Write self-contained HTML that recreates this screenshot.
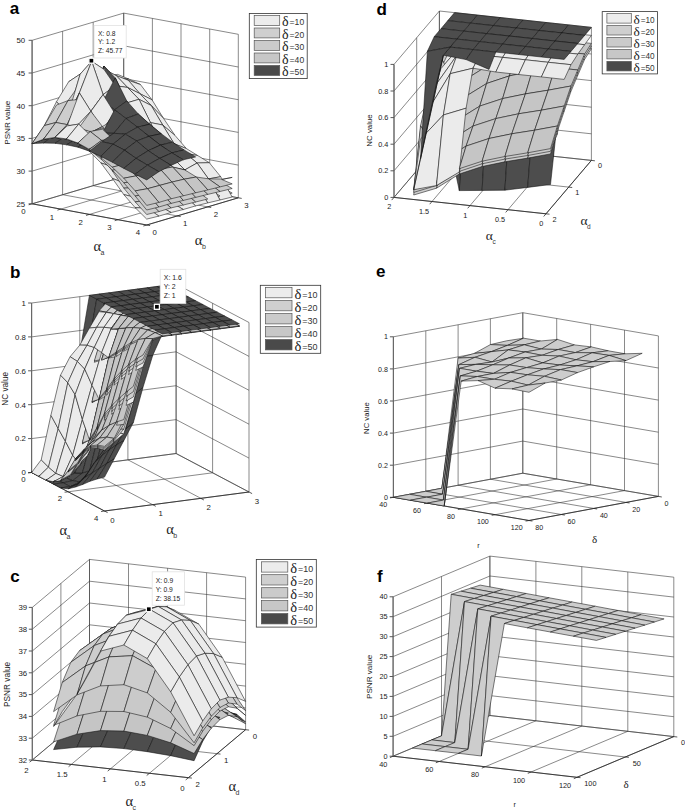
<!DOCTYPE html>
<html><head><meta charset="utf-8"><style>
html,body{margin:0;padding:0;background:#fff;}
svg{display:block;font-family:"Liberation Sans",sans-serif;}
</style></head><body>
<svg width="685" height="811" viewBox="0 0 685 811">
<rect width="685" height="811" fill="#fff"/>
<path d="M32.1,203.8L123.7,176.6M60.8,209.1L152.4,181.9M89.4,214.4L181,187.2M118,219.7L209.7,192.5M146.7,225L238.3,197.8M32.1,203.8L146.7,225M62.6,194.7L177.2,215.9M93.2,185.7L207.8,206.9M123.7,176.6L238.3,197.8M32.1,203.8L32.1,40.3M62.6,194.7L62.6,31.2M93.2,185.7L93.2,22.2M123.7,176.6L123.7,13.1M32.1,203.8L123.7,176.6M32.1,171.1L123.7,143.9M32.1,138.4L123.7,111.2M32.1,105.7L123.7,78.5M32.1,73L123.7,45.8M32.1,40.3L123.7,13.1M123.7,176.6L123.7,13.1M152.4,181.9L152.4,18.4M181,187.2L181,23.7M209.7,192.5L209.7,29M238.3,197.8L238.3,34.3M123.7,176.6L238.3,197.8M123.7,143.9L238.3,165.1M123.7,111.2L238.3,132.4M123.7,78.5L238.3,99.7M123.7,45.8L238.3,67M123.7,13.1L238.3,34.3" stroke="#3a3a3a" stroke-width="0.6" fill="none"/>
<path d="M32.1,203.8L146.7,225M146.7,225L238.3,197.8M32.1,203.8L28.6,203.8M32.1,171.1L28.6,171.1M32.1,138.4L28.6,138.4M32.1,105.7L28.6,105.7M32.1,73L28.6,73M32.1,40.3L28.6,40.3M32.1,203.8L28.7,204.8M60.8,209.1L57.4,210.1M89.4,214.4L86,215.4M118,219.7L114.7,220.7M146.7,225L143.3,226M146.7,225L150.1,225.6M177.2,215.9L180.7,216.6M207.8,206.9L211.2,207.5M238.3,197.8L241.7,198.4" stroke="#222" stroke-width="0.75" fill="none"/>
<path d="M32.1,203.8L32.1,40.3" stroke="#666" stroke-width="1.1" fill="none"/>
<text x="25.1" y="206.6" font-size="7.8" text-anchor="end" fill="#1a1a1a" >25</text>
<text x="25.1" y="173.9" font-size="7.8" text-anchor="end" fill="#1a1a1a" >30</text>
<text x="25.1" y="141.2" font-size="7.8" text-anchor="end" fill="#1a1a1a" >35</text>
<text x="25.1" y="108.5" font-size="7.8" text-anchor="end" fill="#1a1a1a" >40</text>
<text x="25.1" y="75.8" font-size="7.8" text-anchor="end" fill="#1a1a1a" >45</text>
<text x="25.1" y="43.1" font-size="7.8" text-anchor="end" fill="#1a1a1a" >50</text>
<text x="25.6" y="214.2" font-size="7.8" text-anchor="end" fill="#1a1a1a" >0</text>
<text x="54.2" y="219.5" font-size="7.8" text-anchor="end" fill="#1a1a1a" >1</text>
<text x="82.9" y="224.8" font-size="7.8" text-anchor="end" fill="#1a1a1a" >2</text>
<text x="111.5" y="230.1" font-size="7.8" text-anchor="end" fill="#1a1a1a" >3</text>
<text x="140.2" y="235.4" font-size="7.8" text-anchor="end" fill="#1a1a1a" >4</text>
<text x="152.6" y="234.9" font-size="7.8" text-anchor="start" fill="#1a1a1a" >0</text>
<text x="183.1" y="225.8" font-size="7.8" text-anchor="start" fill="#1a1a1a" >1</text>
<text x="213.7" y="216.8" font-size="7.8" text-anchor="start" fill="#1a1a1a" >2</text>
<text x="244.2" y="207.7" font-size="7.8" text-anchor="start" fill="#1a1a1a" >3</text>
<text x="9.7" y="14" font-size="17" text-anchor="start" fill="#000" font-weight="bold" >a</text>
<text x="0" y="0" font-size="8.1" text-anchor="middle" fill="#1a1a1a" transform="translate(9.6,122.7) rotate(-90)">PSNR value</text>
<text x="93.6" y="251" font-family='"Liberation Serif", serif' font-size="14.5" text-anchor="start" fill="#222" >α</text>
<text x="100.6" y="255.2" font-size="7" text-anchor="start" fill="#333" >a</text>
<text x="194.8" y="245" font-family='"Liberation Serif", serif' font-size="14.5" text-anchor="start" fill="#222" >α</text>
<text x="201.9" y="249.2" font-size="7" text-anchor="start" fill="#333" >b</text>
<path d="M31.6,472.5L176.1,453.5M68.1,491.8L212.6,472.8M104.5,511L249,492M31.6,472.5L104.5,511M79.8,466.2L152.7,504.7M127.9,459.8L200.8,498.3M176.1,453.5L249,492M31.6,472.5L31.6,303M79.8,466.2L79.8,296.7M127.9,459.8L127.9,290.3M176.1,453.5L176.1,284M31.6,472.5L176.1,453.5M31.6,438.6L176.1,419.6M31.6,404.7L176.1,385.7M31.6,370.8L176.1,351.8M31.6,336.9L176.1,317.9M31.6,303L176.1,284M176.1,453.5L176.1,284M212.6,472.8L212.6,303.2M249,492L249,322.5M176.1,453.5L249,492M176.1,419.6L249,458.1M176.1,385.7L249,424.2M176.1,351.8L249,390.3M176.1,317.9L249,356.4M176.1,284L249,322.5" stroke="#3a3a3a" stroke-width="0.6" fill="none"/>
<path d="M31.6,472.5L104.5,511M104.5,511L249,492M31.6,472.5L28.1,472.5M31.6,438.6L28.1,438.6M31.6,404.7L28.1,404.7M31.6,370.8L28.1,370.8M31.6,336.9L28.1,336.9M31.6,303L28.1,303M31.6,472.5L28.1,473M68.1,491.8L64.6,492.2M104.5,511L101,511.5M104.5,511L107.6,512.6M152.7,504.7L155.8,506.3M200.8,498.3L203.9,500M249,492L252.1,493.6" stroke="#222" stroke-width="0.75" fill="none"/>
<path d="M31.6,472.5L31.6,303" stroke="#666" stroke-width="1.1" fill="none"/>
<text x="25.9" y="475.3" font-size="7.8" text-anchor="end" fill="#1a1a1a" >0</text>
<text x="25.9" y="441.4" font-size="7.8" text-anchor="end" fill="#1a1a1a" >0.2</text>
<text x="25.9" y="407.5" font-size="7.8" text-anchor="end" fill="#1a1a1a" >0.4</text>
<text x="25.9" y="373.6" font-size="7.8" text-anchor="end" fill="#1a1a1a" >0.6</text>
<text x="25.9" y="339.7" font-size="7.8" text-anchor="end" fill="#1a1a1a" >0.8</text>
<text x="25.9" y="305.8" font-size="7.8" text-anchor="end" fill="#1a1a1a" >1</text>
<text x="25.5" y="482.2" font-size="7.8" text-anchor="end" fill="#1a1a1a" >0</text>
<text x="62" y="501.4" font-size="7.8" text-anchor="end" fill="#1a1a1a" >2</text>
<text x="98.4" y="520.7" font-size="7.8" text-anchor="end" fill="#1a1a1a" >4</text>
<text x="110.2" y="522.6" font-size="7.8" text-anchor="start" fill="#1a1a1a" >0</text>
<text x="158.4" y="516.3" font-size="7.8" text-anchor="start" fill="#1a1a1a" >1</text>
<text x="206.5" y="509.9" font-size="7.8" text-anchor="start" fill="#1a1a1a" >2</text>
<text x="254.7" y="503.6" font-size="7.8" text-anchor="start" fill="#1a1a1a" >3</text>
<text x="10.1" y="278.4" font-size="17" text-anchor="start" fill="#000" font-weight="bold" >b</text>
<text x="0" y="0" font-size="8.2" text-anchor="middle" fill="#1a1a1a" transform="translate(7.9,388.8) rotate(-90)">NC value</text>
<text x="59.4" y="534.5" font-family='"Liberation Serif", serif' font-size="14.5" text-anchor="start" fill="#222" >α</text>
<text x="66.5" y="538.7" font-size="7" text-anchor="start" fill="#333" >a</text>
<text x="166.2" y="533.5" font-family='"Liberation Serif", serif' font-size="14.5" text-anchor="start" fill="#222" >α</text>
<text x="173.2" y="537.7" font-size="7" text-anchor="start" fill="#333" >b</text>
<path d="M32.3,760L89.5,712M71.3,764.4L128.5,716.4M110.4,768.9L167.6,720.9M149.4,773.3L206.6,725.3M188.4,777.7L245.6,729.7M32.3,760L188.4,777.7M60.9,736L217,753.7M89.5,712L245.6,729.7M32.3,760L32.3,607.4M60.9,736L60.9,583.4M89.5,712L89.5,559.4M32.3,760L89.5,712M32.3,738.2L89.5,690.2M32.3,716.4L89.5,668.4M32.3,694.6L89.5,646.6M32.3,672.8L89.5,624.8M32.3,651L89.5,603M32.3,629.2L89.5,581.2M32.3,607.4L89.5,559.4M89.5,712L89.5,559.4M128.5,716.4L128.5,563.8M167.6,720.9L167.6,568.2M206.6,725.3L206.6,572.7M245.6,729.7L245.6,577.1M89.5,712L245.6,729.7M89.5,690.2L245.6,707.9M89.5,668.4L245.6,686.1M89.5,646.6L245.6,664.3M89.5,624.8L245.6,642.5M89.5,603L245.6,620.7M89.5,581.2L245.6,598.9M89.5,559.4L245.6,577.1" stroke="#3a3a3a" stroke-width="0.6" fill="none"/>
<path d="M32.3,760L188.4,777.7M188.4,777.7L245.6,729.7M32.3,760L28.8,760M32.3,738.2L28.8,738.2M32.3,716.4L28.8,716.4M32.3,694.6L28.8,694.6M32.3,672.8L28.8,672.8M32.3,651L28.8,651M32.3,629.2L28.8,629.2M32.3,607.4L28.8,607.4M32.3,760L29.6,762.2M71.3,764.4L68.6,766.7M110.4,768.9L107.7,771.1M149.4,773.3L146.7,775.5M188.4,777.7L185.7,779.9M188.4,777.7L191.9,778.1M217,753.7L220.5,754.1M245.6,729.7L249.1,730.1" stroke="#222" stroke-width="0.75" fill="none"/>
<path d="M32.3,760L32.3,607.4" stroke="#666" stroke-width="1.1" fill="none"/>
<text x="27.1" y="762.8" font-size="7.8" text-anchor="end" fill="#1a1a1a" >32</text>
<text x="27.1" y="741" font-size="7.8" text-anchor="end" fill="#1a1a1a" >33</text>
<text x="27.1" y="719.2" font-size="7.8" text-anchor="end" fill="#1a1a1a" >34</text>
<text x="27.1" y="697.4" font-size="7.8" text-anchor="end" fill="#1a1a1a" >35</text>
<text x="27.1" y="675.6" font-size="7.8" text-anchor="end" fill="#1a1a1a" >36</text>
<text x="27.1" y="653.8" font-size="7.8" text-anchor="end" fill="#1a1a1a" >37</text>
<text x="27.1" y="632" font-size="7.8" text-anchor="end" fill="#1a1a1a" >38</text>
<text x="27.1" y="610.2" font-size="7.8" text-anchor="end" fill="#1a1a1a" >39</text>
<text x="28.6" y="772.9" font-size="7.8" text-anchor="end" fill="#1a1a1a" >2</text>
<text x="67.6" y="777.3" font-size="7.8" text-anchor="end" fill="#1a1a1a" >1.5</text>
<text x="106.7" y="781.8" font-size="7.8" text-anchor="end" fill="#1a1a1a" >1</text>
<text x="145.7" y="786.2" font-size="7.8" text-anchor="end" fill="#1a1a1a" >0.5</text>
<text x="184.7" y="790.6" font-size="7.8" text-anchor="end" fill="#1a1a1a" >0</text>
<text x="195.5" y="786.6" font-size="7.8" text-anchor="start" fill="#1a1a1a" >2</text>
<text x="224.1" y="762.6" font-size="7.8" text-anchor="start" fill="#1a1a1a" >1</text>
<text x="252.7" y="738.6" font-size="7.8" text-anchor="start" fill="#1a1a1a" >0</text>
<text x="10.3" y="581.8" font-size="17" text-anchor="start" fill="#000" font-weight="bold" >c</text>
<text x="0" y="0" font-size="8.3" text-anchor="middle" fill="#1a1a1a" transform="translate(10,684.4) rotate(-90)">PSNR value</text>
<text x="125.5" y="806" font-family='"Liberation Serif", serif' font-size="14.5" text-anchor="start" fill="#222" >α</text>
<text x="132.6" y="810.2" font-size="7" text-anchor="start" fill="#333" >c</text>
<text x="228.4" y="791" font-family='"Liberation Serif", serif' font-size="14.5" text-anchor="start" fill="#222" >α</text>
<text x="235.5" y="795.2" font-size="7" text-anchor="start" fill="#333" >d</text>
<path d="M394,197.4L439.4,144M432,201.5L477.4,148.1M470,205.6L515.4,152.2M508,209.7L553.4,156.3M546,213.8L591.4,160.4M394,197.4L546,213.8M416.7,170.7L568.7,187.1M439.4,144L591.4,160.4M394,197.4L394,64.4M416.7,170.7L416.7,37.7M439.4,144L439.4,11M394,197.4L439.4,144M394,170.8L439.4,117.4M394,144.2L439.4,90.8M394,117.6L439.4,64.2M394,91L439.4,37.6M394,64.4L439.4,11M439.4,144L439.4,11M477.4,148.1L477.4,15.1M515.4,152.2L515.4,19.2M553.4,156.3L553.4,23.3M591.4,160.4L591.4,27.4M439.4,144L591.4,160.4M439.4,117.4L591.4,133.8M439.4,90.8L591.4,107.2M439.4,64.2L591.4,80.6M439.4,37.6L591.4,54M439.4,11L591.4,27.4" stroke="#3a3a3a" stroke-width="0.6" fill="none"/>
<path d="M394,197.4L546,213.8M546,213.8L591.4,160.4M394,197.4L390.5,197.4M394,170.8L390.5,170.8M394,144.2L390.5,144.2M394,117.6L390.5,117.6M394,91L390.5,91M394,64.4L390.5,64.4M394,197.4L391.7,200.1M432,201.5L429.7,204.2M470,205.6L467.7,208.3M508,209.7L505.7,212.4M546,213.8L543.7,216.5M546,213.8L549.5,214.2M568.7,187.1L572.2,187.5M591.4,160.4L594.9,160.8" stroke="#222" stroke-width="0.75" fill="none"/>
<path d="M394,197.4L394,64.4" stroke="#666" stroke-width="1.1" fill="none"/>
<text x="388.3" y="200" font-size="7.3" text-anchor="end" fill="#1a1a1a" >0</text>
<text x="388.3" y="173.4" font-size="7.3" text-anchor="end" fill="#1a1a1a" >0.2</text>
<text x="388.3" y="146.8" font-size="7.3" text-anchor="end" fill="#1a1a1a" >0.4</text>
<text x="388.3" y="120.2" font-size="7.3" text-anchor="end" fill="#1a1a1a" >0.6</text>
<text x="388.3" y="93.6" font-size="7.3" text-anchor="end" fill="#1a1a1a" >0.8</text>
<text x="388.3" y="67" font-size="7.3" text-anchor="end" fill="#1a1a1a" >1</text>
<text x="391.2" y="209.4" font-size="7.3" text-anchor="end" fill="#1a1a1a" >2</text>
<text x="429.2" y="213.5" font-size="7.3" text-anchor="end" fill="#1a1a1a" >1.5</text>
<text x="467.2" y="217.6" font-size="7.3" text-anchor="end" fill="#1a1a1a" >1</text>
<text x="505.2" y="221.7" font-size="7.3" text-anchor="end" fill="#1a1a1a" >0.5</text>
<text x="543.2" y="225.8" font-size="7.3" text-anchor="end" fill="#1a1a1a" >0</text>
<text x="552.5" y="221.8" font-size="7.3" text-anchor="start" fill="#1a1a1a" >2</text>
<text x="575.2" y="195.1" font-size="7.3" text-anchor="start" fill="#1a1a1a" >1</text>
<text x="597.9" y="168.4" font-size="7.3" text-anchor="start" fill="#1a1a1a" >0</text>
<text x="376.5" y="14.8" font-size="17" text-anchor="start" fill="#000" font-weight="bold" >d</text>
<text x="0" y="0" font-size="7.85" text-anchor="middle" fill="#1a1a1a" transform="translate(372.4,130.5) rotate(-90)">NC value</text>
<text x="485.8" y="240" font-family='"Liberation Serif", serif' font-size="13.5" text-anchor="start" fill="#222" >α</text>
<text x="492.4" y="244.2" font-size="6.5" text-anchor="start" fill="#333" >c</text>
<text x="580.5" y="225" font-family='"Liberation Serif", serif' font-size="13.5" text-anchor="start" fill="#222" >α</text>
<text x="587" y="229.2" font-size="6.5" text-anchor="start" fill="#333" >d</text>
<path d="M393.4,497.3L522.8,473.2M427.3,503.1L556.7,479M461.2,508.9L590.6,484.8M495.1,514.7L624.5,490.6M529,520.5L658.4,496.4M393.4,497.3L529,520.5M425.8,491.3L561.4,514.5M458.1,485.2L593.7,508.4M490.4,479.2L626,502.4M522.8,473.2L658.4,496.4M393.4,497.3L393.4,336.8M425.8,491.3L425.8,330.8M458.1,485.2L458.1,324.8M490.4,479.2L490.4,318.7M522.8,473.2L522.8,312.7M393.4,497.3L522.8,473.2M393.4,465.2L522.8,441.1M393.4,433.1L522.8,409M393.4,401L522.8,376.9M393.4,368.9L522.8,344.8M393.4,336.8L522.8,312.7M522.8,473.2L522.8,312.7M556.7,479L556.7,318.5M590.6,484.8L590.6,324.3M624.5,490.6L624.5,330.1M658.4,496.4L658.4,335.9M522.8,473.2L658.4,496.4M522.8,441.1L658.4,464.3M522.8,409L658.4,432.2M522.8,376.9L658.4,400.1M522.8,344.8L658.4,368M522.8,312.7L658.4,335.9" stroke="#3a3a3a" stroke-width="0.6" fill="none"/>
<path d="M393.4,497.3L529,520.5M529,520.5L658.4,496.4M393.4,497.3L389.9,497.3M393.4,465.2L389.9,465.2M393.4,433.1L389.9,433.1M393.4,401L389.9,401M393.4,368.9L389.9,368.9M393.4,336.8L389.9,336.8M393.4,497.3L390,497.9M427.3,503.1L423.9,503.7M461.2,508.9L457.8,509.5M495.1,514.7L491.7,515.3M529,520.5L525.6,521.1M529,520.5L532.4,521.1M561.4,514.5L564.8,515.1M593.7,508.4L597.1,509M626,502.4L629.5,503M658.4,496.4L661.8,497" stroke="#222" stroke-width="0.75" fill="none"/>
<path d="M393.4,497.3L393.4,336.8" stroke="#666" stroke-width="1.1" fill="none"/>
<text x="387.9" y="499.9" font-size="7.1" text-anchor="end" fill="#1a1a1a" >0</text>
<text x="387.9" y="467.8" font-size="7.1" text-anchor="end" fill="#1a1a1a" >0.2</text>
<text x="387.9" y="435.7" font-size="7.1" text-anchor="end" fill="#1a1a1a" >0.4</text>
<text x="387.9" y="403.6" font-size="7.1" text-anchor="end" fill="#1a1a1a" >0.6</text>
<text x="387.9" y="371.5" font-size="7.1" text-anchor="end" fill="#1a1a1a" >0.8</text>
<text x="387.9" y="339.4" font-size="7.1" text-anchor="end" fill="#1a1a1a" >1</text>
<text x="387.1" y="507" font-size="7.1" text-anchor="end" fill="#1a1a1a" >40</text>
<text x="421" y="512.8" font-size="7.1" text-anchor="end" fill="#1a1a1a" >60</text>
<text x="454.9" y="518.6" font-size="7.1" text-anchor="end" fill="#1a1a1a" >80</text>
<text x="488.8" y="524.4" font-size="7.1" text-anchor="end" fill="#1a1a1a" >100</text>
<text x="522.7" y="530.2" font-size="7.1" text-anchor="end" fill="#1a1a1a" >120</text>
<text x="535.2" y="530" font-size="7.1" text-anchor="start" fill="#1a1a1a" >80</text>
<text x="567.6" y="524" font-size="7.1" text-anchor="start" fill="#1a1a1a" >60</text>
<text x="599.9" y="518" font-size="7.1" text-anchor="start" fill="#1a1a1a" >40</text>
<text x="632.2" y="511.9" font-size="7.1" text-anchor="start" fill="#1a1a1a" >20</text>
<text x="664.6" y="505.9" font-size="7.1" text-anchor="start" fill="#1a1a1a" >0</text>
<text x="376" y="277.3" font-size="17" text-anchor="start" fill="#000" font-weight="bold" >e</text>
<text x="0" y="0" font-size="7.7" text-anchor="middle" fill="#1a1a1a" transform="translate(369.1,418.1) rotate(-90)">NC value</text>
<text x="592" y="543" font-family='"Liberation Serif", serif' font-size="11" text-anchor="start" fill="#222" >δ</text>
<text x="477.3" y="548.3" font-size="7.2" text-anchor="start" fill="#222" >r</text>
<path d="M393.1,756.2L489.9,715.5M439.1,761.5L535.9,720.8M485.1,766.8L581.8,726.1M531,772L627.8,731.3M577,777.3L673.8,736.6M393.1,756.2L577,777.3M441.5,735.9L625.4,757M489.9,715.5L673.8,736.6M393.1,756.2L393.1,596.8M441.5,735.9L441.5,576.5M489.9,715.5L489.9,556.1M393.1,756.2L489.9,715.5M393.1,736.3L489.9,695.6M393.1,716.4L489.9,675.7M393.1,696.4L489.9,655.7M393.1,676.5L489.9,635.8M393.1,656.6L489.9,615.9M393.1,636.7L489.9,596M393.1,616.7L489.9,576M393.1,596.8L489.9,556.1M489.9,715.5L489.9,556.1M535.9,720.8L535.9,561.4M581.8,726.1L581.8,566.7M627.8,731.3L627.8,571.9M673.8,736.6L673.8,577.2M489.9,715.5L673.8,736.6M489.9,695.6L673.8,716.7M489.9,675.7L673.8,696.8M489.9,655.7L673.8,676.8M489.9,635.8L673.8,656.9M489.9,615.9L673.8,637M489.9,596L673.8,617M489.9,576L673.8,597.1M489.9,556.1L673.8,577.2" stroke="#3a3a3a" stroke-width="0.6" fill="none"/>
<path d="M393.1,756.2L577,777.3M577,777.3L673.8,736.6M393.1,756.2L389.6,756.2M393.1,736.3L389.6,736.3M393.1,716.4L389.6,716.4M393.1,696.4L389.6,696.4M393.1,676.5L389.6,676.5M393.1,656.6L389.6,656.6M393.1,636.7L389.6,636.7M393.1,616.7L389.6,616.7M393.1,596.8L389.6,596.8M393.1,756.2L389.9,757.6M439.1,761.5L435.8,762.8M485.1,766.8L481.8,768.1M531,772L527.8,773.4M577,777.3L573.8,778.7M577,777.3L580.5,777.7M625.4,757L628.9,757.3M673.8,736.6L677.3,737" stroke="#222" stroke-width="0.75" fill="none"/>
<path d="M393.1,756.2L393.1,596.8" stroke="#666" stroke-width="1.1" fill="none"/>
<text x="387.6" y="758.8" font-size="7.3" text-anchor="end" fill="#1a1a1a" >0</text>
<text x="387.6" y="738.9" font-size="7.3" text-anchor="end" fill="#1a1a1a" >5</text>
<text x="387.6" y="719" font-size="7.3" text-anchor="end" fill="#1a1a1a" >10</text>
<text x="387.6" y="699.1" font-size="7.3" text-anchor="end" fill="#1a1a1a" >15</text>
<text x="387.6" y="679.1" font-size="7.3" text-anchor="end" fill="#1a1a1a" >20</text>
<text x="387.6" y="659.2" font-size="7.3" text-anchor="end" fill="#1a1a1a" >25</text>
<text x="387.6" y="639.3" font-size="7.3" text-anchor="end" fill="#1a1a1a" >30</text>
<text x="387.6" y="619.4" font-size="7.3" text-anchor="end" fill="#1a1a1a" >35</text>
<text x="387.6" y="599.4" font-size="7.3" text-anchor="end" fill="#1a1a1a" >40</text>
<text x="387.3" y="766.7" font-size="7.3" text-anchor="end" fill="#1a1a1a" >40</text>
<text x="433.3" y="772" font-size="7.3" text-anchor="end" fill="#1a1a1a" >60</text>
<text x="479.2" y="777.2" font-size="7.3" text-anchor="end" fill="#1a1a1a" >80</text>
<text x="525.2" y="782.5" font-size="7.3" text-anchor="end" fill="#1a1a1a" >100</text>
<text x="571.2" y="787.8" font-size="7.3" text-anchor="end" fill="#1a1a1a" >120</text>
<text x="584.3" y="786.1" font-size="7.3" text-anchor="start" fill="#1a1a1a" >100</text>
<text x="632.7" y="765.8" font-size="7.3" text-anchor="start" fill="#1a1a1a" >50</text>
<text x="681.1" y="745.4" font-size="7.3" text-anchor="start" fill="#1a1a1a" >0</text>
<text x="377" y="581.8" font-size="17" text-anchor="start" fill="#000" font-weight="bold" >f</text>
<text x="0" y="0" font-size="8.1" text-anchor="middle" fill="#1a1a1a" transform="translate(371.5,676.9) rotate(-90)">PSNR value</text>
<text x="623.5" y="787.8" font-family='"Liberation Serif", serif' font-size="11" text-anchor="start" fill="#222" >δ</text>
<text x="513.5" y="807.2" font-size="7.2" text-anchor="start" fill="#222" >r</text>
<rect x="249.3" y="13.4" width="57.9" height="65.2" fill="#fff" stroke="#333" stroke-width="0.8"/>
<rect x="254.2" y="15.5" width="25.5" height="9.9" fill="#ececec" stroke="#555" stroke-width="0.7"/>
<text x="282" y="26.4" font-family='"Liberation Serif", serif' font-size="14.0" text-anchor="start" fill="#222" >δ</text>
<text x="289.6" y="25.1" font-size="8.6" text-anchor="start" fill="#333" >=10</text>
<rect x="254.2" y="28" width="25.5" height="9.9" fill="#cfcfcf" stroke="#555" stroke-width="0.7"/>
<text x="282" y="38.9" font-family='"Liberation Serif", serif' font-size="14.0" text-anchor="start" fill="#222" >δ</text>
<text x="289.6" y="37.6" font-size="8.6" text-anchor="start" fill="#333" >=20</text>
<rect x="254.2" y="40.5" width="25.5" height="9.9" fill="#cbcbcb" stroke="#555" stroke-width="0.7"/>
<text x="282" y="51.4" font-family='"Liberation Serif", serif' font-size="14.0" text-anchor="start" fill="#222" >δ</text>
<text x="289.6" y="50.1" font-size="8.6" text-anchor="start" fill="#333" >=30</text>
<rect x="254.2" y="53" width="25.5" height="9.9" fill="#c7c7c7" stroke="#555" stroke-width="0.7"/>
<text x="282" y="63.9" font-family='"Liberation Serif", serif' font-size="14.0" text-anchor="start" fill="#222" >δ</text>
<text x="289.6" y="62.6" font-size="8.6" text-anchor="start" fill="#333" >=40</text>
<rect x="254.2" y="65.5" width="25.5" height="9.9" fill="#4a4a4a" stroke="#555" stroke-width="0.7"/>
<text x="282" y="76.4" font-family='"Liberation Serif", serif' font-size="14.0" text-anchor="start" fill="#222" >δ</text>
<text x="289.6" y="75.1" font-size="8.6" text-anchor="start" fill="#333" >=50</text>
<rect x="260.3" y="285.3" width="60.4" height="68" fill="#fff" stroke="#333" stroke-width="0.8"/>
<rect x="265.4" y="287.5" width="26.6" height="10.3" fill="#ececec" stroke="#555" stroke-width="0.7"/>
<text x="294.4" y="298.9" font-family='"Liberation Serif", serif' font-size="14.6" text-anchor="start" fill="#222" >δ</text>
<text x="302.3" y="297.5" font-size="8.97" text-anchor="start" fill="#333" >=10</text>
<rect x="265.4" y="300.5" width="26.6" height="10.3" fill="#cfcfcf" stroke="#555" stroke-width="0.7"/>
<text x="294.4" y="311.9" font-family='"Liberation Serif", serif' font-size="14.6" text-anchor="start" fill="#222" >δ</text>
<text x="302.3" y="310.5" font-size="8.97" text-anchor="start" fill="#333" >=20</text>
<rect x="265.4" y="313.6" width="26.6" height="10.3" fill="#cbcbcb" stroke="#555" stroke-width="0.7"/>
<text x="294.4" y="324.9" font-family='"Liberation Serif", serif' font-size="14.6" text-anchor="start" fill="#222" >δ</text>
<text x="302.3" y="323.6" font-size="8.97" text-anchor="start" fill="#333" >=30</text>
<rect x="265.4" y="326.6" width="26.6" height="10.3" fill="#c7c7c7" stroke="#555" stroke-width="0.7"/>
<text x="294.4" y="338" font-family='"Liberation Serif", serif' font-size="14.6" text-anchor="start" fill="#222" >δ</text>
<text x="302.3" y="336.6" font-size="8.97" text-anchor="start" fill="#333" >=40</text>
<rect x="265.4" y="339.6" width="26.6" height="10.3" fill="#4a4a4a" stroke="#555" stroke-width="0.7"/>
<text x="294.4" y="351" font-family='"Liberation Serif", serif' font-size="14.6" text-anchor="start" fill="#222" >δ</text>
<text x="302.3" y="349.7" font-size="8.97" text-anchor="start" fill="#333" >=50</text>
<rect x="256.3" y="559.6" width="60" height="67.5" fill="#fff" stroke="#333" stroke-width="0.8"/>
<rect x="261.4" y="561.8" width="26.4" height="10.3" fill="#ececec" stroke="#555" stroke-width="0.7"/>
<text x="290.2" y="573.1" font-family='"Liberation Serif", serif' font-size="14.5" text-anchor="start" fill="#222" >δ</text>
<text x="298.1" y="571.7" font-size="8.91" text-anchor="start" fill="#333" >=10</text>
<rect x="261.4" y="574.7" width="26.4" height="10.3" fill="#cfcfcf" stroke="#555" stroke-width="0.7"/>
<text x="290.2" y="586" font-family='"Liberation Serif", serif' font-size="14.5" text-anchor="start" fill="#222" >δ</text>
<text x="298.1" y="584.7" font-size="8.91" text-anchor="start" fill="#333" >=20</text>
<rect x="261.4" y="587.7" width="26.4" height="10.3" fill="#cbcbcb" stroke="#555" stroke-width="0.7"/>
<text x="290.2" y="599" font-family='"Liberation Serif", serif' font-size="14.5" text-anchor="start" fill="#222" >δ</text>
<text x="298.1" y="597.6" font-size="8.91" text-anchor="start" fill="#333" >=30</text>
<rect x="261.4" y="600.6" width="26.4" height="10.3" fill="#c7c7c7" stroke="#555" stroke-width="0.7"/>
<text x="290.2" y="611.9" font-family='"Liberation Serif", serif' font-size="14.5" text-anchor="start" fill="#222" >δ</text>
<text x="298.1" y="610.6" font-size="8.91" text-anchor="start" fill="#333" >=40</text>
<rect x="261.4" y="613.6" width="26.4" height="10.3" fill="#4a4a4a" stroke="#555" stroke-width="0.7"/>
<text x="290.2" y="624.9" font-family='"Liberation Serif", serif' font-size="14.5" text-anchor="start" fill="#222" >δ</text>
<text x="298.1" y="623.5" font-size="8.91" text-anchor="start" fill="#333" >=50</text>
<rect x="602.2" y="11.6" width="55.3" height="62.3" fill="#fff" stroke="#333" stroke-width="0.8"/>
<rect x="606.9" y="13.6" width="24.4" height="9.5" fill="#ececec" stroke="#555" stroke-width="0.7"/>
<text x="633.4" y="24" font-family='"Liberation Serif", serif' font-size="13.37" text-anchor="start" fill="#222" >δ</text>
<text x="640.7" y="22.8" font-size="8.21" text-anchor="start" fill="#333" >=10</text>
<rect x="606.9" y="25.5" width="24.4" height="9.5" fill="#cfcfcf" stroke="#555" stroke-width="0.7"/>
<text x="633.4" y="36" font-family='"Liberation Serif", serif' font-size="13.37" text-anchor="start" fill="#222" >δ</text>
<text x="640.7" y="34.7" font-size="8.21" text-anchor="start" fill="#333" >=20</text>
<rect x="606.9" y="37.5" width="24.4" height="9.5" fill="#cbcbcb" stroke="#555" stroke-width="0.7"/>
<text x="633.4" y="47.9" font-family='"Liberation Serif", serif' font-size="13.37" text-anchor="start" fill="#222" >δ</text>
<text x="640.7" y="46.6" font-size="8.21" text-anchor="start" fill="#333" >=30</text>
<rect x="606.9" y="49.4" width="24.4" height="9.5" fill="#c7c7c7" stroke="#555" stroke-width="0.7"/>
<text x="633.4" y="59.8" font-family='"Liberation Serif", serif' font-size="13.37" text-anchor="start" fill="#222" >δ</text>
<text x="640.7" y="58.6" font-size="8.21" text-anchor="start" fill="#333" >=40</text>
<rect x="606.9" y="61.4" width="24.4" height="9.5" fill="#4a4a4a" stroke="#555" stroke-width="0.7"/>
<text x="633.4" y="71.8" font-family='"Liberation Serif", serif' font-size="13.37" text-anchor="start" fill="#222" >δ</text>
<text x="640.7" y="70.5" font-size="8.21" text-anchor="start" fill="#333" >=50</text>
<g stroke="#111" stroke-width="0.55" stroke-linejoin="round">
<polygon points="506.6,340.8 523.6,338.2 507.4,345.4 490.4,344.6" fill="#cdcdcd"/>
<polygon points="490.4,344.6 507.4,345.4 491.2,351.7 474.3,353.4" fill="#cdcdcd"/>
<polygon points="523.6,338.2 540.5,341 524.3,344.8 507.4,345.4" fill="#cdcdcd"/>
<polygon points="474.3,353.4 491.2,351.7 475,357.3 458.1,358.1" fill="#cdcdcd"/>
<polygon points="507.4,345.4 524.3,344.8 508.2,349.9 491.2,351.7" fill="#cdcdcd"/>
<polygon points="540.5,341 557.5,339.4 541.3,349.1 524.3,344.8" fill="#cdcdcd"/>
<polygon points="458.1,358.1 475,357.3 458.9,364.6 441.9,488.3" fill="#cdcdcd"/>
<polygon points="441.9,488.3 458.9,364.6 442.7,494.2 425.8,491.3" fill="#cdcdcd"/>
<polygon points="491.2,351.7 508.2,349.9 492,362 475,357.3" fill="#cdcdcd"/>
<polygon points="557.5,339.4 574.4,344.9 558.2,349.5 541.3,349.1" fill="#cdcdcd"/>
<polygon points="524.3,344.8 541.3,349.1 525.1,352 508.2,349.9" fill="#cdcdcd"/>
<polygon points="425.8,491.3 442.7,494.2 426.5,497.2 409.6,494.3" fill="#cdcdcd"/>
<polygon points="475,357.3 492,362 475.8,364.4 458.9,364.6" fill="#cdcdcd"/>
<polygon points="574.4,344.9 591.4,346.9 575.2,352.6 558.2,349.5" fill="#cdcdcd"/>
<polygon points="508.2,349.9 525.1,352 508.9,358 492,362" fill="#cdcdcd"/>
<polygon points="541.3,349.1 558.2,349.5 542.1,355.3 525.1,352" fill="#cdcdcd"/>
<polygon points="409.6,494.3 426.5,497.2 410.3,500.2 393.4,497.3" fill="#cdcdcd"/>
<polygon points="458.9,364.6 475.8,364.4 459.6,368.3 442.7,494.2" fill="#cdcdcd"/>
<polygon points="442.7,494.2 459.6,368.3 443.5,500.1 426.5,497.2" fill="#cdcdcd"/>
<polygon points="492,362 508.9,358 492.8,364.8 475.8,364.4" fill="#cdcdcd"/>
<polygon points="591.4,346.9 608.3,350.8 592.1,352.8 575.2,352.6" fill="#cdcdcd"/>
<polygon points="558.2,349.5 575.2,352.6 559,356.1 542.1,355.3" fill="#cdcdcd"/>
<polygon points="525.1,352 542.1,355.3 525.9,357.8 508.9,358" fill="#cdcdcd"/>
<polygon points="426.5,497.2 443.5,500.1 427.3,503.1 410.3,500.2" fill="#cdcdcd"/>
<polygon points="608.3,350.8 625.3,353.8 609.1,355.4 592.1,352.8" fill="#cdcdcd"/>
<polygon points="475.8,364.4 492.8,364.8 476.6,371.2 459.6,368.3" fill="#cdcdcd"/>
<polygon points="575.2,352.6 592.1,352.8 576,359.8 559,356.1" fill="#cdcdcd"/>
<polygon points="542.1,355.3 559,356.1 542.8,362.9 525.9,357.8" fill="#cdcdcd"/>
<polygon points="508.9,358 525.9,357.8 509.7,365 492.8,364.8" fill="#cdcdcd"/>
<polygon points="459.6,368.3 476.6,371.2 460.4,375.9 443.5,500.1" fill="#cdcdcd"/>
<polygon points="443.5,500.1 460.4,375.9 444.2,506 427.3,503.1" fill="#cdcdcd"/>
<polygon points="625.3,353.8 642.2,353.3 626,360.6 609.1,355.4" fill="#cdcdcd"/>
<polygon points="492.8,364.8 509.7,365 493.5,373.4 476.6,371.2" fill="#cdcdcd"/>
<polygon points="592.1,352.8 609.1,355.4 592.9,361.7 576,359.8" fill="#cdcdcd"/>
<polygon points="559,356.1 576,359.8 559.8,365 542.8,362.9" fill="#cdcdcd"/>
<polygon points="525.9,357.8 542.8,362.9 526.7,367.6 509.7,365" fill="#cdcdcd"/>
<polygon points="476.6,371.2 493.5,373.4 477.4,376.5 460.4,375.9" fill="#cdcdcd"/>
<polygon points="609.1,355.4 626,360.6 609.9,361.5 592.9,361.7" fill="#cdcdcd"/>
<polygon points="576,359.8 592.9,361.7 576.8,365.9 559.8,365" fill="#cdcdcd"/>
<polygon points="542.8,362.9 559.8,365 543.6,369 526.7,367.6" fill="#cdcdcd"/>
<polygon points="509.7,365 526.7,367.6 510.5,372.4 493.5,373.4" fill="#cdcdcd"/>
<polygon points="460.4,375.9 477.4,376.5 461.2,381.1 444.2,506" fill="#cdcdcd"/>
<polygon points="493.5,373.4 510.5,372.4 494.3,379.3 477.4,376.5" fill="#cdcdcd"/>
<polygon points="592.9,361.7 609.9,361.5 593.7,366.8 576.8,365.9" fill="#cdcdcd"/>
<polygon points="526.7,367.6 543.6,369 527.5,374.8 510.5,372.4" fill="#cdcdcd"/>
<polygon points="559.8,365 576.8,365.9 560.6,369.6 543.6,369" fill="#cdcdcd"/>
<polygon points="510.5,372.4 527.5,374.8 511.3,381.2 494.3,379.3" fill="#cdcdcd"/>
<polygon points="543.6,369 560.6,369.6 544.4,376.3 527.5,374.8" fill="#cdcdcd"/>
<polygon points="477.4,376.5 494.3,379.3 478.1,380.6 461.2,381.1" fill="#cdcdcd"/>
<polygon points="576.8,365.9 593.7,366.8 577.5,372.6 560.6,369.6" fill="#cdcdcd"/>
<polygon points="527.5,374.8 544.4,376.3 528.2,385.1 511.3,381.2" fill="#cdcdcd"/>
<polygon points="494.3,379.3 511.3,381.2 495.1,388.2 478.1,380.6" fill="#cdcdcd"/>
<polygon points="560.6,369.6 577.5,372.6 561.4,380 544.4,376.3" fill="#cdcdcd"/>
<polygon points="511.3,381.2 528.2,385.1 512,388.9 495.1,388.2" fill="#cdcdcd"/>
<polygon points="544.4,376.3 561.4,380 545.2,383 528.2,385.1" fill="#cdcdcd"/>
<polygon points="528.2,385.1 545.2,383 529,392.3 512,388.9" fill="#cdcdcd"/>
</g>
<g stroke="#111" stroke-width="0.55" stroke-linejoin="round">
<polygon points="480.2,585.1 503.2,589.3 493.5,592.4 470.5,588.2" fill="#cdcdcd"/>
<polygon points="503.2,589.3 526.2,593.5 516.5,596.6 493.5,592.4" fill="#cdcdcd"/>
<polygon points="470.5,588.2 493.5,592.4 483.8,595.5 460.9,591.2" fill="#cdcdcd"/>
<polygon points="526.2,593.5 549.2,597.8 539.5,600.8 516.5,596.6" fill="#cdcdcd"/>
<polygon points="493.5,592.4 516.5,596.6 506.8,599.7 483.8,595.5" fill="#cdcdcd"/>
<polygon points="549.2,597.8 572.2,602 562.5,605.1 539.5,600.8" fill="#cdcdcd"/>
<polygon points="460.9,591.2 483.8,595.5 474.2,598.5 451.2,594.3" fill="#cdcdcd"/>
<polygon points="516.5,596.6 539.5,600.8 529.8,603.9 506.8,599.7" fill="#cdcdcd"/>
<polygon points="572.2,602 595.2,606.2 585.5,609.3 562.5,605.1" fill="#cdcdcd"/>
<polygon points="451.2,594.3 474.2,598.5 464.5,601.6 441.5,735.9" fill="#cdcdcd"/>
<polygon points="483.8,595.5 506.8,599.7 497.2,602.8 474.2,598.5" fill="#cdcdcd"/>
<polygon points="441.5,735.9 464.5,601.6 454.8,742.6 431.8,739.9" fill="#cdcdcd"/>
<polygon points="539.5,600.8 562.5,605.1 552.8,608.1 529.8,603.9" fill="#cdcdcd"/>
<polygon points="595.2,606.2 618.1,610.5 608.5,613.5 585.5,609.3" fill="#cdcdcd"/>
<polygon points="506.8,599.7 529.8,603.9 520.1,607 497.2,602.8" fill="#cdcdcd"/>
<polygon points="431.8,739.9 454.8,742.6 445.1,746.6 422.1,744" fill="#cdcdcd"/>
<polygon points="562.5,605.1 585.5,609.3 575.8,612.4 552.8,608.1" fill="#cdcdcd"/>
<polygon points="474.2,598.5 497.2,602.8 487.5,605.8 464.5,601.6" fill="#cdcdcd"/>
<polygon points="618.1,610.5 641.1,614.7 631.5,617.8 608.5,613.5" fill="#cdcdcd"/>
<polygon points="529.8,603.9 552.8,608.1 543.1,611.2 520.1,607" fill="#cdcdcd"/>
<polygon points="585.5,609.3 608.5,613.5 598.8,616.6 575.8,612.4" fill="#cdcdcd"/>
<polygon points="464.5,601.6 487.5,605.8 477.8,608.9 454.8,742.6" fill="#cdcdcd"/>
<polygon points="497.2,602.8 520.1,607 510.5,610.1 487.5,605.8" fill="#cdcdcd"/>
<polygon points="422.1,744 445.1,746.6 435.4,750.7 412.5,748.1" fill="#cdcdcd"/>
<polygon points="641.1,614.7 664.1,618.9 654.4,622 631.5,617.8" fill="#cdcdcd"/>
<polygon points="454.8,742.6 477.8,608.9 468.1,749.3 445.1,746.6" fill="#cdcdcd"/>
<polygon points="552.8,608.1 575.8,612.4 566.1,615.5 543.1,611.2" fill="#cdcdcd"/>
<polygon points="608.5,613.5 631.5,617.8 621.8,620.8 598.8,616.6" fill="#cdcdcd"/>
<polygon points="520.1,607 543.1,611.2 533.5,614.3 510.5,610.1" fill="#cdcdcd"/>
<polygon points="445.1,746.6 468.1,749.3 458.4,753.3 435.4,750.7" fill="#cdcdcd"/>
<polygon points="575.8,612.4 598.8,616.6 589.1,619.7 566.1,615.5" fill="#cdcdcd"/>
<polygon points="487.5,605.8 510.5,610.1 500.8,613.1 477.8,608.9" fill="#cdcdcd"/>
<polygon points="631.5,617.8 654.4,622 644.8,625.1 621.8,620.8" fill="#cdcdcd"/>
<polygon points="543.1,611.2 566.1,615.5 556.4,618.5 533.5,614.3" fill="#cdcdcd"/>
<polygon points="598.8,616.6 621.8,620.8 612.1,623.9 589.1,619.7" fill="#cdcdcd"/>
<polygon points="477.8,608.9 500.8,613.1 491.1,616.2 468.1,749.3" fill="#cdcdcd"/>
<polygon points="510.5,610.1 533.5,614.3 523.8,617.4 500.8,613.1" fill="#cdcdcd"/>
<polygon points="468.1,749.3 491.1,616.2 481.4,756 458.4,753.3" fill="#cdcdcd"/>
<polygon points="566.1,615.5 589.1,619.7 579.4,622.8 556.4,618.5" fill="#cdcdcd"/>
<polygon points="621.8,620.8 644.8,625.1 635.1,628.1 612.1,623.9" fill="#cdcdcd"/>
<polygon points="533.5,614.3 556.4,618.5 546.8,621.6 523.8,617.4" fill="#cdcdcd"/>
<polygon points="589.1,619.7 612.1,623.9 602.4,627 579.4,622.8" fill="#cdcdcd"/>
<polygon points="500.8,613.1 523.8,617.4 514.1,620.4 491.1,616.2" fill="#cdcdcd"/>
<polygon points="556.4,618.5 579.4,622.8 569.7,625.8 546.8,621.6" fill="#cdcdcd"/>
<polygon points="612.1,623.9 635.1,628.1 625.4,631.2 602.4,627" fill="#cdcdcd"/>
<polygon points="491.1,616.2 514.1,620.4 504.4,623.5 481.4,756" fill="#cdcdcd"/>
<polygon points="523.8,617.4 546.8,621.6 537.1,624.7 514.1,620.4" fill="#cdcdcd"/>
<polygon points="579.4,622.8 602.4,627 592.7,630.1 569.7,625.8" fill="#cdcdcd"/>
<polygon points="546.8,621.6 569.7,625.8 560.1,628.9 537.1,624.7" fill="#cdcdcd"/>
<polygon points="602.4,627 625.4,631.2 615.7,634.3 592.7,630.1" fill="#cdcdcd"/>
<polygon points="514.1,620.4 537.1,624.7 527.4,627.8 504.4,623.5" fill="#cdcdcd"/>
<polygon points="569.7,625.8 592.7,630.1 583.1,633.1 560.1,628.9" fill="#cdcdcd"/>
<polygon points="537.1,624.7 560.1,628.9 550.4,632 527.4,627.8" fill="#cdcdcd"/>
<polygon points="592.7,630.1 615.7,634.3 606,637.4 583.1,633.1" fill="#cdcdcd"/>
<polygon points="560.1,628.9 583.1,633.1 573.4,636.2 550.4,632" fill="#cdcdcd"/>
<polygon points="583.1,633.1 606,637.4 596.4,640.4 573.4,636.2" fill="#cdcdcd"/>
</g>
<g stroke="#111" stroke-width="0.55" stroke-linejoin="round">
<polygon points="128.5,695.3 105.1,697.6 96.5,697.6 119.9,695.3" fill="#4d4d4d"/>
<polygon points="128.5,677 105.1,684.8 96.5,680.3 119.9,672.6" fill="#c5c5c5"/>
<polygon points="128.5,659.7 105.1,692 96.5,688.3 119.9,656" fill="#ebebeb"/>
<polygon points="151.9,695 128.5,695.3 119.9,695.3 143.4,694.9" fill="#4d4d4d"/>
<polygon points="128.5,654.2 105.1,663.6 96.5,660.5 119.9,651.1" fill="#c9c9c9"/>
<polygon points="151.9,673.4 128.5,677 119.9,672.6 143.4,669" fill="#c5c5c5"/>
<polygon points="175.4,696.7 151.9,695 143.4,694.9 166.8,696.6" fill="#4d4d4d"/>
<polygon points="128.5,624.2 105.1,641 96.5,641.6 119.9,624.9" fill="#cdcdcd"/>
<polygon points="151.9,649.6 128.5,654.2 119.9,651.1 143.4,646.5" fill="#c9c9c9"/>
<polygon points="119.9,695.3 96.5,697.6 87.9,700.4 111.4,698.1" fill="#4d4d4d"/>
<polygon points="198.8,704.1 175.4,696.7 166.8,696.6 190.2,701.7" fill="#4d4d4d"/>
<polygon points="175.4,674 151.9,673.4 143.4,669 166.8,669.6" fill="#c5c5c5"/>
<polygon points="151.9,616.6 128.5,659.7 119.9,656 143.4,612.9" fill="#ebebeb"/>
<polygon points="119.9,672.6 96.5,680.3 87.9,680.6 111.4,672.8" fill="#c5c5c5"/>
<polygon points="198.8,694.9 175.4,674 166.8,669.6 190.2,685.4" fill="#c5c5c5"/>
<polygon points="119.9,656 96.5,688.3 87.9,687.8 111.4,655.6" fill="#ebebeb"/>
<polygon points="222.2,712.5 198.8,704.1 190.2,701.7 213.6,707.6" fill="#4d4d4d"/>
<polygon points="143.4,694.9 119.9,695.3 111.4,698.1 134.8,697.8" fill="#4d4d4d"/>
<polygon points="175.4,649.8 151.9,649.6 143.4,646.5 166.8,646.7" fill="#c9c9c9"/>
<polygon points="151.9,615.3 128.5,624.2 119.9,624.9 143.4,615.9" fill="#cdcdcd"/>
<polygon points="222.2,711.5 198.8,694.9 190.2,685.4 213.6,701.1" fill="#c5c5c5"/>
<polygon points="119.9,651.1 96.5,660.5 87.9,661.6 111.4,652.1" fill="#c9c9c9"/>
<polygon points="198.8,673.9 175.4,649.8 166.8,646.7 190.2,665" fill="#c9c9c9"/>
<polygon points="245.6,721.9 222.2,712.5 213.6,707.6 237,714.5" fill="#4d4d4d"/>
<polygon points="245.6,723.7 222.2,711.5 213.6,701.1 237,716.7" fill="#c5c5c5"/>
<polygon points="222.2,695.8 198.8,673.9 190.2,665 213.6,685.5" fill="#c9c9c9"/>
<polygon points="143.4,669 119.9,672.6 111.4,672.8 134.8,669.2" fill="#c5c5c5"/>
<polygon points="166.8,696.6 143.4,694.9 134.8,697.8 158.2,699.4" fill="#4d4d4d"/>
<polygon points="245.6,715.4 222.2,695.8 213.6,685.5 237,708.2" fill="#c9c9c9"/>
<polygon points="119.9,624.9 96.5,641.6 87.9,644.9 111.4,628.2" fill="#cdcdcd"/>
<polygon points="175.4,614 151.9,615.3 143.4,615.9 166.8,614.7" fill="#cdcdcd"/>
<polygon points="175.4,610.6 151.9,616.6 143.4,612.9 166.8,606.9" fill="#ebebeb"/>
<polygon points="111.4,698.1 87.9,700.4 79.4,706.2 102.8,703.8" fill="#4d4d4d"/>
<polygon points="245.6,710.6 222.2,675.8 213.6,666.9 237,704.1" fill="#cdcdcd"/>
<polygon points="143.4,646.5 119.9,651.1 111.4,652.1 134.8,647.5" fill="#c9c9c9"/>
<polygon points="222.2,675.8 198.8,643.6 190.2,637.1 213.6,666.9" fill="#cdcdcd"/>
<polygon points="198.8,643.6 175.4,614 166.8,614.7 190.2,637.1" fill="#cdcdcd"/>
<polygon points="190.2,701.7 166.8,696.6 158.2,699.4 181.6,703" fill="#4d4d4d"/>
<polygon points="245.6,701.4 222.2,657.3 213.6,653.6 237,697.7" fill="#ebebeb"/>
<polygon points="166.8,669.6 143.4,669 134.8,669.2 158.2,669.8" fill="#c5c5c5"/>
<polygon points="198.8,624.1 175.4,610.6 166.8,606.9 190.2,620.4" fill="#ebebeb"/>
<polygon points="143.4,612.9 119.9,656 111.4,655.6 134.8,612.5" fill="#ebebeb"/>
<polygon points="111.4,672.8 87.9,680.6 79.4,685.4 102.8,677.7" fill="#c5c5c5"/>
<polygon points="222.2,657.3 198.8,624.1 190.2,620.4 213.6,653.6" fill="#ebebeb"/>
<polygon points="111.4,655.6 87.9,687.8 79.4,690.7 102.8,658.5" fill="#ebebeb"/>
<polygon points="134.8,697.8 111.4,698.1 102.8,703.8 126.2,703.5" fill="#4d4d4d"/>
<polygon points="143.4,615.9 119.9,624.9 111.4,628.2 134.8,619.2" fill="#cdcdcd"/>
<polygon points="213.6,707.6 190.2,701.7 181.6,703 205,707.6" fill="#4d4d4d"/>
<polygon points="190.2,685.4 166.8,669.6 158.2,669.8 181.6,682.6" fill="#c5c5c5"/>
<polygon points="166.8,646.7 143.4,646.5 134.8,647.5 158.2,647.7" fill="#c9c9c9"/>
<polygon points="111.4,652.1 87.9,661.6 79.4,666.7 102.8,657.2" fill="#c9c9c9"/>
<polygon points="213.6,701.1 190.2,685.4 181.6,682.6 205,697.8" fill="#c5c5c5"/>
<polygon points="190.2,665 166.8,646.7 158.2,647.7 181.6,662.5" fill="#c9c9c9"/>
<polygon points="237,714.5 213.6,707.6 205,707.6 228.4,713" fill="#4d4d4d"/>
<polygon points="158.2,699.4 134.8,697.8 126.2,703.5 149.6,705.2" fill="#4d4d4d"/>
<polygon points="134.8,669.2 111.4,672.8 102.8,677.7 126.2,674.1" fill="#c5c5c5"/>
<polygon points="237,716.7 213.6,701.1 205,697.8 228.4,715.3" fill="#c5c5c5"/>
<polygon points="111.4,628.2 87.9,644.9 79.4,650.8 102.8,634.1" fill="#cdcdcd"/>
<polygon points="213.6,685.5 190.2,665 181.6,662.5 205,682.2" fill="#c9c9c9"/>
<polygon points="166.8,614.7 143.4,615.9 134.8,619.2 158.2,618" fill="#cdcdcd"/>
<polygon points="102.8,703.8 79.4,706.2 70.8,715.8 94.2,713.5" fill="#4d4d4d"/>
<polygon points="237,708.2 213.6,685.5 205,682.2 228.4,706.8" fill="#c9c9c9"/>
<polygon points="166.8,606.9 143.4,612.9 134.8,612.5 158.2,606.4" fill="#ebebeb"/>
<polygon points="134.8,647.5 111.4,652.1 102.8,657.2 126.2,652.6" fill="#c9c9c9"/>
<polygon points="237,704.1 213.6,666.9 205,664.5 228.4,703" fill="#cdcdcd"/>
<polygon points="181.6,703 158.2,699.4 149.6,705.2 173,708.3" fill="#4d4d4d"/>
<polygon points="190.2,637.1 166.8,614.7 158.2,618 181.6,636.1" fill="#cdcdcd"/>
<polygon points="158.2,669.8 134.8,669.2 126.2,674.1 149.6,674.7" fill="#c5c5c5"/>
<polygon points="213.6,666.9 190.2,637.1 181.6,636.1 205,664.5" fill="#cdcdcd"/>
<polygon points="237,697.7 213.6,653.6 205,653.2 228.4,697.2" fill="#ebebeb"/>
<polygon points="102.8,677.7 79.4,685.4 70.8,696.5 94.2,688.8" fill="#c5c5c5"/>
<polygon points="134.8,612.5 111.4,655.6 102.8,658.5 126.2,615.3" fill="#ebebeb"/>
<polygon points="190.2,620.4 166.8,606.9 158.2,606.4 181.6,620" fill="#ebebeb"/>
<polygon points="126.2,703.5 102.8,703.8 94.2,713.5 117.6,713.1" fill="#4d4d4d"/>
<polygon points="102.8,658.5 79.4,690.7 70.8,699.4 94.2,667.2" fill="#ebebeb"/>
<polygon points="213.6,653.6 190.2,620.4 181.6,620 205,653.2" fill="#ebebeb"/>
<polygon points="134.8,619.2 111.4,628.2 102.8,634.1 126.2,625.1" fill="#cdcdcd"/>
<polygon points="205,707.6 181.6,703 173,708.3 196.4,712.3" fill="#4d4d4d"/>
<polygon points="181.6,682.6 158.2,669.8 149.6,674.7 173,686.5" fill="#c5c5c5"/>
<polygon points="158.2,647.7 134.8,647.5 126.2,652.6 149.6,652.9" fill="#c9c9c9"/>
<polygon points="102.8,657.2 79.4,666.7 70.8,678 94.2,668.6" fill="#c9c9c9"/>
<polygon points="205,697.8 181.6,682.6 173,686.5 196.4,701.5" fill="#c5c5c5"/>
<polygon points="126.2,674.1 102.8,677.7 94.2,688.8 117.6,685.2" fill="#c5c5c5"/>
<polygon points="149.6,705.2 126.2,703.5 117.6,713.1 141,714.8" fill="#4d4d4d"/>
<polygon points="181.6,662.5 158.2,647.7 149.6,652.9 173,666.5" fill="#c9c9c9"/>
<polygon points="228.4,713 205,707.6 196.4,712.3 219.9,717.3" fill="#4d4d4d"/>
<polygon points="102.8,634.1 79.4,650.8 70.8,662.3 94.2,645.6" fill="#cdcdcd"/>
<polygon points="94.2,713.5 70.8,715.8 62.2,730.2 85.6,727.9" fill="#4d4d4d"/>
<polygon points="228.4,715.3 205,697.8 196.4,701.5 219.9,719.7" fill="#c5c5c5"/>
<polygon points="158.2,618 134.8,619.2 126.2,625.1 149.6,623.9" fill="#cdcdcd"/>
<polygon points="205,682.2 181.6,662.5 173,666.5 196.4,685.9" fill="#c9c9c9"/>
<polygon points="126.2,652.6 102.8,657.2 94.2,668.6 117.6,663.9" fill="#c9c9c9"/>
<polygon points="228.4,706.8 205,682.2 196.4,685.9 219.9,711.1" fill="#c9c9c9"/>
<polygon points="158.2,606.4 134.8,612.5 126.2,615.3 149.6,609.3" fill="#ebebeb"/>
<polygon points="173,708.3 149.6,705.2 141,714.8 164.4,717.9" fill="#4d4d4d"/>
<polygon points="94.2,688.8 70.8,696.5 62.2,715.4 85.6,707.6" fill="#c5c5c5"/>
<polygon points="149.6,674.7 126.2,674.1 117.6,685.2 141,685.7" fill="#c5c5c5"/>
<polygon points="228.4,703 205,664.5 196.4,668.5 219.9,707.5" fill="#cdcdcd"/>
<polygon points="181.6,636.1 158.2,618 149.6,623.9 173,640.6" fill="#cdcdcd"/>
<polygon points="117.6,713.1 94.2,713.5 85.6,727.9 109,727.6" fill="#4d4d4d"/>
<polygon points="205,664.5 181.6,636.1 173,640.6 196.4,668.5" fill="#cdcdcd"/>
<polygon points="94.2,667.2 70.8,699.4 62.2,711.6 85.6,679.4" fill="#ebebeb"/>
<polygon points="126.2,615.3 102.8,658.5 94.2,667.2 117.6,624.1" fill="#ebebeb"/>
<polygon points="228.4,697.2 205,653.2 196.4,656 219.9,700.1" fill="#ebebeb"/>
<polygon points="126.2,625.1 102.8,634.1 94.2,645.6 117.6,636.7" fill="#cdcdcd"/>
<polygon points="94.2,668.6 70.8,678 62.2,697.6 85.6,688.1" fill="#c9c9c9"/>
<polygon points="181.6,620 158.2,606.4 149.6,609.3 173,622.8" fill="#ebebeb"/>
<polygon points="196.4,712.3 173,708.3 164.4,717.9 187.9,722" fill="#4d4d4d"/>
<polygon points="149.6,652.9 126.2,652.6 117.6,663.9 141,664.2" fill="#c9c9c9"/>
<polygon points="173,686.5 149.6,674.7 141,685.7 164.4,696.7" fill="#c5c5c5"/>
<polygon points="205,653.2 181.6,620 173,622.8 196.4,656" fill="#ebebeb"/>
<polygon points="117.6,685.2 94.2,688.8 85.6,707.6 109,704" fill="#c5c5c5"/>
<polygon points="141,714.8 117.6,713.1 109,727.6 132.5,729.3" fill="#4d4d4d"/>
<polygon points="94.2,645.6 70.8,662.3 62.2,682.6 85.6,665.9" fill="#cdcdcd"/>
<polygon points="85.6,727.9 62.2,730.2 53.6,749.6 77,747.2" fill="#4d4d4d"/>
<polygon points="196.4,701.5 173,686.5 164.4,696.7 187.9,710.9" fill="#c5c5c5"/>
<polygon points="173,666.5 149.6,652.9 141,664.2 164.4,676.9" fill="#c9c9c9"/>
<polygon points="219.9,717.3 196.4,712.3 187.9,722 211.3,726.9" fill="#4d4d4d"/>
<polygon points="219.9,719.7 196.4,701.5 187.9,710.9 211.3,728.2" fill="#c5c5c5"/>
<polygon points="149.6,623.9 126.2,625.1 117.6,636.7 141,635.4" fill="#cdcdcd"/>
<polygon points="85.6,707.6 62.2,715.4 53.6,741.9 77,734.2" fill="#c5c5c5"/>
<polygon points="117.6,663.9 94.2,668.6 85.6,688.1 109,683.5" fill="#c9c9c9"/>
<polygon points="196.4,685.9 173,666.5 164.4,676.9 187.9,695.4" fill="#c9c9c9"/>
<polygon points="164.4,717.9 141,714.8 132.5,729.3 155.9,732.4" fill="#4d4d4d"/>
<polygon points="219.9,711.1 196.4,685.9 187.9,695.4 211.3,719.7" fill="#c9c9c9"/>
<polygon points="141,685.7 117.6,685.2 109,704 132.5,704.6" fill="#c5c5c5"/>
<polygon points="149.6,609.3 126.2,615.3 117.6,624.1 141,618" fill="#ebebeb"/>
<polygon points="109,727.6 85.6,727.9 77,747.2 100.5,746.9" fill="#4d4d4d"/>
<polygon points="85.6,688.1 62.2,697.6 53.6,725.4 77,715.9" fill="#c9c9c9"/>
<polygon points="173,640.6 149.6,623.9 141,635.4 164.4,651.2" fill="#cdcdcd"/>
<polygon points="219.9,707.5 196.4,668.5 187.9,678.1 211.3,716.2" fill="#cdcdcd"/>
<polygon points="85.6,679.4 62.2,711.6 53.6,726.5 77,694.2" fill="#ebebeb"/>
<polygon points="117.6,624.1 94.2,667.2 85.6,679.4 109,636.3" fill="#ebebeb"/>
<polygon points="196.4,668.5 173,640.6 164.4,651.2 187.9,678.1" fill="#cdcdcd"/>
<polygon points="117.6,636.7 94.2,645.6 85.6,665.9 109,656.9" fill="#cdcdcd"/>
<polygon points="219.9,700.1 196.4,656 187.9,664.7 211.3,708.8" fill="#ebebeb"/>
<polygon points="141,664.2 117.6,663.9 109,683.5 132.5,683.7" fill="#c9c9c9"/>
<polygon points="164.4,696.7 141,685.7 132.5,704.6 155.9,713" fill="#c5c5c5"/>
<polygon points="187.9,722 164.4,717.9 155.9,732.4 179.3,736.4" fill="#4d4d4d"/>
<polygon points="109,704 85.6,707.6 77,734.2 100.5,730.6" fill="#c5c5c5"/>
<polygon points="85.6,665.9 62.2,682.6 53.6,711.6 77,694.9" fill="#cdcdcd"/>
<polygon points="173,622.8 149.6,609.3 141,618 164.4,631.5" fill="#ebebeb"/>
<polygon points="196.4,656 173,622.8 164.4,631.5 187.9,664.7" fill="#ebebeb"/>
<polygon points="132.5,729.3 109,727.6 100.5,746.9 123.9,748.6" fill="#4d4d4d"/>
<polygon points="187.9,710.9 164.4,696.7 155.9,713 179.3,724.7" fill="#c5c5c5"/>
<polygon points="109,683.5 85.6,688.1 77,715.9 100.5,711.3" fill="#c9c9c9"/>
<polygon points="164.4,676.9 141,664.2 132.5,683.7 155.9,693.8" fill="#c9c9c9"/>
<polygon points="211.3,726.9 187.9,722 179.3,736.4 202.7,741.4" fill="#4d4d4d"/>
<polygon points="141,635.4 117.6,636.7 109,656.9 132.5,655.7" fill="#cdcdcd"/>
<polygon points="211.3,728.2 187.9,710.9 179.3,724.7 202.7,739.5" fill="#c5c5c5"/>
<polygon points="132.5,704.6 109,704 100.5,730.6 123.9,731.1" fill="#c5c5c5"/>
<polygon points="187.9,695.4 164.4,676.9 155.9,693.8 179.3,709.6" fill="#c9c9c9"/>
<polygon points="155.9,732.4 132.5,729.3 123.9,748.6 147.3,751.7" fill="#4d4d4d"/>
<polygon points="211.3,719.7 187.9,695.4 179.3,709.6 202.7,731.2" fill="#c9c9c9"/>
<polygon points="109,656.9 85.6,665.9 77,694.9 100.5,685.9" fill="#cdcdcd"/>
<polygon points="141,618 117.6,624.1 109,636.3 132.5,630.2" fill="#ebebeb"/>
<polygon points="164.4,651.2 141,635.4 132.5,655.7 155.9,668.7" fill="#cdcdcd"/>
<polygon points="132.5,683.7 109,683.5 100.5,711.3 123.9,711.5" fill="#c9c9c9"/>
<polygon points="211.3,716.2 187.9,678.1 179.3,692.8 202.7,728" fill="#cdcdcd"/>
<polygon points="109,636.3 85.6,679.4 77,694.2 100.5,651.1" fill="#ebebeb"/>
<polygon points="155.9,713 132.5,704.6 123.9,731.1 147.3,735.4" fill="#c5c5c5"/>
<polygon points="187.9,678.1 164.4,651.2 155.9,668.7 179.3,692.8" fill="#cdcdcd"/>
<polygon points="179.3,736.4 155.9,732.4 147.3,751.7 170.7,755.7" fill="#4d4d4d"/>
<polygon points="211.3,708.8 187.9,664.7 179.3,676.9 202.7,721" fill="#ebebeb"/>
<polygon points="164.4,631.5 141,618 132.5,630.2 155.9,643.8" fill="#ebebeb"/>
<polygon points="187.9,664.7 164.4,631.5 155.9,643.8 179.3,676.9" fill="#ebebeb"/>
<polygon points="155.9,693.8 132.5,683.7 123.9,711.5 147.3,717.1" fill="#c9c9c9"/>
<polygon points="179.3,724.7 155.9,713 147.3,735.4 170.7,742.8" fill="#c5c5c5"/>
<polygon points="132.5,655.7 109,656.9 100.5,685.9 123.9,684.7" fill="#cdcdcd"/>
<polygon points="202.7,741.4 179.3,736.4 170.7,755.7 194.1,760.7" fill="#4d4d4d"/>
<polygon points="202.7,739.5 179.3,724.7 170.7,742.8 194.1,753.5" fill="#c5c5c5"/>
<polygon points="179.3,709.6 155.9,693.8 147.3,717.1 170.7,728.5" fill="#c9c9c9"/>
<polygon points="155.9,668.7 132.5,655.7 123.9,684.7 147.3,692.9" fill="#cdcdcd"/>
<polygon points="202.7,731.2 179.3,709.6 170.7,728.5 194.1,745.7" fill="#c9c9c9"/>
<polygon points="132.5,630.2 109,636.3 100.5,651.1 123.9,645" fill="#ebebeb"/>
<polygon points="179.3,692.8 155.9,668.7 147.3,692.9 170.7,712.3" fill="#cdcdcd"/>
<polygon points="202.7,728 179.3,692.8 170.7,712.3 194.1,742.8" fill="#cdcdcd"/>
<polygon points="202.7,721 179.3,676.9 170.7,691.8 194.1,735.8" fill="#ebebeb"/>
<polygon points="155.9,643.8 132.5,630.2 123.9,645 147.3,658.6" fill="#ebebeb"/>
<polygon points="179.3,676.9 155.9,643.8 147.3,658.6 170.7,691.8" fill="#ebebeb"/>
</g>
<g stroke="#111" stroke-width="0.55" stroke-linejoin="round">
<polygon points="185.6,176.2 197.1,180.7 209.3,179 197.8,174.8" fill="#4d4d4d"/>
<polygon points="197.1,180.7 208.5,181.7 220.7,179.7 209.3,179" fill="#4d4d4d"/>
<polygon points="173.4,174.6 184.8,179.7 197.1,180.7 185.6,176.2" fill="#4d4d4d"/>
<polygon points="208.5,181.7 220,179.7 232.2,177.4 220.7,179.7" fill="#4d4d4d"/>
<polygon points="184.8,179.7 196.3,181.5 208.5,181.7 197.1,180.7" fill="#4d4d4d"/>
<polygon points="196.3,181.5 207.8,181.4 220,179.7 208.5,181.7" fill="#4d4d4d"/>
<polygon points="161.2,133.7 172.6,142.2 184.8,179.7 173.4,174.6" fill="#4d4d4d"/>
<polygon points="172.6,142.2 184.1,149.9 196.3,181.5 184.8,179.7" fill="#4d4d4d"/>
<polygon points="184.1,149.9 195.6,156.9 207.8,181.4 196.3,181.5" fill="#4d4d4d"/>
<polygon points="105.4,113.4 116.8,112.2 129.1,116.4 117.6,113" fill="#4d4d4d"/>
<polygon points="105.4,97 116.8,100.4 129.1,102.1 117.6,96.7" fill="#c5c5c5"/>
<polygon points="105.4,90.5 116.8,93.9 129.1,95.5 117.6,90.1" fill="#c9c9c9"/>
<polygon points="105.4,83.9 116.8,87.4 129.1,89 117.6,83.6" fill="#cdcdcd"/>
<polygon points="105.4,76.1 116.8,78.2 129.1,79.2 117.6,74.4" fill="#ebebeb"/>
<polygon points="116.8,112.2 128.3,111.1 140.5,120.5 129.1,116.4" fill="#4d4d4d"/>
<polygon points="116.8,100.4 128.3,104.5 140.5,107.4 129.1,102.1" fill="#c5c5c5"/>
<polygon points="116.8,93.9 128.3,98 140.5,100.9 129.1,95.5" fill="#c9c9c9"/>
<polygon points="116.8,87.4 128.3,91.5 140.5,94.4 129.1,89" fill="#cdcdcd"/>
<polygon points="128.3,111.1 139.8,124.3 152,133.8 140.5,120.5" fill="#4d4d4d"/>
<polygon points="93.2,113.7 104.6,102.8 116.8,112.2 105.4,113.4" fill="#4d4d4d"/>
<polygon points="116.8,78.2 128.3,80.3 140.5,84.6 129.1,79.2" fill="#ebebeb"/>
<polygon points="128.3,104.5 139.8,115.2 152,119.4 140.5,107.4" fill="#c5c5c5"/>
<polygon points="93.2,97.4 104.6,97.5 116.8,100.4 105.4,97" fill="#c5c5c5"/>
<polygon points="128.3,98 139.8,109.9 152,114.1 140.5,100.9" fill="#c9c9c9"/>
<polygon points="93.2,90.8 104.6,91 116.8,93.9 105.4,90.5" fill="#c9c9c9"/>
<polygon points="128.3,91.5 139.8,104.7 152,109.6 140.5,94.4" fill="#cdcdcd"/>
<polygon points="139.8,124.3 151.2,138.2 163.4,147.7 152,133.8" fill="#4d4d4d"/>
<polygon points="93.2,84.3 104.6,84.5 116.8,87.4 105.4,83.9" fill="#cdcdcd"/>
<polygon points="128.3,80.3 139.8,93.6 152,99.8 140.5,84.6" fill="#ebebeb"/>
<polygon points="93.2,77.1 104.6,75.3 116.8,78.2 105.4,76.1" fill="#ebebeb"/>
<polygon points="139.8,115.2 151.2,125.1 163.4,131.3 152,119.4" fill="#c5c5c5"/>
<polygon points="139.8,109.9 151.2,121.9 163.4,128 152,114.1" fill="#c9c9c9"/>
<polygon points="104.6,102.8 116.1,91.8 128.3,111.1 116.8,112.2" fill="#4d4d4d"/>
<polygon points="139.8,104.7 151.2,118.6 163.4,124.8 152,109.6" fill="#cdcdcd"/>
<polygon points="151.2,138.2 162.7,155 174.9,159.2 163.4,147.7" fill="#4d4d4d"/>
<polygon points="104.6,97.5 116.1,98.3 128.3,104.5 116.8,100.4" fill="#c5c5c5"/>
<polygon points="104.6,91 116.1,91.8 128.3,98 116.8,93.9" fill="#c9c9c9"/>
<polygon points="139.8,93.6 151.2,105.5 163.4,118.2 152,99.8" fill="#ebebeb"/>
<polygon points="151.2,125.1 162.7,147.1 174.9,150.8 163.4,131.3" fill="#c5c5c5"/>
<polygon points="104.6,84.5 116.1,85.3 128.3,91.5 116.8,87.4" fill="#cdcdcd"/>
<polygon points="151.2,121.9 162.7,144.1 174.9,148.5 163.4,128" fill="#c9c9c9"/>
<polygon points="151.2,118.6 162.7,139.4 174.9,144.5 163.4,124.8" fill="#cdcdcd"/>
<polygon points="81,114.1 92.4,96.6 104.6,102.8 93.2,113.7" fill="#4d4d4d"/>
<polygon points="104.6,75.3 116.1,75.5 128.3,80.3 116.8,78.2" fill="#ebebeb"/>
<polygon points="162.7,155 174.1,168.6 186.4,168.2 174.9,159.2" fill="#4d4d4d"/>
<polygon points="151.2,105.5 162.7,125 174.9,135.3 163.4,118.2" fill="#ebebeb"/>
<polygon points="116.1,91.8 127.5,107 139.8,124.3 128.3,111.1" fill="#4d4d4d"/>
<polygon points="81,99 92.4,94.6 104.6,97.5 93.2,97.4" fill="#c5c5c5"/>
<polygon points="162.7,147.1 174.1,165.3 186.4,166.3 174.9,150.8" fill="#c5c5c5"/>
<polygon points="116.1,98.3 127.5,107 139.8,115.2 128.3,104.5" fill="#c5c5c5"/>
<polygon points="162.7,144.1 174.1,163.4 186.4,165 174.9,148.5" fill="#c9c9c9"/>
<polygon points="81,92.5 92.4,88.1 104.6,91 93.2,90.8" fill="#c9c9c9"/>
<polygon points="162.7,139.4 174.1,158.8 186.4,161.7 174.9,144.5" fill="#cdcdcd"/>
<polygon points="116.1,91.8 127.5,102.4 139.8,109.9 128.3,98" fill="#c9c9c9"/>
<polygon points="81,86 92.4,80.2 104.6,84.5 93.2,84.3" fill="#cdcdcd"/>
<polygon points="116.1,85.3 127.5,97.2 139.8,104.7 128.3,91.5" fill="#cdcdcd"/>
<polygon points="162.7,125 174.1,143.7 186.4,148.6 174.9,135.3" fill="#ebebeb"/>
<polygon points="81,78.1 92.4,70.4 104.6,75.3 93.2,77.1" fill="#ebebeb"/>
<polygon points="127.5,107 139,125.5 151.2,138.2 139.8,124.3" fill="#4d4d4d"/>
<polygon points="116.1,75.5 127.5,87.4 139.8,93.6 128.3,80.3" fill="#ebebeb"/>
<polygon points="174.1,168.6 185.6,176.2 197.8,174.8 186.4,168.2" fill="#4d4d4d"/>
<polygon points="174.1,165.3 185.6,169.2 197.8,170.7 186.4,166.3" fill="#c5c5c5"/>
<polygon points="174.1,163.4 185.6,169.9 197.8,170.8 186.4,165" fill="#c9c9c9"/>
<polygon points="127.5,107 139,115.7 151.2,125.1 139.8,115.2" fill="#c5c5c5"/>
<polygon points="174.1,158.8 185.6,170.1 197.8,171.3 186.4,161.7" fill="#cdcdcd"/>
<polygon points="127.5,102.4 139,112.4 151.2,121.9 139.8,109.9" fill="#c9c9c9"/>
<polygon points="127.5,97.2 139,109.1 151.2,118.6 139.8,104.7" fill="#cdcdcd"/>
<polygon points="92.4,94.6 103.9,88.9 116.1,98.3 104.6,97.5" fill="#c5c5c5"/>
<polygon points="139,125.5 150.5,147.9 162.7,155 151.2,138.2" fill="#4d4d4d"/>
<polygon points="174.1,143.7 185.6,153.4 197.8,155.6 186.4,148.6" fill="#ebebeb"/>
<polygon points="92.4,96.6 103.9,66 116.1,91.8 104.6,102.8" fill="#4d4d4d"/>
<polygon points="92.4,88.1 103.9,83.7 116.1,91.8 104.6,91" fill="#c9c9c9"/>
<polygon points="127.5,87.4 139,99.3 151.2,105.5 139.8,93.6" fill="#ebebeb"/>
<polygon points="68.7,121 80.2,116.6 92.4,96.6 81,114.1" fill="#4d4d4d"/>
<polygon points="139,115.7 150.5,143.1 162.7,147.1 151.2,125.1" fill="#c5c5c5"/>
<polygon points="92.4,80.2 103.9,75.8 116.1,85.3 104.6,84.5" fill="#cdcdcd"/>
<polygon points="139,112.4 150.5,138.4 162.7,144.1 151.2,121.9" fill="#c9c9c9"/>
<polygon points="139,109.1 150.5,134.2 162.7,139.4 151.2,118.6" fill="#cdcdcd"/>
<polygon points="185.6,170.1 197.1,179.4 209.3,179 197.8,171.3" fill="#cdcdcd"/>
<polygon points="185.6,169.9 197.1,175.5 209.3,175.8 197.8,170.8" fill="#c9c9c9"/>
<polygon points="92.4,70.4 103.9,69.3 116.1,75.5 104.6,75.3" fill="#ebebeb"/>
<polygon points="185.6,169.2 197.1,172.8 209.3,174.4 197.8,170.7" fill="#c5c5c5"/>
<polygon points="68.7,104.6 80.2,100.2 92.4,94.6 81,99" fill="#c5c5c5"/>
<polygon points="150.5,147.9 161.9,165.7 174.1,168.6 162.7,155" fill="#4d4d4d"/>
<polygon points="150.5,143.1 161.9,165.7 174.1,165.3 162.7,147.1" fill="#c5c5c5"/>
<polygon points="68.7,98.1 80.2,93.7 92.4,88.1 81,92.5" fill="#c9c9c9"/>
<polygon points="150.5,138.4 161.9,162.4 174.1,163.4 162.7,144.1" fill="#c9c9c9"/>
<polygon points="139,99.3 150.5,122.6 162.7,125 151.2,105.5" fill="#ebebeb"/>
<polygon points="150.5,134.2 161.9,159.1 174.1,158.8 162.7,139.4" fill="#cdcdcd"/>
<polygon points="185.6,153.4 197.1,163 209.3,162.7 197.8,155.6" fill="#ebebeb"/>
<polygon points="103.9,88.9 115.3,96.2 127.5,107 116.1,98.3" fill="#c5c5c5"/>
<polygon points="68.7,91.6 80.2,83.9 92.4,80.2 81,86" fill="#cdcdcd"/>
<polygon points="103.9,83.7 115.3,93.6 127.5,102.4 116.1,91.8" fill="#c9c9c9"/>
<polygon points="68.7,81.7 80.2,74.1 92.4,70.4 81,78.1" fill="#ebebeb"/>
<polygon points="103.9,75.8 115.3,89.1 127.5,97.2 116.1,85.3" fill="#cdcdcd"/>
<polygon points="103.9,66 115.3,77.9 127.5,107 116.1,91.8" fill="#4d4d4d"/>
<polygon points="150.5,122.6 161.9,146.1 174.1,143.7 162.7,125" fill="#ebebeb"/>
<polygon points="197.1,179.4 208.5,188.2 220.7,186.4 209.3,179" fill="#cdcdcd"/>
<polygon points="161.9,165.7 173.4,174.6 185.6,176.2 174.1,168.6" fill="#4d4d4d"/>
<polygon points="197.1,175.5 208.5,182.9 220.7,181.9 209.3,175.8" fill="#c9c9c9"/>
<polygon points="103.9,69.3 115.3,85.8 127.5,87.4 116.1,75.5" fill="#ebebeb"/>
<polygon points="161.9,165.7 173.4,167.8 185.6,169.2 174.1,165.3" fill="#c5c5c5"/>
<polygon points="161.9,162.4 173.4,169.2 185.6,169.9 174.1,163.4" fill="#c9c9c9"/>
<polygon points="197.1,172.8 208.5,178.8 220.7,179 209.3,174.4" fill="#c5c5c5"/>
<polygon points="161.9,159.1 173.4,171.4 185.6,170.1 174.1,158.8" fill="#cdcdcd"/>
<polygon points="115.3,96.2 126.8,119.3 139,115.7 127.5,107" fill="#c5c5c5"/>
<polygon points="197.1,163 208.5,178.9 220.7,176.7 209.3,162.7" fill="#ebebeb"/>
<polygon points="80.2,116.6 91.7,105.6 103.9,66 92.4,96.6" fill="#4d4d4d"/>
<polygon points="56.5,125.9 68,128 80.2,116.6 68.7,121" fill="#4d4d4d"/>
<polygon points="115.3,93.6 126.8,116 139,112.4 127.5,102.4" fill="#c9c9c9"/>
<polygon points="80.2,100.2 91.7,95.8 103.9,88.9 92.4,94.6" fill="#c5c5c5"/>
<polygon points="115.3,77.9 126.8,101 139,125.5 127.5,107" fill="#4d4d4d"/>
<polygon points="115.3,89.1 126.8,112.8 139,109.1 127.5,97.2" fill="#cdcdcd"/>
<polygon points="161.9,146.1 173.4,158.4 185.6,153.4 174.1,143.7" fill="#ebebeb"/>
<polygon points="80.2,93.7 91.7,89.3 103.9,83.7 92.4,88.1" fill="#c9c9c9"/>
<polygon points="115.3,85.8 126.8,102.9 139,99.3 127.5,87.4" fill="#ebebeb"/>
<polygon points="208.5,188.2 220,196 232.2,193.1 220.7,186.4" fill="#cdcdcd"/>
<polygon points="80.2,83.9 91.7,79.4 103.9,75.8 92.4,80.2" fill="#cdcdcd"/>
<polygon points="56.5,111.5 68,110.4 80.2,100.2 68.7,104.6" fill="#c5c5c5"/>
<polygon points="126.8,119.3 138.3,134.3 150.5,143.1 139,115.7" fill="#c5c5c5"/>
<polygon points="208.5,178.9 220,200 232.2,197 220.7,176.7" fill="#ebebeb"/>
<polygon points="126.8,116 138.3,136.3 150.5,138.4 139,112.4" fill="#c9c9c9"/>
<polygon points="173.4,171.4 184.8,181 197.1,179.4 185.6,170.1" fill="#cdcdcd"/>
<polygon points="208.5,182.9 220,191.5 232.2,188.5 220.7,181.9" fill="#c9c9c9"/>
<polygon points="56.5,108.3 68,105.1 80.2,93.7 68.7,98.1" fill="#c9c9c9"/>
<polygon points="126.8,112.8 138.3,136.2 150.5,134.2 139,109.1" fill="#cdcdcd"/>
<polygon points="173.4,169.2 184.8,175.2 197.1,175.5 185.6,169.9" fill="#c9c9c9"/>
<polygon points="126.8,101 138.3,114 150.5,147.9 139,125.5" fill="#4d4d4d"/>
<polygon points="208.5,178.8 220,186.9 232.2,183.9 220.7,179" fill="#c5c5c5"/>
<polygon points="173.4,167.8 184.8,169.9 197.1,172.8 185.6,169.2" fill="#c5c5c5"/>
<polygon points="80.2,74.1 91.7,61.3 103.9,69.3 92.4,70.4" fill="#ebebeb"/>
<polygon points="56.5,105 68,100.6 80.2,83.9 68.7,91.6" fill="#cdcdcd"/>
<polygon points="56.5,101.7 68,115 80.2,74.1 68.7,81.7" fill="#ebebeb"/>
<polygon points="126.8,102.9 138.3,130.2 150.5,122.6 139,99.3" fill="#ebebeb"/>
<polygon points="173.4,158.4 184.8,169.9 197.1,163 185.6,153.4" fill="#ebebeb"/>
<polygon points="138.3,136.3 149.7,153 161.9,162.4 150.5,138.4" fill="#c9c9c9"/>
<polygon points="138.3,134.3 149.7,146.4 161.9,165.7 150.5,143.1" fill="#c5c5c5"/>
<polygon points="138.3,136.2 149.7,156.2 161.9,159.1 150.5,134.2" fill="#cdcdcd"/>
<polygon points="91.7,95.8 103.1,102.5 115.3,96.2 103.9,88.9" fill="#c5c5c5"/>
<polygon points="68,128 79.4,130.2 91.7,105.6 80.2,116.6" fill="#4d4d4d"/>
<polygon points="91.7,89.3 103.1,99.9 115.3,93.6 103.9,83.7" fill="#c9c9c9"/>
<polygon points="138.3,130.2 149.7,156.2 161.9,146.1 150.5,122.6" fill="#ebebeb"/>
<polygon points="138.3,114 149.7,124.2 161.9,165.7 150.5,147.9" fill="#4d4d4d"/>
<polygon points="91.7,105.6 103.1,101.2 115.3,77.9 103.9,66" fill="#4d4d4d"/>
<polygon points="184.8,181 196.3,190.5 208.5,188.2 197.1,179.4" fill="#cdcdcd"/>
<polygon points="91.7,79.4 103.1,94.6 115.3,89.1 103.9,75.8" fill="#cdcdcd"/>
<polygon points="184.8,175.2 196.3,183.9 208.5,182.9 197.1,175.5" fill="#c9c9c9"/>
<polygon points="91.7,61.3 103.1,94.6 115.3,85.8 103.9,69.3" fill="#ebebeb"/>
<polygon points="68,110.4 79.4,112.5 91.7,95.8 80.2,100.2" fill="#c5c5c5"/>
<polygon points="149.7,156.2 161.2,169.9 173.4,171.4 161.9,159.1" fill="#cdcdcd"/>
<polygon points="184.8,169.9 196.3,177 208.5,178.8 197.1,172.8" fill="#c5c5c5"/>
<polygon points="44.3,132.2 55.8,133.6 68,128 56.5,125.9" fill="#4d4d4d"/>
<polygon points="184.8,169.9 196.3,185.2 208.5,178.9 197.1,163" fill="#ebebeb"/>
<polygon points="149.7,153 161.2,163.8 173.4,169.2 161.9,162.4" fill="#c9c9c9"/>
<polygon points="103.1,102.5 114.6,126.2 126.8,119.3 115.3,96.2" fill="#c5c5c5"/>
<polygon points="68,105.1 79.4,106 91.7,89.3 80.2,93.7" fill="#c9c9c9"/>
<polygon points="149.7,146.4 161.2,156.8 173.4,167.8 161.9,165.7" fill="#c5c5c5"/>
<polygon points="149.7,156.2 161.2,171.2 173.4,158.4 161.9,146.1" fill="#ebebeb"/>
<polygon points="103.1,99.9 114.6,122.9 126.8,116 115.3,93.6" fill="#c9c9c9"/>
<polygon points="103.1,94.6 114.6,119.7 126.8,112.8 115.3,89.1" fill="#cdcdcd"/>
<polygon points="44.3,125.6 55.8,133 68,115 56.5,101.7" fill="#ebebeb"/>
<polygon points="44.3,126.9 55.8,125.1 68,110.4 56.5,111.5" fill="#c5c5c5"/>
<polygon points="68,100.6 79.4,99.4 91.7,79.4 80.2,83.9" fill="#cdcdcd"/>
<polygon points="149.7,124.2 161.2,133.7 173.4,174.6 161.9,165.7" fill="#4d4d4d"/>
<polygon points="44.3,126.3 55.8,123.8 68,105.1 56.5,108.3" fill="#c9c9c9"/>
<polygon points="103.1,94.6 114.6,113.1 126.8,102.9 115.3,85.8" fill="#ebebeb"/>
<polygon points="103.1,101.2 114.6,109.8 126.8,101 115.3,77.9" fill="#4d4d4d"/>
<polygon points="44.3,125.6 55.8,122.5 68,100.6 56.5,105" fill="#cdcdcd"/>
<polygon points="68,115 79.4,92.9 91.7,61.3 80.2,74.1" fill="#ebebeb"/>
<polygon points="196.3,190.5 207.8,199 220,196 208.5,188.2" fill="#cdcdcd"/>
<polygon points="196.3,185.2 207.8,202.9 220,200 208.5,178.9" fill="#ebebeb"/>
<polygon points="114.6,126.2 126,137.4 138.3,134.3 126.8,119.3" fill="#c5c5c5"/>
<polygon points="114.6,122.9 126,139.6 138.3,136.3 126.8,116" fill="#c9c9c9"/>
<polygon points="79.4,130.2 90.9,131.6 103.1,101.2 91.7,105.6" fill="#4d4d4d"/>
<polygon points="196.3,183.9 207.8,194.4 220,191.5 208.5,182.9" fill="#c9c9c9"/>
<polygon points="114.6,119.7 126,139.6 138.3,136.2 126.8,112.8" fill="#cdcdcd"/>
<polygon points="161.2,169.9 172.6,181.4 184.8,181 173.4,171.4" fill="#cdcdcd"/>
<polygon points="196.3,177 207.8,189.9 220,186.9 208.5,178.8" fill="#c5c5c5"/>
<polygon points="114.6,113.1 126,140.7 138.3,130.2 126.8,102.9" fill="#ebebeb"/>
<polygon points="161.2,171.2 172.6,183.4 184.8,169.9 173.4,158.4" fill="#ebebeb"/>
<polygon points="161.2,163.8 172.6,173.6 184.8,175.2 173.4,169.2" fill="#c9c9c9"/>
<polygon points="79.4,112.5 90.9,117.9 103.1,102.5 91.7,95.8" fill="#c5c5c5"/>
<polygon points="161.2,156.8 172.6,167 184.8,169.9 173.4,167.8" fill="#c5c5c5"/>
<polygon points="55.8,133.6 67.2,135.1 79.4,130.2 68,128" fill="#4d4d4d"/>
<polygon points="79.4,106 90.9,114.6 103.1,99.9 91.7,89.3" fill="#c9c9c9"/>
<polygon points="114.6,109.8 126,118.5 138.3,114 126.8,101" fill="#4d4d4d"/>
<polygon points="126,140.7 137.5,166.4 149.7,156.2 138.3,130.2" fill="#ebebeb"/>
<polygon points="126,139.6 137.5,156.6 149.7,156.2 138.3,136.2" fill="#cdcdcd"/>
<polygon points="79.4,99.4 90.9,111.3 103.1,94.6 91.7,79.4" fill="#cdcdcd"/>
<polygon points="126,139.6 137.5,153.3 149.7,153 138.3,136.3" fill="#c9c9c9"/>
<polygon points="126,137.4 137.5,146.8 149.7,146.4 138.3,134.3" fill="#c5c5c5"/>
<polygon points="55.8,125.1 67.2,125.9 79.4,112.5 68,110.4" fill="#c5c5c5"/>
<polygon points="79.4,92.9 90.9,111.3 103.1,94.6 91.7,61.3" fill="#ebebeb"/>
<polygon points="55.8,133 67.2,125.9 79.4,92.9 68,115" fill="#ebebeb"/>
<polygon points="55.8,123.8 67.2,125.3 79.4,106 68,105.1" fill="#c9c9c9"/>
<polygon points="172.6,181.4 184.1,192.2 196.3,190.5 184.8,181" fill="#cdcdcd"/>
<polygon points="55.8,122.5 67.2,124.6 79.4,99.4 68,100.6" fill="#cdcdcd"/>
<polygon points="172.6,183.4 184.1,195.2 196.3,185.2 184.8,169.9" fill="#ebebeb"/>
<polygon points="32.1,143.6 43.6,143.1 55.8,133.6 44.3,132.2" fill="#4d4d4d"/>
<polygon points="137.5,166.4 149,181.9 161.2,171.2 149.7,156.2" fill="#ebebeb"/>
<polygon points="32.1,143.6 43.6,139.2 55.8,133 44.3,125.6" fill="#ebebeb"/>
<polygon points="90.9,131.6 102.4,133.1 114.6,109.8 103.1,101.2" fill="#4d4d4d"/>
<polygon points="90.9,117.9 102.4,129.2 114.6,126.2 103.1,102.5" fill="#c5c5c5"/>
<polygon points="172.6,173.6 184.1,185.1 196.3,183.9 184.8,175.2" fill="#c9c9c9"/>
<polygon points="32.1,143.6 43.6,139.2 55.8,125.1 44.3,126.9" fill="#c5c5c5"/>
<polygon points="32.1,143.6 43.6,139.2 55.8,123.8 44.3,126.3" fill="#c9c9c9"/>
<polygon points="32.1,143.6 43.6,139.2 55.8,122.5 44.3,125.6" fill="#cdcdcd"/>
<polygon points="90.9,114.6 102.4,127.9 114.6,122.9 103.1,99.9" fill="#c9c9c9"/>
<polygon points="137.5,156.6 149,171.1 161.2,169.9 149.7,156.2" fill="#cdcdcd"/>
<polygon points="90.9,111.3 102.4,126.5 114.6,119.7 103.1,94.6" fill="#cdcdcd"/>
<polygon points="172.6,167 184.1,179.2 196.3,177 184.8,169.9" fill="#c5c5c5"/>
<polygon points="90.9,111.3 102.4,129.8 114.6,113.1 103.1,94.6" fill="#ebebeb"/>
<polygon points="126,118.5 137.5,127.2 149.7,124.2 138.3,114" fill="#4d4d4d"/>
<polygon points="137.5,153.3 149,164.9 161.2,163.8 149.7,153" fill="#c9c9c9"/>
<polygon points="67.2,135.1 78.7,137.2 90.9,131.6 79.4,130.2" fill="#4d4d4d"/>
<polygon points="137.5,146.8 149,157.7 161.2,156.8 149.7,146.4" fill="#c5c5c5"/>
<polygon points="184.1,195.2 195.6,205.9 207.8,202.9 196.3,185.2" fill="#ebebeb"/>
<polygon points="184.1,192.2 195.6,202 207.8,199 196.3,190.5" fill="#cdcdcd"/>
<polygon points="102.4,129.8 113.8,150.7 126,140.7 114.6,113.1" fill="#ebebeb"/>
<polygon points="102.4,129.2 113.8,139.8 126,137.4 114.6,126.2" fill="#c5c5c5"/>
<polygon points="102.4,127.9 113.8,141.9 126,139.6 114.6,122.9" fill="#c9c9c9"/>
<polygon points="149,181.9 160.4,193.5 172.6,183.4 161.2,171.2" fill="#ebebeb"/>
<polygon points="102.4,126.5 113.8,143.6 126,139.6 114.6,119.7" fill="#cdcdcd"/>
<polygon points="67.2,125.9 78.7,128.1 90.9,117.9 79.4,112.5" fill="#c5c5c5"/>
<polygon points="67.2,125.3 78.7,128.1 90.9,114.6 79.4,106" fill="#c9c9c9"/>
<polygon points="184.1,185.1 195.6,197.4 207.8,194.4 196.3,183.9" fill="#c9c9c9"/>
<polygon points="67.2,124.6 78.7,128.1 90.9,111.3 79.4,99.4" fill="#cdcdcd"/>
<polygon points="149,171.1 160.4,183.7 172.6,181.4 161.2,169.9" fill="#cdcdcd"/>
<polygon points="67.2,125.9 78.7,124.1 90.9,111.3 79.4,92.9" fill="#ebebeb"/>
<polygon points="184.1,179.2 195.6,192.8 207.8,189.9 196.3,177" fill="#c5c5c5"/>
<polygon points="102.4,133.1 113.8,133.3 126,118.5 114.6,109.8" fill="#4d4d4d"/>
<polygon points="43.6,143.1 55,143.3 67.2,135.1 55.8,133.6" fill="#4d4d4d"/>
<polygon points="149,164.9 160.4,175.9 172.6,173.6 161.2,163.8" fill="#c9c9c9"/>
<polygon points="137.5,127.2 149,136.3 161.2,133.7 149.7,124.2" fill="#4d4d4d"/>
<polygon points="113.8,150.7 125.3,170 137.5,166.4 126,140.7" fill="#ebebeb"/>
<polygon points="43.6,139.2 55,137.4 67.2,125.9 55.8,133" fill="#ebebeb"/>
<polygon points="43.6,139.2 55,137.4 67.2,125.9 55.8,125.1" fill="#c5c5c5"/>
<polygon points="43.6,139.2 55,137.4 67.2,125.3 55.8,123.8" fill="#c9c9c9"/>
<polygon points="43.6,139.2 55,137.4 67.2,124.6 55.8,122.5" fill="#cdcdcd"/>
<polygon points="149,157.7 160.4,169.3 172.6,167 161.2,156.8" fill="#c5c5c5"/>
<polygon points="113.8,143.6 125.3,160.2 137.5,156.6 126,139.6" fill="#cdcdcd"/>
<polygon points="113.8,141.9 125.3,155.6 137.5,153.3 126,139.6" fill="#c9c9c9"/>
<polygon points="78.7,137.2 90.2,139.3 102.4,133.1 90.9,131.6" fill="#4d4d4d"/>
<polygon points="160.4,193.5 171.9,202.7 184.1,195.2 172.6,183.4" fill="#ebebeb"/>
<polygon points="113.8,139.8 125.3,150.4 137.5,146.8 126,137.4" fill="#c5c5c5"/>
<polygon points="160.4,183.7 171.9,195 184.1,192.2 172.6,181.4" fill="#cdcdcd"/>
<polygon points="78.7,128.1 90.2,131.5 102.4,129.2 90.9,117.9" fill="#c5c5c5"/>
<polygon points="125.3,170 136.7,185.2 149,181.9 137.5,166.4" fill="#ebebeb"/>
<polygon points="78.7,128.1 90.2,132.1 102.4,127.9 90.9,114.6" fill="#c9c9c9"/>
<polygon points="78.7,124.1 90.2,135.4 102.4,129.8 90.9,111.3" fill="#ebebeb"/>
<polygon points="78.7,128.1 90.2,132.8 102.4,126.5 90.9,111.3" fill="#cdcdcd"/>
<polygon points="160.4,175.9 171.9,187.9 184.1,185.1 172.6,173.6" fill="#c9c9c9"/>
<polygon points="113.8,133.3 125.3,134.1 137.5,127.2 126,118.5" fill="#4d4d4d"/>
<polygon points="149,136.3 160.4,145.1 172.6,142.2 161.2,133.7" fill="#4d4d4d"/>
<polygon points="125.3,160.2 136.7,174.6 149,171.1 137.5,156.6" fill="#cdcdcd"/>
<polygon points="160.4,169.3 171.9,182.1 184.1,179.2 172.6,167" fill="#c5c5c5"/>
<polygon points="55,143.3 66.5,144.8 78.7,137.2 67.2,135.1" fill="#4d4d4d"/>
<polygon points="125.3,155.6 136.7,167.8 149,164.9 137.5,153.3" fill="#c9c9c9"/>
<polygon points="55,137.4 66.5,138.9 78.7,128.1 67.2,125.9" fill="#c5c5c5"/>
<polygon points="55,137.4 66.5,138.9 78.7,128.1 67.2,125.3" fill="#c9c9c9"/>
<polygon points="55,137.4 66.5,138.9 78.7,128.1 67.2,124.6" fill="#cdcdcd"/>
<polygon points="125.3,150.4 136.7,161.4 149,157.7 137.5,146.8" fill="#c5c5c5"/>
<polygon points="55,137.4 66.5,138.9 78.7,124.1 67.2,125.9" fill="#ebebeb"/>
<polygon points="171.9,202.7 183.3,209.5 195.6,205.9 184.1,195.2" fill="#ebebeb"/>
<polygon points="90.2,135.4 101.6,150.6 113.8,150.7 102.4,129.8" fill="#ebebeb"/>
<polygon points="136.7,185.2 148.2,197.2 160.4,193.5 149,181.9" fill="#ebebeb"/>
<polygon points="171.9,195 183.3,205 195.6,202 184.1,192.2" fill="#cdcdcd"/>
<polygon points="90.2,132.8 101.6,144.8 113.8,143.6 102.4,126.5" fill="#cdcdcd"/>
<polygon points="90.2,139.3 101.6,141.6 113.8,133.3 102.4,133.1" fill="#4d4d4d"/>
<polygon points="90.2,132.1 101.6,142.6 113.8,141.9 102.4,127.9" fill="#c9c9c9"/>
<polygon points="90.2,131.5 101.6,140.4 113.8,139.8 102.4,129.2" fill="#c5c5c5"/>
<polygon points="171.9,187.9 183.3,200.4 195.6,197.4 184.1,185.1" fill="#c9c9c9"/>
<polygon points="136.7,174.6 148.2,187.3 160.4,183.7 149,171.1" fill="#cdcdcd"/>
<polygon points="171.9,182.1 183.3,195.8 195.6,192.8 184.1,179.2" fill="#c5c5c5"/>
<polygon points="160.4,145.1 171.9,152.9 184.1,149.9 172.6,142.2" fill="#4d4d4d"/>
<polygon points="125.3,134.1 136.7,141 149,136.3 137.5,127.2" fill="#4d4d4d"/>
<polygon points="136.7,167.8 148.2,179.5 160.4,175.9 149,164.9" fill="#c9c9c9"/>
<polygon points="101.6,150.6 113.1,167.1 125.3,170 113.8,150.7" fill="#ebebeb"/>
<polygon points="136.7,161.4 148.2,173 160.4,169.3 149,157.7" fill="#c5c5c5"/>
<polygon points="66.5,144.8 77.9,147.2 90.2,139.3 78.7,137.2" fill="#4d4d4d"/>
<polygon points="101.6,144.8 113.1,160.6 125.3,160.2 113.8,143.6" fill="#cdcdcd"/>
<polygon points="148.2,197.2 159.7,206.1 171.9,202.7 160.4,193.5" fill="#ebebeb"/>
<polygon points="101.6,142.6 113.1,156.6 125.3,155.6 113.8,141.9" fill="#c9c9c9"/>
<polygon points="66.5,138.9 77.9,143 90.2,132.8 78.7,128.1" fill="#cdcdcd"/>
<polygon points="66.5,138.9 77.9,143 90.2,132.1 78.7,128.1" fill="#c9c9c9"/>
<polygon points="66.5,138.9 77.9,143 90.2,131.5 78.7,128.1" fill="#c5c5c5"/>
<polygon points="66.5,138.9 77.9,143 90.2,135.4 78.7,124.1" fill="#ebebeb"/>
<polygon points="101.6,140.4 113.1,152.7 125.3,150.4 113.8,139.8" fill="#c5c5c5"/>
<polygon points="148.2,187.3 159.7,198.4 171.9,195 160.4,183.7" fill="#cdcdcd"/>
<polygon points="101.6,141.6 113.1,144.2 125.3,134.1 113.8,133.3" fill="#4d4d4d"/>
<polygon points="113.1,167.1 124.5,183.3 136.7,185.2 125.3,170" fill="#ebebeb"/>
<polygon points="148.2,179.5 159.7,191.4 171.9,187.9 160.4,175.9" fill="#c9c9c9"/>
<polygon points="171.9,152.9 183.3,159.8 195.6,156.9 184.1,149.9" fill="#4d4d4d"/>
<polygon points="136.7,141 148.2,150.7 160.4,145.1 149,136.3" fill="#4d4d4d"/>
<polygon points="113.1,160.6 124.5,174.4 136.7,174.6 125.3,160.2" fill="#cdcdcd"/>
<polygon points="148.2,173 159.7,185.4 171.9,182.1 160.4,169.3" fill="#c5c5c5"/>
<polygon points="113.1,156.6 124.5,168.8 136.7,167.8 125.3,155.6" fill="#c9c9c9"/>
<polygon points="159.7,206.1 171.1,212.5 183.3,209.5 171.9,202.7" fill="#ebebeb"/>
<polygon points="113.1,152.7 124.5,164 136.7,161.4 125.3,150.4" fill="#c5c5c5"/>
<polygon points="77.9,143 89.4,151.2 101.6,150.6 90.2,135.4" fill="#ebebeb"/>
<polygon points="77.9,147.2 89.4,151.2 101.6,141.6 90.2,139.3" fill="#4d4d4d"/>
<polygon points="77.9,143 89.4,148.6 101.6,144.8 90.2,132.8" fill="#cdcdcd"/>
<polygon points="77.9,143 89.4,149.8 101.6,142.6 90.2,132.1" fill="#c9c9c9"/>
<polygon points="77.9,143 89.4,149.4 101.6,140.4 90.2,131.5" fill="#c5c5c5"/>
<polygon points="124.5,183.3 136,197.5 148.2,197.2 136.7,185.2" fill="#ebebeb"/>
<polygon points="159.7,198.4 171.1,207.9 183.3,205 171.9,195" fill="#cdcdcd"/>
<polygon points="159.7,191.4 171.1,203.4 183.3,200.4 171.9,187.9" fill="#c9c9c9"/>
<polygon points="124.5,174.4 136,187.7 148.2,187.3 136.7,174.6" fill="#cdcdcd"/>
<polygon points="113.1,144.2 124.5,150.2 136.7,141 125.3,134.1" fill="#4d4d4d"/>
<polygon points="159.7,185.4 171.1,198.8 183.3,195.8 171.9,182.1" fill="#c5c5c5"/>
<polygon points="148.2,150.7 159.7,158.3 171.9,152.9 160.4,145.1" fill="#4d4d4d"/>
<polygon points="124.5,168.8 136,181.2 148.2,179.5 136.7,167.8" fill="#c9c9c9"/>
<polygon points="89.4,151.2 100.9,162.9 113.1,167.1 101.6,150.6" fill="#ebebeb"/>
<polygon points="124.5,164 136,175.9 148.2,173 136.7,161.4" fill="#c5c5c5"/>
<polygon points="89.4,148.6 100.9,156.4 113.1,160.6 101.6,144.8" fill="#cdcdcd"/>
<polygon points="136,197.5 147.5,208.1 159.7,206.1 148.2,197.2" fill="#ebebeb"/>
<polygon points="89.4,149.8 100.9,159 113.1,156.6 101.6,142.6" fill="#c9c9c9"/>
<polygon points="89.4,149.4 100.9,157.7 113.1,152.7 101.6,140.4" fill="#c5c5c5"/>
<polygon points="89.4,151.2 100.9,156.4 113.1,144.2 101.6,141.6" fill="#4d4d4d"/>
<polygon points="136,187.7 147.5,200 159.7,198.4 148.2,187.3" fill="#cdcdcd"/>
<polygon points="124.5,150.2 136,158.3 148.2,150.7 136.7,141" fill="#4d4d4d"/>
<polygon points="159.7,158.3 171.1,165.4 183.3,159.8 171.9,152.9" fill="#4d4d4d"/>
<polygon points="136,181.2 147.5,193.9 159.7,191.4 148.2,179.5" fill="#c9c9c9"/>
<polygon points="100.9,162.9 112.3,178.3 124.5,183.3 113.1,167.1" fill="#ebebeb"/>
<polygon points="136,175.9 147.5,188.7 159.7,185.4 148.2,173" fill="#c5c5c5"/>
<polygon points="100.9,156.4 112.3,170.9 124.5,174.4 113.1,160.6" fill="#cdcdcd"/>
<polygon points="100.9,159 112.3,170.1 124.5,168.8 113.1,156.6" fill="#c9c9c9"/>
<polygon points="147.5,208.1 158.9,216.1 171.1,212.5 159.7,206.1" fill="#ebebeb"/>
<polygon points="100.9,157.7 112.3,167.2 124.5,164 113.1,152.7" fill="#c5c5c5"/>
<polygon points="147.5,200 158.9,211.6 171.1,207.9 159.7,198.4" fill="#cdcdcd"/>
<polygon points="100.9,156.4 112.3,162.2 124.5,150.2 113.1,144.2" fill="#4d4d4d"/>
<polygon points="112.3,178.3 123.8,194.6 136,197.5 124.5,183.3" fill="#ebebeb"/>
<polygon points="147.5,193.9 158.9,207 171.1,203.4 159.7,191.4" fill="#c9c9c9"/>
<polygon points="136,158.3 147.5,165.1 159.7,158.3 148.2,150.7" fill="#4d4d4d"/>
<polygon points="147.5,188.7 158.9,202.4 171.1,198.8 159.7,185.4" fill="#c5c5c5"/>
<polygon points="112.3,170.9 123.8,188.1 136,187.7 124.5,174.4" fill="#cdcdcd"/>
<polygon points="112.3,170.1 123.8,182.8 136,181.2 124.5,168.8" fill="#c9c9c9"/>
<polygon points="112.3,167.2 123.8,178.2 136,175.9 124.5,164" fill="#c5c5c5"/>
<polygon points="123.8,194.6 135.2,207.7 147.5,208.1 136,197.5" fill="#ebebeb"/>
<polygon points="112.3,162.2 123.8,168.4 136,158.3 124.5,150.2" fill="#4d4d4d"/>
<polygon points="123.8,188.1 135.2,201.9 147.5,200 136,187.7" fill="#cdcdcd"/>
<polygon points="147.5,165.1 158.9,171.7 171.1,165.4 159.7,158.3" fill="#4d4d4d"/>
<polygon points="123.8,182.8 135.2,196 147.5,193.9 136,181.2" fill="#c9c9c9"/>
<polygon points="123.8,178.2 135.2,190.9 147.5,188.7 136,175.9" fill="#c5c5c5"/>
<polygon points="135.2,207.7 146.7,219.1 158.9,216.1 147.5,208.1" fill="#ebebeb"/>
<polygon points="135.2,201.9 146.7,214.5 158.9,211.6 147.5,200" fill="#cdcdcd"/>
<polygon points="123.8,168.4 135.2,174.2 147.5,165.1 136,158.3" fill="#4d4d4d"/>
<polygon points="135.2,196 146.7,210 158.9,207 147.5,193.9" fill="#c9c9c9"/>
<polygon points="135.2,190.9 146.7,205.4 158.9,202.4 147.5,188.7" fill="#c5c5c5"/>
<polygon points="135.2,174.2 146.7,179.9 158.9,171.7 147.5,165.1" fill="#4d4d4d"/>
</g>
<g stroke="#111" stroke-width="0.55" stroke-linejoin="round">
<polygon points="60.5,468.7 67.8,471.5 77.4,442.5 70.1,442" fill="#4d4d4d"/>
<polygon points="50.9,470 58.2,473.8 67.8,471.5 60.5,468.7" fill="#4d4d4d"/>
<polygon points="41.2,471.2 48.5,475.1 58.2,473.8 50.9,470" fill="#4d4d4d"/>
<polygon points="31.6,472.5 38.9,476.4 48.5,475.1 41.2,471.2" fill="#4d4d4d"/>
<polygon points="70.1,442 77.4,442.5 87.1,353.7 79.8,352.6" fill="#4d4d4d"/>
<polygon points="67.8,471.5 75.1,473 84.7,441.2 77.4,442.5" fill="#4d4d4d"/>
<polygon points="58.2,473.8 65.4,477.7 75.1,473 67.8,471.5" fill="#4d4d4d"/>
<polygon points="48.5,475.1 55.8,478.9 65.4,477.7 58.2,473.8" fill="#4d4d4d"/>
<polygon points="38.9,476.4 46.2,480.2 55.8,478.9 48.5,475.1" fill="#4d4d4d"/>
<polygon points="79.8,352.6 87.1,353.7 96.7,299.2 89.4,295.4" fill="#4d4d4d"/>
<polygon points="77.4,442.5 84.7,441.2 94.3,355.2 87.1,353.7" fill="#4d4d4d"/>
<polygon points="65.4,477.7 72.7,480.6 82.4,473 75.1,473" fill="#4d4d4d"/>
<polygon points="75.1,473 82.4,473 92,437.7 84.7,441.2" fill="#4d4d4d"/>
<polygon points="55.8,478.9 63.1,482.8 72.7,480.6 65.4,477.7" fill="#4d4d4d"/>
<polygon points="46.2,480.2 53.5,484.1 63.1,482.8 55.8,478.9" fill="#4d4d4d"/>
<polygon points="87.1,353.7 94.3,355.2 104,303.1 96.7,299.2" fill="#4d4d4d"/>
<polygon points="84.7,441.2 92,437.7 101.6,357.5 94.3,355.2" fill="#4d4d4d"/>
<polygon points="72.7,480.6 80,482 89.7,470.5 82.4,473" fill="#4d4d4d"/>
<polygon points="82.4,473 89.7,470.5 99.3,432 92,437.7" fill="#4d4d4d"/>
<polygon points="63.1,482.8 70.4,486.6 80,482 72.7,480.6" fill="#4d4d4d"/>
<polygon points="53.5,484.1 60.8,487.9 70.4,486.6 63.1,482.8" fill="#4d4d4d"/>
<polygon points="94.3,355.2 101.6,357.5 111.3,306.9 104,303.1" fill="#4d4d4d"/>
<polygon points="92,437.7 99.3,432 108.9,359.5 101.6,357.5" fill="#4d4d4d"/>
<polygon points="80,482 87.3,474.4 97,461.2 89.7,470.5" fill="#4d4d4d"/>
<polygon points="89.7,470.5 97,461.2 106.6,423.5 99.3,432" fill="#4d4d4d"/>
<polygon points="70.4,486.6 77.7,484.1 87.3,474.4 80,482" fill="#4d4d4d"/>
<polygon points="60.8,487.9 68.1,488.8 77.7,484.1 70.4,486.6" fill="#4d4d4d"/>
<polygon points="101.6,357.5 108.9,359.5 118.6,310.8 111.3,306.9" fill="#4d4d4d"/>
<polygon points="99.3,432 106.6,423.5 116.2,358.8 108.9,359.5" fill="#4d4d4d"/>
<polygon points="87.3,474.4 94.6,462.6 104.2,449.4 97,461.2" fill="#4d4d4d"/>
<polygon points="77.7,484.1 85,477.4 94.6,462.6 87.3,474.4" fill="#4d4d4d"/>
<polygon points="97,461.2 104.2,449.4 113.9,414.3 106.6,423.5" fill="#4d4d4d"/>
<polygon points="68.1,488.8 75.3,487.1 85,477.4 77.7,484.1" fill="#4d4d4d"/>
<polygon points="108.9,359.5 116.2,358.8 125.9,314.6 118.6,310.8" fill="#4d4d4d"/>
<polygon points="106.6,423.5 113.9,414.3 123.5,357.1 116.2,358.8" fill="#4d4d4d"/>
<polygon points="94.6,462.6 101.9,455.6 111.5,441.8 104.2,449.4" fill="#4d4d4d"/>
<polygon points="85,477.4 92.3,472.8 101.9,455.6 94.6,462.6" fill="#4d4d4d"/>
<polygon points="116.2,358.8 123.5,357.1 133.1,318.5 125.9,314.6" fill="#4d4d4d"/>
<polygon points="104.2,449.4 111.5,441.8 121.2,406.8 113.9,414.3" fill="#4d4d4d"/>
<polygon points="75.3,487.1 82.6,484.5 92.3,472.8 85,477.4" fill="#4d4d4d"/>
<polygon points="113.9,414.3 121.2,406.8 130.8,356.6 123.5,357.1" fill="#4d4d4d"/>
<polygon points="123.5,357.1 130.8,356.6 140.4,322.3 133.1,318.5" fill="#4d4d4d"/>
<polygon points="101.9,455.6 109.2,449.9 118.8,435.1 111.5,441.8" fill="#4d4d4d"/>
<polygon points="92.3,472.8 99.6,468.1 109.2,449.9 101.9,455.6" fill="#4d4d4d"/>
<polygon points="82.6,484.5 89.9,481.3 99.6,468.1 92.3,472.8" fill="#4d4d4d"/>
<polygon points="111.5,441.8 118.8,435.1 128.5,399.9 121.2,406.8" fill="#4d4d4d"/>
<polygon points="121.2,406.8 128.5,399.9 138.1,356.3 130.8,356.6" fill="#4d4d4d"/>
<polygon points="130.8,356.6 138.1,356.3 147.7,326.2 140.4,322.3" fill="#4d4d4d"/>
<polygon points="109.2,449.9 116.5,444.9 126.1,428.6 118.8,435.1" fill="#4d4d4d"/>
<polygon points="99.6,468.1 106.8,463.5 116.5,444.9 109.2,449.9" fill="#4d4d4d"/>
<polygon points="89.9,481.3 97.2,479 106.8,463.5 99.6,468.1" fill="#4d4d4d"/>
<polygon points="118.8,435.1 126.1,428.6 135.7,393.4 128.5,399.9" fill="#4d4d4d"/>
<polygon points="128.5,399.9 135.7,393.4 145.4,355.9 138.1,356.3" fill="#4d4d4d"/>
<polygon points="138.1,356.3 145.4,355.9 155,330 147.7,326.2" fill="#4d4d4d"/>
<polygon points="116.5,444.9 123.8,440.7 133.4,422.4 126.1,428.6" fill="#4d4d4d"/>
<polygon points="106.8,463.5 114.1,458.9 123.8,440.7 116.5,444.9" fill="#4d4d4d"/>
<polygon points="97.2,479 104.5,477.1 114.1,458.9 106.8,463.5" fill="#4d4d4d"/>
<polygon points="126.1,428.6 133.4,422.4 143,387.3 135.7,393.4" fill="#4d4d4d"/>
<polygon points="135.7,393.4 143,387.3 152.7,355.5 145.4,355.9" fill="#4d4d4d"/>
<polygon points="145.4,355.9 152.7,355.5 162.3,333.9 155,330" fill="#4d4d4d"/>
<polygon points="156.8,289.1 164.1,292.9 173.8,291.7 166.5,287.8" fill="#ebebeb"/>
<polygon points="156.8,288.9 164.1,292.8 173.8,291.5 166.5,287.6" fill="#cdcdcd"/>
<polygon points="156.8,288.7 164.1,292.6 173.8,291.3 166.5,287.5" fill="#c9c9c9"/>
<polygon points="156.8,288.6 164.1,292.4 173.8,291.2 166.5,287.3" fill="#c5c5c5"/>
<polygon points="156.8,286.5 164.1,290.4 173.8,289.1 166.5,285.3" fill="#4d4d4d"/>
<polygon points="147.2,290.3 154.5,294.2 164.1,292.9 156.8,289.1" fill="#ebebeb"/>
<polygon points="147.2,290.2 154.5,294 164.1,292.8 156.8,288.9" fill="#cdcdcd"/>
<polygon points="147.2,290 154.5,293.9 164.1,292.6 156.8,288.7" fill="#c9c9c9"/>
<polygon points="147.2,289.8 154.5,293.7 164.1,292.4 156.8,288.6" fill="#c5c5c5"/>
<polygon points="147.2,287.8 154.5,291.7 164.1,290.4 156.8,286.5" fill="#4d4d4d"/>
<polygon points="50.9,469.5 58.2,471.4 67.8,449.6 60.5,451.2" fill="#c5c5c5"/>
<polygon points="50.9,468.1 58.2,470.3 67.8,447.3 60.5,448.4" fill="#c9c9c9"/>
<polygon points="137.6,291.6 144.9,295.5 154.5,294.2 147.2,290.3" fill="#ebebeb"/>
<polygon points="137.6,291.4 144.9,295.3 154.5,294 147.2,290.2" fill="#cdcdcd"/>
<polygon points="137.6,291.3 144.9,295.1 154.5,293.9 147.2,290" fill="#c9c9c9"/>
<polygon points="50.9,466.7 58.2,469.1 67.8,445 60.5,445.5" fill="#cdcdcd"/>
<polygon points="137.6,291.1 144.9,295 154.5,293.7 147.2,289.8" fill="#c5c5c5"/>
<polygon points="137.6,289.1 144.9,292.9 154.5,291.7 147.2,287.8" fill="#4d4d4d"/>
<polygon points="41.2,470.7 48.5,474.5 58.2,471.4 50.9,469.5" fill="#c5c5c5"/>
<polygon points="41.2,470.9 48.5,474.6 58.2,470.3 50.9,468.1" fill="#c9c9c9"/>
<polygon points="41.2,471.1 48.5,474.7 58.2,469.1 50.9,466.7" fill="#cdcdcd"/>
<polygon points="60.5,451.2 67.8,449.6 77.4,411 70.1,416.1" fill="#c5c5c5"/>
<polygon points="60.5,448.4 67.8,447.3 77.4,408.4 70.1,412.4" fill="#c9c9c9"/>
<polygon points="60.5,445.5 67.8,445 77.4,405.8 70.1,408.8" fill="#cdcdcd"/>
<polygon points="127.9,292.9 135.2,296.7 144.9,295.5 137.6,291.6" fill="#ebebeb"/>
<polygon points="127.9,292.7 135.2,296.6 144.9,295.3 137.6,291.4" fill="#cdcdcd"/>
<polygon points="127.9,292.5 135.2,296.4 144.9,295.1 137.6,291.3" fill="#c9c9c9"/>
<polygon points="127.9,292.4 135.2,296.2 144.9,295 137.6,291.1" fill="#c5c5c5"/>
<polygon points="164.1,292.9 171.4,296.8 181,295.5 173.8,291.7" fill="#ebebeb"/>
<polygon points="164.1,292.8 171.4,296.6 181,295.3 173.8,291.5" fill="#cdcdcd"/>
<polygon points="164.1,292.6 171.4,296.4 181,295.2 173.8,291.3" fill="#c9c9c9"/>
<polygon points="164.1,292.4 171.4,296.3 181,295 173.8,291.2" fill="#c5c5c5"/>
<polygon points="127.9,290.3 135.2,294.2 144.9,292.9 137.6,289.1" fill="#4d4d4d"/>
<polygon points="31.6,472.3 38.9,476.2 48.5,474.7 41.2,471.1" fill="#cdcdcd"/>
<polygon points="31.6,472.2 38.9,476 48.5,474.6 41.2,470.9" fill="#c9c9c9"/>
<polygon points="164.1,290.4 171.4,294.2 181,293 173.8,289.1" fill="#4d4d4d"/>
<polygon points="31.6,472 38.9,475.8 48.5,474.5 41.2,470.7" fill="#c5c5c5"/>
<polygon points="31.6,472.5 38.9,476.4 48.5,467.1 41.2,459.8" fill="#ebebeb"/>
<polygon points="70.1,416.1 77.4,411 87.1,367.7 79.8,372.4" fill="#c5c5c5"/>
<polygon points="70.1,412.4 77.4,408.4 87.1,365.5 79.8,369.2" fill="#c9c9c9"/>
<polygon points="41.2,459.8 48.5,467.1 58.2,428.6 50.9,415.2" fill="#ebebeb"/>
<polygon points="118.3,294.1 125.6,298 135.2,296.7 127.9,292.9" fill="#ebebeb"/>
<polygon points="118.3,294 125.6,297.8 135.2,296.6 127.9,292.7" fill="#cdcdcd"/>
<polygon points="118.3,293.8 125.6,297.7 135.2,296.4 127.9,292.5" fill="#c9c9c9"/>
<polygon points="118.3,293.6 125.6,297.5 135.2,296.2 127.9,292.4" fill="#c5c5c5"/>
<polygon points="70.1,408.8 77.4,405.8 87.1,363.3 79.8,366.1" fill="#cdcdcd"/>
<polygon points="154.5,294.2 161.8,298 171.4,296.8 164.1,292.9" fill="#ebebeb"/>
<polygon points="154.5,294 161.8,297.9 171.4,296.6 164.1,292.8" fill="#cdcdcd"/>
<polygon points="154.5,293.9 161.8,297.7 171.4,296.4 164.1,292.6" fill="#c9c9c9"/>
<polygon points="154.5,293.7 161.8,297.5 171.4,296.3 164.1,292.4" fill="#c5c5c5"/>
<polygon points="118.3,291.6 125.6,295.5 135.2,294.2 127.9,290.3" fill="#4d4d4d"/>
<polygon points="154.5,291.7 161.8,295.5 171.4,294.2 164.1,290.4" fill="#4d4d4d"/>
<polygon points="108.7,301 116,302.8 125.6,298 118.3,294.1" fill="#ebebeb"/>
<polygon points="108.7,300.8 116,302.7 125.6,297.5 118.3,293.6" fill="#c5c5c5"/>
<polygon points="108.7,300.5 116,302.6 125.6,297.7 118.3,293.8" fill="#c9c9c9"/>
<polygon points="108.7,300.1 116,302.5 125.6,297.8 118.3,294" fill="#cdcdcd"/>
<polygon points="79.8,372.4 87.1,367.7 96.7,331.6 89.4,333.9" fill="#c5c5c5"/>
<polygon points="144.9,295.5 152.1,299.3 161.8,298 154.5,294.2" fill="#ebebeb"/>
<polygon points="144.9,295.3 152.1,299.1 161.8,297.9 154.5,294" fill="#cdcdcd"/>
<polygon points="144.9,295.1 152.1,299 161.8,297.7 154.5,293.9" fill="#c9c9c9"/>
<polygon points="144.9,295 152.1,298.8 161.8,297.5 154.5,293.7" fill="#c5c5c5"/>
<polygon points="58.2,471.4 65.4,471.8 75.1,447 67.8,449.6" fill="#c5c5c5"/>
<polygon points="79.8,369.2 87.1,365.5 96.7,330.6 89.4,332.2" fill="#c9c9c9"/>
<polygon points="108.7,292.9 116,296.7 125.6,295.5 118.3,291.6" fill="#4d4d4d"/>
<polygon points="58.2,470.3 65.4,471 75.1,445.5 67.8,447.3" fill="#c9c9c9"/>
<polygon points="144.9,292.9 152.1,296.8 161.8,295.5 154.5,291.7" fill="#4d4d4d"/>
<polygon points="79.8,366.1 87.1,363.3 96.7,329.6 89.4,330.6" fill="#cdcdcd"/>
<polygon points="58.2,469.1 65.4,470.3 75.1,444 67.8,445" fill="#cdcdcd"/>
<polygon points="50.9,415.2 58.2,428.6 67.8,382.7 60.5,375.1" fill="#ebebeb"/>
<polygon points="48.5,474.5 55.8,478.1 65.4,471.8 58.2,471.4" fill="#c5c5c5"/>
<polygon points="48.5,474.6 55.8,478.1 65.4,471 58.2,470.3" fill="#c9c9c9"/>
<polygon points="48.5,474.7 55.8,478.2 65.4,470.3 58.2,469.1" fill="#cdcdcd"/>
<polygon points="99,312.3 106.3,313.2 116,302.7 108.7,300.8" fill="#c5c5c5"/>
<polygon points="99,311.7 106.3,312.4 116,302.8 108.7,301" fill="#ebebeb"/>
<polygon points="99,311.5 106.3,312.7 116,302.6 108.7,300.5" fill="#c9c9c9"/>
<polygon points="99,310.8 106.3,312.2 116,302.5 108.7,300.1" fill="#cdcdcd"/>
<polygon points="89.4,333.9 96.7,331.6 106.3,313.2 99,312.3" fill="#c5c5c5"/>
<polygon points="89.4,332.2 96.7,330.6 106.3,312.7 99,311.5" fill="#c9c9c9"/>
<polygon points="89.4,330.6 96.7,329.6 106.3,312.2 99,310.8" fill="#cdcdcd"/>
<polygon points="89.4,328.1 96.7,327.3 106.3,312.4 99,311.7" fill="#ebebeb"/>
<polygon points="67.8,449.6 75.1,447 84.7,406.4 77.4,411" fill="#c5c5c5"/>
<polygon points="79.8,345.1 87.1,345.2 96.7,327.3 89.4,328.1" fill="#ebebeb"/>
<polygon points="67.8,447.3 75.1,445.5 84.7,404.8 77.4,408.4" fill="#c9c9c9"/>
<polygon points="70.1,356.7 77.4,361.4 87.1,345.2 79.8,345.1" fill="#ebebeb"/>
<polygon points="135.2,296.7 142.5,300.6 152.1,299.3 144.9,295.5" fill="#ebebeb"/>
<polygon points="135.2,296.6 142.5,300.4 152.1,299.1 144.9,295.3" fill="#cdcdcd"/>
<polygon points="135.2,296.4 142.5,300.2 152.1,299 144.9,295.1" fill="#c9c9c9"/>
<polygon points="135.2,296.2 142.5,300.1 152.1,298.8 144.9,295" fill="#c5c5c5"/>
<polygon points="171.4,296.8 178.7,300.6 188.3,299.4 181,295.5" fill="#ebebeb"/>
<polygon points="171.4,296.6 178.7,300.5 188.3,299.2 181,295.3" fill="#cdcdcd"/>
<polygon points="171.4,296.4 178.7,300.3 188.3,299 181,295.2" fill="#c9c9c9"/>
<polygon points="171.4,296.3 178.7,300.1 188.3,298.9 181,295" fill="#c5c5c5"/>
<polygon points="67.8,445 75.1,444 84.7,403.2 77.4,405.8" fill="#cdcdcd"/>
<polygon points="60.5,375.1 67.8,382.7 77.4,361.4 70.1,356.7" fill="#ebebeb"/>
<polygon points="99,294.1 106.3,298 116,296.7 108.7,292.9" fill="#4d4d4d"/>
<polygon points="135.2,294.2 142.5,298 152.1,296.8 144.9,292.9" fill="#4d4d4d"/>
<polygon points="38.9,476.2 46.2,480 55.8,478.2 48.5,474.7" fill="#cdcdcd"/>
<polygon points="171.4,294.2 178.7,298.1 188.3,296.8 181,293" fill="#4d4d4d"/>
<polygon points="38.9,476 46.2,479.9 55.8,478.1 48.5,474.6" fill="#c9c9c9"/>
<polygon points="38.9,475.8 46.2,479.7 55.8,478.1 48.5,474.5" fill="#c5c5c5"/>
<polygon points="38.9,476.4 46.2,480.2 55.8,473.4 48.5,467.1" fill="#ebebeb"/>
<polygon points="48.5,467.1 55.8,473.4 65.4,441.3 58.2,428.6" fill="#ebebeb"/>
<polygon points="125.6,298 132.9,301.8 142.5,300.6 135.2,296.7" fill="#ebebeb"/>
<polygon points="125.6,297.8 132.9,301.7 142.5,300.4 135.2,296.6" fill="#cdcdcd"/>
<polygon points="125.6,297.7 132.9,301.5 142.5,300.2 135.2,296.4" fill="#c9c9c9"/>
<polygon points="125.6,297.5 132.9,301.3 142.5,300.1 135.2,296.2" fill="#c5c5c5"/>
<polygon points="161.8,298 169.1,301.9 178.7,300.6 171.4,296.8" fill="#ebebeb"/>
<polygon points="161.8,297.9 169.1,301.7 178.7,300.5 171.4,296.6" fill="#cdcdcd"/>
<polygon points="161.8,297.7 169.1,301.6 178.7,300.3 171.4,296.4" fill="#c9c9c9"/>
<polygon points="161.8,297.5 169.1,301.4 178.7,300.1 171.4,296.3" fill="#c5c5c5"/>
<polygon points="89.4,295.4 96.7,299.2 106.3,298 99,294.1" fill="#4d4d4d"/>
<polygon points="125.6,295.5 132.9,299.3 142.5,298 135.2,294.2" fill="#4d4d4d"/>
<polygon points="161.8,295.5 169.1,299.4 178.7,298.1 171.4,294.2" fill="#4d4d4d"/>
<polygon points="77.4,411 84.7,406.4 94.3,363.5 87.1,367.7" fill="#c5c5c5"/>
<polygon points="77.4,408.4 84.7,404.8 94.3,362.3 87.1,365.5" fill="#c9c9c9"/>
<polygon points="77.4,405.8 84.7,403.2 94.3,361 87.1,363.3" fill="#cdcdcd"/>
<polygon points="58.2,428.6 65.4,441.3 75.1,394.6 67.8,382.7" fill="#ebebeb"/>
<polygon points="116,302.8 123.2,305.1 132.9,301.8 125.6,298" fill="#ebebeb"/>
<polygon points="116,302.5 123.2,305 132.9,301.7 125.6,297.8" fill="#cdcdcd"/>
<polygon points="116,302.6 123.2,305 132.9,301.5 125.6,297.7" fill="#c9c9c9"/>
<polygon points="116,302.7 123.2,304.9 132.9,301.3 125.6,297.5" fill="#c5c5c5"/>
<polygon points="152.1,299.3 159.4,303.2 169.1,301.9 161.8,298" fill="#ebebeb"/>
<polygon points="152.1,299.1 159.4,303 169.1,301.7 161.8,297.9" fill="#cdcdcd"/>
<polygon points="152.1,299 159.4,302.8 169.1,301.6 161.8,297.7" fill="#c9c9c9"/>
<polygon points="152.1,298.8 159.4,302.7 169.1,301.4 161.8,297.5" fill="#c5c5c5"/>
<polygon points="116,296.7 123.2,300.6 132.9,299.3 125.6,295.5" fill="#4d4d4d"/>
<polygon points="152.1,296.8 159.4,300.6 169.1,299.4 161.8,295.5" fill="#4d4d4d"/>
<polygon points="87.1,367.7 94.3,363.5 104,330 96.7,331.6" fill="#c5c5c5"/>
<polygon points="65.4,471.8 72.7,469.6 82.4,444 75.1,447" fill="#c5c5c5"/>
<polygon points="65.4,471 72.7,469.4 82.4,443.4 75.1,445.5" fill="#c9c9c9"/>
<polygon points="87.1,365.5 94.3,362.3 104,329.6 96.7,330.6" fill="#c9c9c9"/>
<polygon points="65.4,470.3 72.7,469.2 82.4,442.9 75.1,444" fill="#cdcdcd"/>
<polygon points="55.8,478.1 63.1,478.4 72.7,469.6 65.4,471.8" fill="#c5c5c5"/>
<polygon points="55.8,478.1 63.1,478.5 72.7,469.4 65.4,471" fill="#c9c9c9"/>
<polygon points="87.1,363.3 94.3,361 104,329.1 96.7,329.6" fill="#cdcdcd"/>
<polygon points="55.8,478.2 63.1,478.6 72.7,469.2 65.4,470.3" fill="#cdcdcd"/>
<polygon points="106.3,313.2 113.6,314.1 123.2,304.9 116,302.7" fill="#c5c5c5"/>
<polygon points="106.3,312.7 113.6,313.9 123.2,305 116,302.6" fill="#c9c9c9"/>
<polygon points="106.3,312.4 113.6,313.6 123.2,305.1 116,302.8" fill="#ebebeb"/>
<polygon points="106.3,312.2 113.6,313.7 123.2,305 116,302.5" fill="#cdcdcd"/>
<polygon points="96.7,331.6 104,330 113.6,314.1 106.3,313.2" fill="#c5c5c5"/>
<polygon points="67.8,382.7 75.1,394.6 84.7,369 77.4,361.4" fill="#ebebeb"/>
<polygon points="96.7,330.6 104,329.6 113.6,313.9 106.3,312.7" fill="#c9c9c9"/>
<polygon points="96.7,329.6 104,329.1 113.6,313.7 106.3,312.2" fill="#cdcdcd"/>
<polygon points="96.7,327.3 104,327.3 113.6,313.6 106.3,312.4" fill="#ebebeb"/>
<polygon points="142.5,300.6 149.8,304.4 159.4,303.2 152.1,299.3" fill="#ebebeb"/>
<polygon points="77.4,361.4 84.7,369 94.3,347.4 87.1,345.2" fill="#ebebeb"/>
<polygon points="142.5,300.4 149.8,304.3 159.4,303 152.1,299.1" fill="#cdcdcd"/>
<polygon points="142.5,300.2 149.8,304.1 159.4,302.8 152.1,299" fill="#c9c9c9"/>
<polygon points="142.5,300.1 149.8,303.9 159.4,302.7 152.1,298.8" fill="#c5c5c5"/>
<polygon points="178.7,300.6 186,304.5 195.6,303.2 188.3,299.4" fill="#ebebeb"/>
<polygon points="87.1,345.2 94.3,347.4 104,327.3 96.7,327.3" fill="#ebebeb"/>
<polygon points="178.7,300.5 186,304.3 195.6,303 188.3,299.2" fill="#cdcdcd"/>
<polygon points="178.7,300.3 186,304.1 195.6,302.9 188.3,299" fill="#c9c9c9"/>
<polygon points="178.7,300.1 186,304 195.6,302.7 188.3,298.9" fill="#c5c5c5"/>
<polygon points="106.3,298 113.6,301.8 123.2,300.6 116,296.7" fill="#4d4d4d"/>
<polygon points="142.5,298 149.8,301.9 159.4,300.6 152.1,296.8" fill="#4d4d4d"/>
<polygon points="178.7,298.1 186,301.9 195.6,300.7 188.3,296.8" fill="#4d4d4d"/>
<polygon points="55.8,473.4 63.1,476.5 72.7,455.2 65.4,441.3" fill="#ebebeb"/>
<polygon points="75.1,447 82.4,444 92,402.8 84.7,406.4" fill="#c5c5c5"/>
<polygon points="46.2,480 53.5,481.7 63.1,478.6 55.8,478.2" fill="#cdcdcd"/>
<polygon points="46.2,479.9 53.5,481.5 63.1,478.5 55.8,478.1" fill="#c9c9c9"/>
<polygon points="46.2,479.7 53.5,481.4 63.1,478.4 55.8,478.1" fill="#c5c5c5"/>
<polygon points="75.1,445.5 82.4,443.4 92,402.2 84.7,404.8" fill="#c9c9c9"/>
<polygon points="46.2,480.2 53.5,481.8 63.1,476.5 55.8,473.4" fill="#ebebeb"/>
<polygon points="75.1,444 82.4,442.9 92,401.6 84.7,403.2" fill="#cdcdcd"/>
<polygon points="132.9,301.8 140.2,305.7 149.8,304.4 142.5,300.6" fill="#ebebeb"/>
<polygon points="132.9,301.7 140.2,305.5 149.8,304.3 142.5,300.4" fill="#cdcdcd"/>
<polygon points="132.9,301.5 140.2,305.4 149.8,304.1 142.5,300.2" fill="#c9c9c9"/>
<polygon points="132.9,301.3 140.2,305.2 149.8,303.9 142.5,300.1" fill="#c5c5c5"/>
<polygon points="169.1,301.9 176.4,305.7 186,304.5 178.7,300.6" fill="#ebebeb"/>
<polygon points="169.1,301.7 176.4,305.6 186,304.3 178.7,300.5" fill="#cdcdcd"/>
<polygon points="169.1,301.6 176.4,305.4 186,304.1 178.7,300.3" fill="#c9c9c9"/>
<polygon points="169.1,301.4 176.4,305.2 186,304 178.7,300.1" fill="#c5c5c5"/>
<polygon points="96.7,299.2 104,303.1 113.6,301.8 106.3,298" fill="#4d4d4d"/>
<polygon points="132.9,299.3 140.2,303.2 149.8,301.9 142.5,298" fill="#4d4d4d"/>
<polygon points="65.4,441.3 72.7,455.2 82.4,419.5 75.1,394.6" fill="#ebebeb"/>
<polygon points="169.1,299.4 176.4,303.2 186,301.9 178.7,298.1" fill="#4d4d4d"/>
<polygon points="84.7,406.4 92,402.8 101.6,360.3 94.3,363.5" fill="#c5c5c5"/>
<polygon points="84.7,404.8 92,402.2 101.6,359.9 94.3,362.3" fill="#c9c9c9"/>
<polygon points="84.7,403.2 92,401.6 101.6,359.4 94.3,361" fill="#cdcdcd"/>
<polygon points="123.2,305.1 130.5,307.6 140.2,305.7 132.9,301.8" fill="#ebebeb"/>
<polygon points="123.2,305 130.5,307.5 140.2,305.5 132.9,301.7" fill="#cdcdcd"/>
<polygon points="123.2,305 130.5,307.4 140.2,305.4 132.9,301.5" fill="#c9c9c9"/>
<polygon points="123.2,304.9 130.5,307.2 140.2,305.2 132.9,301.3" fill="#c5c5c5"/>
<polygon points="159.4,303.2 166.7,307 176.4,305.7 169.1,301.9" fill="#ebebeb"/>
<polygon points="159.4,303 166.7,306.8 176.4,305.6 169.1,301.7" fill="#cdcdcd"/>
<polygon points="159.4,302.8 166.7,306.7 176.4,305.4 169.1,301.6" fill="#c9c9c9"/>
<polygon points="159.4,302.7 166.7,306.5 176.4,305.2 169.1,301.4" fill="#c5c5c5"/>
<polygon points="123.2,300.6 130.5,304.4 140.2,303.2 132.9,299.3" fill="#4d4d4d"/>
<polygon points="159.4,300.6 166.7,304.5 176.4,303.2 169.1,299.4" fill="#4d4d4d"/>
<polygon points="75.1,394.6 82.4,419.5 92,385.2 84.7,369" fill="#ebebeb"/>
<polygon points="113.6,313.7 120.9,315.2 130.5,307.5 123.2,305" fill="#cdcdcd"/>
<polygon points="113.6,313.9 120.9,315.2 130.5,307.4 123.2,305" fill="#c9c9c9"/>
<polygon points="113.6,313.6 120.9,315.2 130.5,307.6 123.2,305.1" fill="#ebebeb"/>
<polygon points="113.6,314.1 120.9,315.2 130.5,307.2 123.2,304.9" fill="#c5c5c5"/>
<polygon points="94.3,363.5 101.6,360.3 111.3,329.1 104,330" fill="#c5c5c5"/>
<polygon points="84.7,369 92,385.2 101.6,352.6 94.3,347.4" fill="#ebebeb"/>
<polygon points="94.3,362.3 101.6,359.9 111.3,329 104,329.6" fill="#c9c9c9"/>
<polygon points="94.3,361 101.6,359.4 111.3,329 104,329.1" fill="#cdcdcd"/>
<polygon points="72.7,469.6 80,464.2 89.7,439.3 82.4,444" fill="#c5c5c5"/>
<polygon points="72.7,469.4 80,464.5 89.7,439.7 82.4,443.4" fill="#c9c9c9"/>
<polygon points="72.7,469.2 80,464.8 89.7,440.1 82.4,442.9" fill="#cdcdcd"/>
<polygon points="63.1,478.6 70.4,475.2 80,464.8 72.7,469.2" fill="#cdcdcd"/>
<polygon points="63.1,478.5 70.4,474.9 80,464.5 72.7,469.4" fill="#c9c9c9"/>
<polygon points="63.1,478.4 70.4,474.7 80,464.2 72.7,469.6" fill="#c5c5c5"/>
<polygon points="149.8,304.4 157.1,308.3 166.7,307 159.4,303.2" fill="#ebebeb"/>
<polygon points="149.8,304.3 157.1,308.1 166.7,306.8 159.4,303" fill="#cdcdcd"/>
<polygon points="149.8,304.1 157.1,307.9 166.7,306.7 159.4,302.8" fill="#c9c9c9"/>
<polygon points="149.8,303.9 157.1,307.8 166.7,306.5 159.4,302.7" fill="#c5c5c5"/>
<polygon points="186,304.5 193.3,308.3 202.9,307.1 195.6,303.2" fill="#ebebeb"/>
<polygon points="186,304.3 193.3,308.2 202.9,306.9 195.6,303" fill="#cdcdcd"/>
<polygon points="186,304.1 193.3,308 202.9,306.7 195.6,302.9" fill="#c9c9c9"/>
<polygon points="104,330 111.3,329.1 120.9,315.2 113.6,314.1" fill="#c5c5c5"/>
<polygon points="186,304 193.3,307.8 202.9,306.6 195.6,302.7" fill="#c5c5c5"/>
<polygon points="104,329.6 111.3,329 120.9,315.2 113.6,313.9" fill="#c9c9c9"/>
<polygon points="104,329.1 111.3,329 120.9,315.2 113.6,313.7" fill="#cdcdcd"/>
<polygon points="63.1,476.5 70.4,475.4 80,465.1 72.7,455.2" fill="#ebebeb"/>
<polygon points="113.6,301.8 120.9,305.7 130.5,304.4 123.2,300.6" fill="#4d4d4d"/>
<polygon points="104,327.3 111.3,328.2 120.9,315.2 113.6,313.6" fill="#ebebeb"/>
<polygon points="149.8,301.9 157.1,305.7 166.7,304.5 159.4,300.6" fill="#4d4d4d"/>
<polygon points="94.3,347.4 101.6,352.6 111.3,328.2 104,327.3" fill="#ebebeb"/>
<polygon points="186,301.9 193.3,305.8 202.9,304.5 195.6,300.7" fill="#4d4d4d"/>
<polygon points="72.7,455.2 80,465.1 89.7,440.5 82.4,419.5" fill="#ebebeb"/>
<polygon points="53.5,481.7 60.8,480.4 70.4,475.2 63.1,478.6" fill="#cdcdcd"/>
<polygon points="53.5,481.5 60.8,480.2 70.4,474.9 63.1,478.5" fill="#c9c9c9"/>
<polygon points="53.5,481.4 60.8,480 70.4,474.7 63.1,478.4" fill="#c5c5c5"/>
<polygon points="53.5,481.8 60.8,480.6 70.4,475.4 63.1,476.5" fill="#ebebeb"/>
<polygon points="82.4,444 89.7,439.3 99.3,398.4 92,402.8" fill="#c5c5c5"/>
<polygon points="82.4,443.4 89.7,439.7 99.3,398.8 92,402.2" fill="#c9c9c9"/>
<polygon points="82.4,442.9 89.7,440.1 99.3,399.3 92,401.6" fill="#cdcdcd"/>
<polygon points="140.2,305.7 147.5,309.5 157.1,308.3 149.8,304.4" fill="#ebebeb"/>
<polygon points="140.2,305.5 147.5,309.4 157.1,308.1 149.8,304.3" fill="#cdcdcd"/>
<polygon points="140.2,305.4 147.5,309.2 157.1,307.9 149.8,304.1" fill="#c9c9c9"/>
<polygon points="140.2,305.2 147.5,309 157.1,307.8 149.8,303.9" fill="#c5c5c5"/>
<polygon points="176.4,305.7 183.7,309.6 193.3,308.3 186,304.5" fill="#ebebeb"/>
<polygon points="176.4,305.6 183.7,309.4 193.3,308.2 186,304.3" fill="#cdcdcd"/>
<polygon points="176.4,305.4 183.7,309.3 193.3,308 186,304.1" fill="#c9c9c9"/>
<polygon points="176.4,305.2 183.7,309.1 193.3,307.8 186,304" fill="#c5c5c5"/>
<polygon points="104,303.1 111.3,306.9 120.9,305.7 113.6,301.8" fill="#4d4d4d"/>
<polygon points="140.2,303.2 147.5,307 157.1,305.7 149.8,301.9" fill="#4d4d4d"/>
<polygon points="176.4,303.2 183.7,307.1 193.3,305.8 186,301.9" fill="#4d4d4d"/>
<polygon points="82.4,419.5 89.7,440.5 99.3,399.7 92,385.2" fill="#ebebeb"/>
<polygon points="130.5,307.6 137.8,310.8 147.5,309.5 140.2,305.7" fill="#ebebeb"/>
<polygon points="130.5,307.5 137.8,310.6 147.5,309.4 140.2,305.5" fill="#cdcdcd"/>
<polygon points="130.5,307.4 137.8,310.5 147.5,309.2 140.2,305.4" fill="#c9c9c9"/>
<polygon points="130.5,307.2 137.8,310.3 147.5,309 140.2,305.2" fill="#c5c5c5"/>
<polygon points="166.7,307 174,310.9 183.7,309.6 176.4,305.7" fill="#ebebeb"/>
<polygon points="166.7,306.8 174,310.7 183.7,309.4 176.4,305.6" fill="#cdcdcd"/>
<polygon points="166.7,306.7 174,310.5 183.7,309.3 176.4,305.4" fill="#c9c9c9"/>
<polygon points="166.7,306.5 174,310.4 183.7,309.1 176.4,305.2" fill="#c5c5c5"/>
<polygon points="92,402.8 99.3,398.4 108.9,356.9 101.6,360.3" fill="#c5c5c5"/>
<polygon points="92,402.2 99.3,398.8 108.9,357.3 101.6,359.9" fill="#c9c9c9"/>
<polygon points="92,401.6 99.3,399.3 108.9,357.6 101.6,359.4" fill="#cdcdcd"/>
<polygon points="130.5,304.4 137.8,308.3 147.5,307 140.2,303.2" fill="#4d4d4d"/>
<polygon points="166.7,304.5 174,308.3 183.7,307.1 176.4,303.2" fill="#4d4d4d"/>
<polygon points="92,385.2 99.3,399.7 108.9,358 101.6,352.6" fill="#ebebeb"/>
<polygon points="120.9,315.2 128.2,317 137.8,310.8 130.5,307.6" fill="#ebebeb"/>
<polygon points="120.9,315.2 128.2,316.8 137.8,310.6 130.5,307.5" fill="#cdcdcd"/>
<polygon points="120.9,315.2 128.2,316.6 137.8,310.5 130.5,307.4" fill="#c9c9c9"/>
<polygon points="120.9,315.2 128.2,316.4 137.8,310.3 130.5,307.2" fill="#c5c5c5"/>
<polygon points="157.1,308.3 164.4,312.1 174,310.9 166.7,307" fill="#ebebeb"/>
<polygon points="157.1,308.1 164.4,312 174,310.7 166.7,306.8" fill="#cdcdcd"/>
<polygon points="157.1,307.9 164.4,311.8 174,310.5 166.7,306.7" fill="#c9c9c9"/>
<polygon points="157.1,307.8 164.4,311.6 174,310.4 166.7,306.5" fill="#c5c5c5"/>
<polygon points="193.3,308.3 200.6,312.2 210.2,310.9 202.9,307.1" fill="#ebebeb"/>
<polygon points="193.3,308.2 200.6,312 210.2,310.7 202.9,306.9" fill="#cdcdcd"/>
<polygon points="193.3,308 200.6,311.8 210.2,310.6 202.9,306.7" fill="#c9c9c9"/>
<polygon points="193.3,307.8 200.6,311.7 210.2,310.4 202.9,306.6" fill="#c5c5c5"/>
<polygon points="101.6,359.4 108.9,357.6 118.6,329 111.3,329" fill="#cdcdcd"/>
<polygon points="101.6,359.9 108.9,357.3 118.6,328.7 111.3,329" fill="#c9c9c9"/>
<polygon points="101.6,360.3 108.9,356.9 118.6,328.5 111.3,329.1" fill="#c5c5c5"/>
<polygon points="120.9,305.7 128.2,309.5 137.8,308.3 130.5,304.4" fill="#4d4d4d"/>
<polygon points="157.1,305.7 164.4,309.6 174,308.3 166.7,304.5" fill="#4d4d4d"/>
<polygon points="193.3,305.8 200.6,309.6 210.2,308.4 202.9,304.5" fill="#4d4d4d"/>
<polygon points="101.6,352.6 108.9,358 118.6,329.2 111.3,328.2" fill="#ebebeb"/>
<polygon points="111.3,329 118.6,329 128.2,316.8 120.9,315.2" fill="#cdcdcd"/>
<polygon points="111.3,328.2 118.6,329.2 128.2,317 120.9,315.2" fill="#ebebeb"/>
<polygon points="111.3,329 118.6,328.7 128.2,316.6 120.9,315.2" fill="#c9c9c9"/>
<polygon points="111.3,329.1 118.6,328.5 128.2,316.4 120.9,315.2" fill="#c5c5c5"/>
<polygon points="80,465.1 87.3,455.7 97,433.5 89.7,440.5" fill="#ebebeb"/>
<polygon points="70.4,475.4 77.7,464.4 87.3,455.7 80,465.1" fill="#ebebeb"/>
<polygon points="80,464.8 87.3,452.6 97,430.1 89.7,440.1" fill="#cdcdcd"/>
<polygon points="80,464.5 87.3,451.8 97,428.9 89.7,439.7" fill="#c9c9c9"/>
<polygon points="70.4,475.2 77.7,463.7 87.3,452.6 80,464.8" fill="#cdcdcd"/>
<polygon points="80,464.2 87.3,451.1 97,427.6 89.7,439.3" fill="#c5c5c5"/>
<polygon points="70.4,474.9 77.7,463.3 87.3,451.8 80,464.5" fill="#c9c9c9"/>
<polygon points="70.4,474.7 77.7,462.9 87.3,451.1 80,464.2" fill="#c5c5c5"/>
<polygon points="147.5,309.5 154.8,313.4 164.4,312.1 157.1,308.3" fill="#ebebeb"/>
<polygon points="147.5,309.4 154.8,313.2 164.4,312 157.1,308.1" fill="#cdcdcd"/>
<polygon points="147.5,309.2 154.8,313.1 164.4,311.8 157.1,307.9" fill="#c9c9c9"/>
<polygon points="147.5,309 154.8,312.9 164.4,311.6 157.1,307.8" fill="#c5c5c5"/>
<polygon points="183.7,309.6 190.9,313.4 200.6,312.2 193.3,308.3" fill="#ebebeb"/>
<polygon points="183.7,309.4 190.9,313.3 200.6,312 193.3,308.2" fill="#cdcdcd"/>
<polygon points="183.7,309.3 190.9,313.1 200.6,311.8 193.3,308" fill="#c9c9c9"/>
<polygon points="183.7,309.1 190.9,312.9 200.6,311.7 193.3,307.8" fill="#c5c5c5"/>
<polygon points="111.3,306.9 118.6,310.8 128.2,309.5 120.9,305.7" fill="#4d4d4d"/>
<polygon points="60.8,480.6 68.1,472.1 77.7,464.4 70.4,475.4" fill="#ebebeb"/>
<polygon points="60.8,480.4 68.1,471.7 77.7,463.7 70.4,475.2" fill="#cdcdcd"/>
<polygon points="147.5,307 154.8,310.9 164.4,309.6 157.1,305.7" fill="#4d4d4d"/>
<polygon points="60.8,480.2 68.1,471.4 77.7,463.3 70.4,474.9" fill="#c9c9c9"/>
<polygon points="60.8,480 68.1,471 77.7,462.9 70.4,474.7" fill="#c5c5c5"/>
<polygon points="89.7,440.5 97,433.5 106.6,395.3 99.3,399.7" fill="#ebebeb"/>
<polygon points="183.7,307.1 190.9,310.9 200.6,309.6 193.3,305.8" fill="#4d4d4d"/>
<polygon points="89.7,440.1 97,430.1 106.6,392 99.3,399.3" fill="#cdcdcd"/>
<polygon points="89.7,439.7 97,428.9 106.6,390.6 99.3,398.8" fill="#c9c9c9"/>
<polygon points="89.7,439.3 97,427.6 106.6,389.3 99.3,398.4" fill="#c5c5c5"/>
<polygon points="137.8,310.8 145.1,314.7 154.8,313.4 147.5,309.5" fill="#ebebeb"/>
<polygon points="137.8,310.6 145.1,314.5 154.8,313.2 147.5,309.4" fill="#cdcdcd"/>
<polygon points="137.8,310.5 145.1,314.3 154.8,313.1 147.5,309.2" fill="#c9c9c9"/>
<polygon points="137.8,310.3 145.1,314.2 154.8,312.9 147.5,309" fill="#c5c5c5"/>
<polygon points="174,310.9 181.3,314.7 190.9,313.4 183.7,309.6" fill="#ebebeb"/>
<polygon points="174,310.7 181.3,314.5 190.9,313.3 183.7,309.4" fill="#cdcdcd"/>
<polygon points="174,310.5 181.3,314.4 190.9,313.1 183.7,309.3" fill="#c9c9c9"/>
<polygon points="174,310.4 181.3,314.2 190.9,312.9 183.7,309.1" fill="#c5c5c5"/>
<polygon points="137.8,308.3 145.1,312.1 154.8,310.9 147.5,307" fill="#4d4d4d"/>
<polygon points="174,308.3 181.3,312.2 190.9,310.9 183.7,307.1" fill="#4d4d4d"/>
<polygon points="99.3,399.7 106.6,395.3 116.2,356.6 108.9,358" fill="#ebebeb"/>
<polygon points="99.3,399.3 106.6,392 116.2,354.1 108.9,357.6" fill="#cdcdcd"/>
<polygon points="99.3,398.8 106.6,390.6 116.2,353.1 108.9,357.3" fill="#c9c9c9"/>
<polygon points="99.3,398.4 106.6,389.3 116.2,352.1 108.9,356.9" fill="#c5c5c5"/>
<polygon points="128.2,317 135.5,318.5 145.1,314.7 137.8,310.8" fill="#ebebeb"/>
<polygon points="128.2,316.8 135.5,318.2 145.1,314.5 137.8,310.6" fill="#cdcdcd"/>
<polygon points="128.2,316.6 135.5,318 145.1,314.3 137.8,310.5" fill="#c9c9c9"/>
<polygon points="128.2,316.4 135.5,317.7 145.1,314.2 137.8,310.3" fill="#c5c5c5"/>
<polygon points="164.4,312.1 171.7,316 181.3,314.7 174,310.9" fill="#ebebeb"/>
<polygon points="164.4,312 171.7,315.8 181.3,314.5 174,310.7" fill="#cdcdcd"/>
<polygon points="164.4,311.8 171.7,315.6 181.3,314.4 174,310.5" fill="#c9c9c9"/>
<polygon points="164.4,311.6 171.7,315.5 181.3,314.2 174,310.4" fill="#c5c5c5"/>
<polygon points="200.6,312.2 207.9,316 217.5,314.8 210.2,310.9" fill="#ebebeb"/>
<polygon points="200.6,312 207.9,315.9 217.5,314.6 210.2,310.7" fill="#cdcdcd"/>
<polygon points="200.6,311.8 207.9,315.7 217.5,314.4 210.2,310.6" fill="#c9c9c9"/>
<polygon points="200.6,311.7 207.9,315.5 217.5,314.3 210.2,310.4" fill="#c5c5c5"/>
<polygon points="128.2,309.5 135.5,313.4 145.1,312.1 137.8,308.3" fill="#4d4d4d"/>
<polygon points="164.4,309.6 171.7,313.4 181.3,312.2 174,308.3" fill="#4d4d4d"/>
<polygon points="200.6,309.6 207.9,313.5 217.5,312.2 210.2,308.4" fill="#4d4d4d"/>
<polygon points="108.9,358 116.2,356.6 125.9,329.3 118.6,329.2" fill="#ebebeb"/>
<polygon points="108.9,357.6 116.2,354.1 125.9,328.7 118.6,329" fill="#cdcdcd"/>
<polygon points="108.9,357.3 116.2,353.1 125.9,328.2 118.6,328.7" fill="#c9c9c9"/>
<polygon points="118.6,329.2 125.9,329.3 135.5,318.5 128.2,317" fill="#ebebeb"/>
<polygon points="118.6,329 125.9,328.7 135.5,318.2 128.2,316.8" fill="#cdcdcd"/>
<polygon points="108.9,356.9 116.2,352.1 125.9,327.8 118.6,328.5" fill="#c5c5c5"/>
<polygon points="118.6,328.7 125.9,328.2 135.5,318 128.2,316.6" fill="#c9c9c9"/>
<polygon points="118.6,328.5 125.9,327.8 135.5,317.7 128.2,316.4" fill="#c5c5c5"/>
<polygon points="154.8,313.4 162,317.2 171.7,316 164.4,312.1" fill="#ebebeb"/>
<polygon points="154.8,313.2 162,317.1 171.7,315.8 164.4,312" fill="#cdcdcd"/>
<polygon points="154.8,313.1 162,316.9 171.7,315.6 164.4,311.8" fill="#c9c9c9"/>
<polygon points="154.8,312.9 162,316.7 171.7,315.5 164.4,311.6" fill="#c5c5c5"/>
<polygon points="190.9,313.4 198.2,317.3 207.9,316 200.6,312.2" fill="#ebebeb"/>
<polygon points="190.9,313.3 198.2,317.1 207.9,315.9 200.6,312" fill="#cdcdcd"/>
<polygon points="190.9,313.1 198.2,317 207.9,315.7 200.6,311.8" fill="#c9c9c9"/>
<polygon points="190.9,312.9 198.2,316.8 207.9,315.5 200.6,311.7" fill="#c5c5c5"/>
<polygon points="118.6,310.8 125.9,314.6 135.5,313.4 128.2,309.5" fill="#4d4d4d"/>
<polygon points="154.8,310.9 162,314.7 171.7,313.4 164.4,309.6" fill="#4d4d4d"/>
<polygon points="190.9,310.9 198.2,314.8 207.9,313.5 200.6,309.6" fill="#4d4d4d"/>
<polygon points="87.3,455.7 94.6,440.4 104.2,420.3 97,433.5" fill="#ebebeb"/>
<polygon points="87.3,452.6 94.6,439.3 104.2,418.3 97,430.1" fill="#cdcdcd"/>
<polygon points="77.7,464.4 85,451 94.6,440.4 87.3,455.7" fill="#ebebeb"/>
<polygon points="87.3,451.8 94.6,438.2 104.2,416.3 97,428.9" fill="#c9c9c9"/>
<polygon points="77.7,463.7 85,450.4 94.6,439.3 87.3,452.6" fill="#cdcdcd"/>
<polygon points="87.3,451.1 94.6,437.1 104.2,414.3 97,427.6" fill="#c5c5c5"/>
<polygon points="77.7,463.3 85,449.8 94.6,438.2 87.3,451.8" fill="#c9c9c9"/>
<polygon points="77.7,462.9 85,449.2 94.6,437.1 87.3,451.1" fill="#c5c5c5"/>
<polygon points="97,433.5 104.2,420.3 113.9,385.2 106.6,395.3" fill="#ebebeb"/>
<polygon points="68.1,472.1 75.3,460.8 85,451 77.7,464.4" fill="#ebebeb"/>
<polygon points="145.1,314.7 152.4,318.5 162,317.2 154.8,313.4" fill="#ebebeb"/>
<polygon points="145.1,314.5 152.4,318.3 162,317.1 154.8,313.2" fill="#cdcdcd"/>
<polygon points="145.1,314.3 152.4,318.2 162,316.9 154.8,313.1" fill="#c9c9c9"/>
<polygon points="68.1,471.7 75.3,460.2 85,450.4 77.7,463.7" fill="#cdcdcd"/>
<polygon points="145.1,314.2 152.4,318 162,316.7 154.8,312.9" fill="#c5c5c5"/>
<polygon points="181.3,314.7 188.6,318.6 198.2,317.3 190.9,313.4" fill="#ebebeb"/>
<polygon points="181.3,314.5 188.6,318.4 198.2,317.1 190.9,313.3" fill="#cdcdcd"/>
<polygon points="68.1,471.4 75.3,459.5 85,449.8 77.7,463.3" fill="#c9c9c9"/>
<polygon points="181.3,314.4 188.6,318.2 198.2,317 190.9,313.1" fill="#c9c9c9"/>
<polygon points="181.3,314.2 188.6,318.1 198.2,316.8 190.9,312.9" fill="#c5c5c5"/>
<polygon points="97,430.1 104.2,418.3 113.9,383.2 106.6,392" fill="#cdcdcd"/>
<polygon points="68.1,471 75.3,458.9 85,449.2 77.7,462.9" fill="#c5c5c5"/>
<polygon points="145.1,312.1 152.4,316 162,314.7 154.8,310.9" fill="#4d4d4d"/>
<polygon points="97,428.9 104.2,416.3 113.9,381.2 106.6,390.6" fill="#c9c9c9"/>
<polygon points="181.3,312.2 188.6,316 198.2,314.8 190.9,310.9" fill="#4d4d4d"/>
<polygon points="97,427.6 104.2,414.3 113.9,379.2 106.6,389.3" fill="#c5c5c5"/>
<polygon points="135.5,318.5 142.8,320.5 152.4,318.5 145.1,314.7" fill="#ebebeb"/>
<polygon points="135.5,318.2 142.8,320.3 152.4,318.3 145.1,314.5" fill="#cdcdcd"/>
<polygon points="135.5,318 142.8,320.1 152.4,318.2 145.1,314.3" fill="#c9c9c9"/>
<polygon points="135.5,317.7 142.8,319.9 152.4,318 145.1,314.2" fill="#c5c5c5"/>
<polygon points="106.6,395.3 113.9,385.2 123.5,351.3 116.2,356.6" fill="#ebebeb"/>
<polygon points="171.7,316 179,319.8 188.6,318.6 181.3,314.7" fill="#ebebeb"/>
<polygon points="171.7,315.8 179,319.7 188.6,318.4 181.3,314.5" fill="#cdcdcd"/>
<polygon points="171.7,315.6 179,319.5 188.6,318.2 181.3,314.4" fill="#c9c9c9"/>
<polygon points="171.7,315.5 179,319.3 188.6,318.1 181.3,314.2" fill="#c5c5c5"/>
<polygon points="207.9,316 215.2,319.9 224.8,318.6 217.5,314.8" fill="#ebebeb"/>
<polygon points="207.9,315.9 215.2,319.7 224.8,318.4 217.5,314.6" fill="#cdcdcd"/>
<polygon points="207.9,315.7 215.2,319.5 224.8,318.3 217.5,314.4" fill="#c9c9c9"/>
<polygon points="207.9,315.5 215.2,319.4 224.8,318.1 217.5,314.3" fill="#c5c5c5"/>
<polygon points="106.6,392 113.9,383.2 123.5,349.9 116.2,354.1" fill="#cdcdcd"/>
<polygon points="135.5,313.4 142.8,317.2 152.4,316 145.1,312.1" fill="#4d4d4d"/>
<polygon points="171.7,313.4 179,317.3 188.6,316 181.3,312.2" fill="#4d4d4d"/>
<polygon points="106.6,390.6 113.9,381.2 123.5,348.6 116.2,353.1" fill="#c9c9c9"/>
<polygon points="207.9,313.5 215.2,317.3 224.8,316.1 217.5,312.2" fill="#4d4d4d"/>
<polygon points="106.6,389.3 113.9,379.2 123.5,347.2 116.2,352.1" fill="#c5c5c5"/>
<polygon points="125.9,329.3 133.1,329.4 142.8,320.5 135.5,318.5" fill="#ebebeb"/>
<polygon points="125.9,328.7 133.1,328.8 142.8,320.3 135.5,318.2" fill="#cdcdcd"/>
<polygon points="125.9,328.2 133.1,328.2 142.8,320.1 135.5,318" fill="#c9c9c9"/>
<polygon points="116.2,356.6 123.5,351.3 133.1,329.4 125.9,329.3" fill="#ebebeb"/>
<polygon points="125.9,327.8 133.1,327.6 142.8,319.9 135.5,317.7" fill="#c5c5c5"/>
<polygon points="116.2,354.1 123.5,349.9 133.1,328.8 125.9,328.7" fill="#cdcdcd"/>
<polygon points="116.2,353.1 123.5,348.6 133.1,328.2 125.9,328.2" fill="#c9c9c9"/>
<polygon points="116.2,352.1 123.5,347.2 133.1,327.6 125.9,327.8" fill="#c5c5c5"/>
<polygon points="162,317.2 169.3,321.1 179,319.8 171.7,316" fill="#ebebeb"/>
<polygon points="162,317.1 169.3,320.9 179,319.7 171.7,315.8" fill="#cdcdcd"/>
<polygon points="162,316.9 169.3,320.8 179,319.5 171.7,315.6" fill="#c9c9c9"/>
<polygon points="162,316.7 169.3,320.6 179,319.3 171.7,315.5" fill="#c5c5c5"/>
<polygon points="198.2,317.3 205.5,321.1 215.2,319.9 207.9,316" fill="#ebebeb"/>
<polygon points="198.2,317.1 205.5,321 215.2,319.7 207.9,315.9" fill="#cdcdcd"/>
<polygon points="198.2,317 205.5,320.8 215.2,319.5 207.9,315.7" fill="#c9c9c9"/>
<polygon points="198.2,316.8 205.5,320.6 215.2,319.4 207.9,315.5" fill="#c5c5c5"/>
<polygon points="125.9,314.6 133.1,318.5 142.8,317.2 135.5,313.4" fill="#4d4d4d"/>
<polygon points="162,314.7 169.3,318.6 179,317.3 171.7,313.4" fill="#4d4d4d"/>
<polygon points="198.2,314.8 205.5,318.6 215.2,317.3 207.9,313.5" fill="#4d4d4d"/>
<polygon points="152.4,318.5 159.7,322.4 169.3,321.1 162,317.2" fill="#ebebeb"/>
<polygon points="152.4,318.3 159.7,322.2 169.3,320.9 162,317.1" fill="#cdcdcd"/>
<polygon points="152.4,318.2 159.7,322 169.3,320.8 162,316.9" fill="#c9c9c9"/>
<polygon points="152.4,318 159.7,321.9 169.3,320.6 162,316.7" fill="#c5c5c5"/>
<polygon points="188.6,318.6 195.9,322.4 205.5,321.1 198.2,317.3" fill="#ebebeb"/>
<polygon points="188.6,318.4 195.9,322.2 205.5,321 198.2,317.1" fill="#cdcdcd"/>
<polygon points="188.6,318.2 195.9,322.1 205.5,320.8 198.2,317" fill="#c9c9c9"/>
<polygon points="188.6,318.1 195.9,321.9 205.5,320.6 198.2,316.8" fill="#c5c5c5"/>
<polygon points="94.6,440.4 101.9,434.5 111.5,414.2 104.2,420.3" fill="#ebebeb"/>
<polygon points="152.4,316 159.7,319.8 169.3,318.6 162,314.7" fill="#4d4d4d"/>
<polygon points="188.6,316 195.9,319.9 205.5,318.6 198.2,314.8" fill="#4d4d4d"/>
<polygon points="94.6,439.3 101.9,433 111.5,411.4 104.2,418.3" fill="#cdcdcd"/>
<polygon points="85,451 92.3,444.2 101.9,434.5 94.6,440.4" fill="#ebebeb"/>
<polygon points="94.6,438.2 101.9,431.4 111.5,408.6 104.2,416.3" fill="#c9c9c9"/>
<polygon points="85,450.4 92.3,443.4 101.9,433 94.6,439.3" fill="#cdcdcd"/>
<polygon points="85,449.8 92.3,442.7 101.9,431.4 94.6,438.2" fill="#c9c9c9"/>
<polygon points="94.6,437.1 101.9,429.9 111.5,405.8 104.2,414.3" fill="#c5c5c5"/>
<polygon points="85,449.2 92.3,441.9 101.9,429.9 94.6,437.1" fill="#c5c5c5"/>
<polygon points="104.2,420.3 111.5,414.2 121.2,379.4 113.9,385.2" fill="#ebebeb"/>
<polygon points="75.3,460.8 82.6,453.1 92.3,444.2 85,451" fill="#ebebeb"/>
<polygon points="104.2,418.3 111.5,411.4 121.2,376.7 113.9,383.2" fill="#cdcdcd"/>
<polygon points="75.3,460.2 82.6,452.4 92.3,443.4 85,450.4" fill="#cdcdcd"/>
<polygon points="75.3,459.5 82.6,451.6 92.3,442.7 85,449.8" fill="#c9c9c9"/>
<polygon points="75.3,458.9 82.6,450.8 92.3,441.9 85,449.2" fill="#c5c5c5"/>
<polygon points="104.2,416.3 111.5,408.6 121.2,374.1 113.9,381.2" fill="#c9c9c9"/>
<polygon points="142.8,320.5 150.1,323.8 159.7,322.4 152.4,318.5" fill="#ebebeb"/>
<polygon points="142.8,320.3 150.1,323.7 159.7,322.2 152.4,318.3" fill="#cdcdcd"/>
<polygon points="142.8,320.1 150.1,323.5 159.7,322 152.4,318.2" fill="#c9c9c9"/>
<polygon points="142.8,319.9 150.1,323.3 159.7,321.9 152.4,318" fill="#c5c5c5"/>
<polygon points="179,319.8 186.3,323.7 195.9,322.4 188.6,318.6" fill="#ebebeb"/>
<polygon points="179,319.7 186.3,323.5 195.9,322.2 188.6,318.4" fill="#cdcdcd"/>
<polygon points="179,319.5 186.3,323.3 195.9,322.1 188.6,318.2" fill="#c9c9c9"/>
<polygon points="179,319.3 186.3,323.2 195.9,321.9 188.6,318.1" fill="#c5c5c5"/>
<polygon points="215.2,319.9 222.4,323.7 232.1,322.5 224.8,318.6" fill="#ebebeb"/>
<polygon points="104.2,414.3 111.5,405.8 121.2,371.4 113.9,379.2" fill="#c5c5c5"/>
<polygon points="215.2,319.7 222.4,323.6 232.1,322.3 224.8,318.4" fill="#cdcdcd"/>
<polygon points="215.2,319.5 222.4,323.4 232.1,322.1 224.8,318.3" fill="#c9c9c9"/>
<polygon points="215.2,319.4 222.4,323.2 232.1,322 224.8,318.1" fill="#c5c5c5"/>
<polygon points="142.8,317.2 150.1,321.1 159.7,319.8 152.4,316" fill="#4d4d4d"/>
<polygon points="179,317.3 186.3,321.1 195.9,319.9 188.6,316" fill="#4d4d4d"/>
<polygon points="215.2,317.3 222.4,321.2 232.1,319.9 224.8,316.1" fill="#4d4d4d"/>
<polygon points="113.9,385.2 121.2,379.4 130.8,347.3 123.5,351.3" fill="#ebebeb"/>
<polygon points="113.9,383.2 121.2,376.7 130.8,345.8 123.5,349.9" fill="#cdcdcd"/>
<polygon points="133.1,329.4 140.4,329.9 150.1,323.8 142.8,320.5" fill="#ebebeb"/>
<polygon points="113.9,381.2 121.2,374.1 130.8,344.3 123.5,348.6" fill="#c9c9c9"/>
<polygon points="133.1,328.8 140.4,329.3 150.1,323.7 142.8,320.3" fill="#cdcdcd"/>
<polygon points="133.1,328.2 140.4,328.8 150.1,323.5 142.8,320.1" fill="#c9c9c9"/>
<polygon points="133.1,327.6 140.4,328.2 150.1,323.3 142.8,319.9" fill="#c5c5c5"/>
<polygon points="113.9,379.2 121.2,371.4 130.8,342.8 123.5,347.2" fill="#c5c5c5"/>
<polygon points="169.3,321.1 176.6,324.9 186.3,323.7 179,319.8" fill="#ebebeb"/>
<polygon points="169.3,320.9 176.6,324.8 186.3,323.5 179,319.7" fill="#cdcdcd"/>
<polygon points="169.3,320.8 176.6,324.6 186.3,323.3 179,319.5" fill="#c9c9c9"/>
<polygon points="123.5,351.3 130.8,347.3 140.4,329.9 133.1,329.4" fill="#ebebeb"/>
<polygon points="169.3,320.6 176.6,324.4 186.3,323.2 179,319.3" fill="#c5c5c5"/>
<polygon points="205.5,321.1 212.8,325 222.4,323.7 215.2,319.9" fill="#ebebeb"/>
<polygon points="205.5,321 212.8,324.8 222.4,323.6 215.2,319.7" fill="#cdcdcd"/>
<polygon points="205.5,320.8 212.8,324.7 222.4,323.4 215.2,319.5" fill="#c9c9c9"/>
<polygon points="205.5,320.6 212.8,324.5 222.4,323.2 215.2,319.4" fill="#c5c5c5"/>
<polygon points="123.5,349.9 130.8,345.8 140.4,329.3 133.1,328.8" fill="#cdcdcd"/>
<polygon points="133.1,318.5 140.4,322.3 150.1,321.1 142.8,317.2" fill="#4d4d4d"/>
<polygon points="123.5,348.6 130.8,344.3 140.4,328.8 133.1,328.2" fill="#c9c9c9"/>
<polygon points="169.3,318.6 176.6,322.4 186.3,321.1 179,317.3" fill="#4d4d4d"/>
<polygon points="205.5,318.6 212.8,322.4 222.4,321.2 215.2,317.3" fill="#4d4d4d"/>
<polygon points="123.5,347.2 130.8,342.8 140.4,328.2 133.1,327.6" fill="#c5c5c5"/>
<polygon points="159.7,322.4 167,326.2 176.6,324.9 169.3,321.1" fill="#ebebeb"/>
<polygon points="159.7,322.2 167,326 176.6,324.8 169.3,320.9" fill="#cdcdcd"/>
<polygon points="159.7,322 167,325.9 176.6,324.6 169.3,320.8" fill="#c9c9c9"/>
<polygon points="159.7,321.9 167,325.7 176.6,324.4 169.3,320.6" fill="#c5c5c5"/>
<polygon points="195.9,322.4 203.2,326.3 212.8,325 205.5,321.1" fill="#ebebeb"/>
<polygon points="195.9,322.2 203.2,326.1 212.8,324.8 205.5,321" fill="#cdcdcd"/>
<polygon points="195.9,322.1 203.2,325.9 212.8,324.7 205.5,320.8" fill="#c9c9c9"/>
<polygon points="195.9,321.9 203.2,325.8 212.8,324.5 205.5,320.6" fill="#c5c5c5"/>
<polygon points="159.7,319.8 167,323.7 176.6,322.4 169.3,318.6" fill="#4d4d4d"/>
<polygon points="195.9,319.9 203.2,323.7 212.8,322.4 205.5,318.6" fill="#4d4d4d"/>
<polygon points="101.9,434.5 109.2,431.9 118.8,409.5 111.5,414.2" fill="#ebebeb"/>
<polygon points="101.9,433 109.2,429.6 118.8,405.9 111.5,411.4" fill="#cdcdcd"/>
<polygon points="92.3,444.2 99.6,440.6 109.2,431.9 101.9,434.5" fill="#ebebeb"/>
<polygon points="92.3,443.4 99.6,439.8 109.2,429.6 101.9,433" fill="#cdcdcd"/>
<polygon points="101.9,431.4 109.2,427.4 118.8,402.3 111.5,408.6" fill="#c9c9c9"/>
<polygon points="92.3,442.7 99.6,438.9 109.2,427.4 101.9,431.4" fill="#c9c9c9"/>
<polygon points="150.1,323.8 157.4,327.5 167,326.2 159.7,322.4" fill="#ebebeb"/>
<polygon points="150.1,323.7 157.4,327.3 167,326 159.7,322.2" fill="#cdcdcd"/>
<polygon points="150.1,323.5 157.4,327.1 167,325.9 159.7,322" fill="#c9c9c9"/>
<polygon points="150.1,323.3 157.4,327 167,325.7 159.7,321.9" fill="#c5c5c5"/>
<polygon points="92.3,441.9 99.6,438.1 109.2,425.1 101.9,429.9" fill="#c5c5c5"/>
<polygon points="186.3,323.7 193.5,327.5 203.2,326.3 195.9,322.4" fill="#ebebeb"/>
<polygon points="186.3,323.5 193.5,327.4 203.2,326.1 195.9,322.2" fill="#cdcdcd"/>
<polygon points="186.3,323.3 193.5,327.2 203.2,325.9 195.9,322.1" fill="#c9c9c9"/>
<polygon points="186.3,323.2 193.5,327 203.2,325.8 195.9,321.9" fill="#c5c5c5"/>
<polygon points="101.9,429.9 109.2,425.1 118.8,398.6 111.5,405.8" fill="#c5c5c5"/>
<polygon points="222.4,323.7 229.7,327.6 239.4,326.3 232.1,322.5" fill="#ebebeb"/>
<polygon points="222.4,323.6 229.7,327.4 239.4,326.1 232.1,322.3" fill="#cdcdcd"/>
<polygon points="222.4,323.4 229.7,327.2 239.4,326 232.1,322.1" fill="#c9c9c9"/>
<polygon points="222.4,323.2 229.7,327.1 239.4,325.8 232.1,322" fill="#c5c5c5"/>
<polygon points="150.1,321.1 157.4,324.9 167,323.7 159.7,319.8" fill="#4d4d4d"/>
<polygon points="186.3,321.1 193.5,325 203.2,323.7 195.9,319.9" fill="#4d4d4d"/>
<polygon points="111.5,414.2 118.8,409.5 128.5,374.5 121.2,379.4" fill="#ebebeb"/>
<polygon points="222.4,321.2 229.7,325 239.4,323.8 232.1,319.9" fill="#4d4d4d"/>
<polygon points="82.6,453.1 89.9,448.7 99.6,440.6 92.3,444.2" fill="#ebebeb"/>
<polygon points="111.5,411.4 118.8,405.9 128.5,371.3 121.2,376.7" fill="#cdcdcd"/>
<polygon points="82.6,452.4 89.9,447.8 99.6,439.8 92.3,443.4" fill="#cdcdcd"/>
<polygon points="82.6,451.6 89.9,447 99.6,438.9 92.3,442.7" fill="#c9c9c9"/>
<polygon points="82.6,450.8 89.9,446.1 99.6,438.1 92.3,441.9" fill="#c5c5c5"/>
<polygon points="111.5,408.6 118.8,402.3 128.5,368 121.2,374.1" fill="#c9c9c9"/>
<polygon points="111.5,405.8 118.8,398.6 128.5,364.7 121.2,371.4" fill="#c5c5c5"/>
<polygon points="140.4,329.9 147.7,331.1 157.4,327.5 150.1,323.8" fill="#ebebeb"/>
<polygon points="140.4,329.3 147.7,330.7 157.4,327.3 150.1,323.7" fill="#cdcdcd"/>
<polygon points="140.4,328.8 147.7,330.3 157.4,327.1 150.1,323.5" fill="#c9c9c9"/>
<polygon points="140.4,328.2 147.7,329.9 157.4,327 150.1,323.3" fill="#c5c5c5"/>
<polygon points="176.6,324.9 183.9,328.8 193.5,327.5 186.3,323.7" fill="#ebebeb"/>
<polygon points="176.6,324.8 183.9,328.6 193.5,327.4 186.3,323.5" fill="#cdcdcd"/>
<polygon points="176.6,324.6 183.9,328.5 193.5,327.2 186.3,323.3" fill="#c9c9c9"/>
<polygon points="176.6,324.4 183.9,328.3 193.5,327 186.3,323.2" fill="#c5c5c5"/>
<polygon points="212.8,325 220.1,328.8 229.7,327.6 222.4,323.7" fill="#ebebeb"/>
<polygon points="121.2,379.4 128.5,374.5 138.1,343.8 130.8,347.3" fill="#ebebeb"/>
<polygon points="212.8,324.8 220.1,328.7 229.7,327.4 222.4,323.6" fill="#cdcdcd"/>
<polygon points="212.8,324.7 220.1,328.5 229.7,327.2 222.4,323.4" fill="#c9c9c9"/>
<polygon points="212.8,324.5 220.1,328.3 229.7,327.1 222.4,323.2" fill="#c5c5c5"/>
<polygon points="140.4,322.3 147.7,326.2 157.4,324.9 150.1,321.1" fill="#4d4d4d"/>
<polygon points="176.6,322.4 183.9,326.2 193.5,325 186.3,321.1" fill="#4d4d4d"/>
<polygon points="121.2,376.7 128.5,371.3 138.1,342.4 130.8,345.8" fill="#cdcdcd"/>
<polygon points="212.8,322.4 220.1,326.3 229.7,325 222.4,321.2" fill="#4d4d4d"/>
<polygon points="121.2,374.1 128.5,368 138.1,341 130.8,344.3" fill="#c9c9c9"/>
<polygon points="130.8,347.3 138.1,343.8 147.7,331.1 140.4,329.9" fill="#ebebeb"/>
<polygon points="130.8,345.8 138.1,342.4 147.7,330.7 140.4,329.3" fill="#cdcdcd"/>
<polygon points="121.2,371.4 128.5,364.7 138.1,339.6 130.8,342.8" fill="#c5c5c5"/>
<polygon points="130.8,344.3 138.1,341 147.7,330.3 140.4,328.8" fill="#c9c9c9"/>
<polygon points="130.8,342.8 138.1,339.6 147.7,329.9 140.4,328.2" fill="#c5c5c5"/>
<polygon points="167,326.2 174.3,330.1 183.9,328.8 176.6,324.9" fill="#ebebeb"/>
<polygon points="167,326 174.3,329.9 183.9,328.6 176.6,324.8" fill="#cdcdcd"/>
<polygon points="167,325.9 174.3,329.7 183.9,328.5 176.6,324.6" fill="#c9c9c9"/>
<polygon points="167,325.7 174.3,329.6 183.9,328.3 176.6,324.4" fill="#c5c5c5"/>
<polygon points="203.2,326.3 210.5,330.1 220.1,328.8 212.8,325" fill="#ebebeb"/>
<polygon points="203.2,326.1 210.5,329.9 220.1,328.7 212.8,324.8" fill="#cdcdcd"/>
<polygon points="203.2,325.9 210.5,329.8 220.1,328.5 212.8,324.7" fill="#c9c9c9"/>
<polygon points="203.2,325.8 210.5,329.6 220.1,328.3 212.8,324.5" fill="#c5c5c5"/>
<polygon points="167,323.7 174.3,327.5 183.9,326.2 176.6,322.4" fill="#4d4d4d"/>
<polygon points="203.2,323.7 210.5,327.6 220.1,326.3 212.8,322.4" fill="#4d4d4d"/>
<polygon points="157.4,327.5 164.6,331.3 174.3,330.1 167,326.2" fill="#ebebeb"/>
<polygon points="157.4,327.3 164.6,331.2 174.3,329.9 167,326" fill="#cdcdcd"/>
<polygon points="109.2,431.9 116.5,431.8 126.1,405.4 118.8,409.5" fill="#ebebeb"/>
<polygon points="157.4,327.1 164.6,331 174.3,329.7 167,325.9" fill="#c9c9c9"/>
<polygon points="157.4,327 164.6,330.8 174.3,329.6 167,325.7" fill="#c5c5c5"/>
<polygon points="193.5,327.5 200.8,331.4 210.5,330.1 203.2,326.3" fill="#ebebeb"/>
<polygon points="193.5,327.4 200.8,331.2 210.5,329.9 203.2,326.1" fill="#cdcdcd"/>
<polygon points="193.5,327.2 200.8,331 210.5,329.8 203.2,325.9" fill="#c9c9c9"/>
<polygon points="193.5,327 200.8,330.9 210.5,329.6 203.2,325.8" fill="#c5c5c5"/>
<polygon points="99.6,440.6 106.8,440.2 116.5,431.8 109.2,431.9" fill="#ebebeb"/>
<polygon points="157.4,324.9 164.6,328.8 174.3,327.5 167,323.7" fill="#4d4d4d"/>
<polygon points="193.5,325 200.8,328.8 210.5,327.6 203.2,323.7" fill="#4d4d4d"/>
<polygon points="109.2,429.6 116.5,428.5 126.1,401 118.8,405.9" fill="#cdcdcd"/>
<polygon points="99.6,439.8 106.8,439.2 116.5,428.5 109.2,429.6" fill="#cdcdcd"/>
<polygon points="99.6,438.9 106.8,438.1 116.5,425.2 109.2,427.4" fill="#c9c9c9"/>
<polygon points="109.2,427.4 116.5,425.2 126.1,396.5 118.8,402.3" fill="#c9c9c9"/>
<polygon points="99.6,438.1 106.8,437.1 116.5,421.9 109.2,425.1" fill="#c5c5c5"/>
<polygon points="109.2,425.1 116.5,421.9 126.1,392.1 118.8,398.6" fill="#c5c5c5"/>
<polygon points="118.8,409.5 126.1,405.4 135.7,370.4 128.5,374.5" fill="#ebebeb"/>
<polygon points="89.9,448.7 97.2,448.1 106.8,440.2 99.6,440.6" fill="#ebebeb"/>
<polygon points="89.9,447.8 97.2,447.1 106.8,439.2 99.6,439.8" fill="#cdcdcd"/>
<polygon points="89.9,447 97.2,446.1 106.8,438.1 99.6,438.9" fill="#c9c9c9"/>
<polygon points="89.9,446.1 97.2,445 106.8,437.1 99.6,438.1" fill="#c5c5c5"/>
<polygon points="118.8,405.9 126.1,401 135.7,366.7 128.5,371.3" fill="#cdcdcd"/>
<polygon points="147.7,331.1 155,333.4 164.6,331.3 157.4,327.5" fill="#ebebeb"/>
<polygon points="147.7,330.7 155,333.2 164.6,331.2 157.4,327.3" fill="#cdcdcd"/>
<polygon points="147.7,330.3 155,332.9 164.6,331 157.4,327.1" fill="#c9c9c9"/>
<polygon points="147.7,329.9 155,332.6 164.6,330.8 157.4,327" fill="#c5c5c5"/>
<polygon points="183.9,328.8 191.2,332.6 200.8,331.4 193.5,327.5" fill="#ebebeb"/>
<polygon points="183.9,328.6 191.2,332.5 200.8,331.2 193.5,327.4" fill="#cdcdcd"/>
<polygon points="183.9,328.5 191.2,332.3 200.8,331 193.5,327.2" fill="#c9c9c9"/>
<polygon points="183.9,328.3 191.2,332.1 200.8,330.9 193.5,327" fill="#c5c5c5"/>
<polygon points="118.8,402.3 126.1,396.5 135.7,363 128.5,368" fill="#c9c9c9"/>
<polygon points="147.7,326.2 155,330 164.6,328.8 157.4,324.9" fill="#4d4d4d"/>
<polygon points="183.9,326.2 191.2,330.1 200.8,328.8 193.5,325" fill="#4d4d4d"/>
<polygon points="118.8,398.6 126.1,392.1 135.7,359.3 128.5,364.7" fill="#c5c5c5"/>
<polygon points="128.5,374.5 135.7,370.4 145.4,341.6 138.1,343.8" fill="#ebebeb"/>
<polygon points="138.1,343.8 145.4,341.6 155,333.4 147.7,331.1" fill="#ebebeb"/>
<polygon points="128.5,371.3 135.7,366.7 145.4,340.5 138.1,342.4" fill="#cdcdcd"/>
<polygon points="138.1,342.4 145.4,340.5 155,333.2 147.7,330.7" fill="#cdcdcd"/>
<polygon points="138.1,341 145.4,339.5 155,332.9 147.7,330.3" fill="#c9c9c9"/>
<polygon points="138.1,339.6 145.4,338.4 155,332.6 147.7,329.9" fill="#c5c5c5"/>
<polygon points="128.5,368 135.7,363 145.4,339.5 138.1,341" fill="#c9c9c9"/>
<polygon points="128.5,364.7 135.7,359.3 145.4,338.4 138.1,339.6" fill="#c5c5c5"/>
<polygon points="174.3,330.1 181.6,333.9 191.2,332.6 183.9,328.8" fill="#ebebeb"/>
<polygon points="174.3,329.9 181.6,333.7 191.2,332.5 183.9,328.6" fill="#cdcdcd"/>
<polygon points="174.3,329.7 181.6,333.6 191.2,332.3 183.9,328.5" fill="#c9c9c9"/>
<polygon points="174.3,329.6 181.6,333.4 191.2,332.1 183.9,328.3" fill="#c5c5c5"/>
<polygon points="174.3,327.5 181.6,331.4 191.2,330.1 183.9,326.2" fill="#4d4d4d"/>
<polygon points="164.6,331.3 171.9,335.2 181.6,333.9 174.3,330.1" fill="#ebebeb"/>
<polygon points="164.6,331.2 171.9,335 181.6,333.7 174.3,329.9" fill="#cdcdcd"/>
<polygon points="164.6,331 171.9,334.8 181.6,333.6 174.3,329.7" fill="#c9c9c9"/>
<polygon points="164.6,330.8 171.9,334.7 181.6,333.4 174.3,329.6" fill="#c5c5c5"/>
<polygon points="164.6,328.8 171.9,332.6 181.6,331.4 174.3,327.5" fill="#4d4d4d"/>
<polygon points="106.8,440.2 114.1,441.9 123.8,433.9 116.5,431.8" fill="#ebebeb"/>
<polygon points="116.5,431.8 123.8,433.9 133.4,402.1 126.1,405.4" fill="#ebebeb"/>
<polygon points="106.8,439.2 114.1,440.7 123.8,429.1 116.5,428.5" fill="#cdcdcd"/>
<polygon points="116.5,428.5 123.8,429.1 133.4,396.9 126.1,401" fill="#cdcdcd"/>
<polygon points="106.8,438.1 114.1,439.6 123.8,424.4 116.5,425.2" fill="#c9c9c9"/>
<polygon points="106.8,437.1 114.1,438.4 123.8,419.6 116.5,421.9" fill="#c5c5c5"/>
<polygon points="116.5,425.2 123.8,424.4 133.4,391.6 126.1,396.5" fill="#c9c9c9"/>
<polygon points="97.2,448.1 104.5,450 114.1,441.9 106.8,440.2" fill="#ebebeb"/>
<polygon points="97.2,447.1 104.5,448.8 114.1,440.7 106.8,439.2" fill="#cdcdcd"/>
<polygon points="155,333.4 162.3,336.4 171.9,335.2 164.6,331.3" fill="#ebebeb"/>
<polygon points="155,333.2 162.3,336.3 171.9,335 164.6,331.2" fill="#cdcdcd"/>
<polygon points="155,332.9 162.3,336.1 171.9,334.8 164.6,331" fill="#c9c9c9"/>
<polygon points="155,332.6 162.3,335.9 171.9,334.7 164.6,330.8" fill="#c5c5c5"/>
<polygon points="97.2,446.1 104.5,447.6 114.1,439.6 106.8,438.1" fill="#c9c9c9"/>
<polygon points="97.2,445 104.5,446.4 114.1,438.4 106.8,437.1" fill="#c5c5c5"/>
<polygon points="116.5,421.9 123.8,419.6 133.4,386.3 126.1,392.1" fill="#c5c5c5"/>
<polygon points="126.1,405.4 133.4,402.1 143,366.9 135.7,370.4" fill="#ebebeb"/>
<polygon points="155,330 162.3,333.9 171.9,332.6 164.6,328.8" fill="#4d4d4d"/>
<polygon points="126.1,401 133.4,396.9 143,363 135.7,366.7" fill="#cdcdcd"/>
<polygon points="126.1,396.5 133.4,391.6 143,359 135.7,363" fill="#c9c9c9"/>
<polygon points="145.4,341.6 152.7,340.3 162.3,336.4 155,333.4" fill="#ebebeb"/>
<polygon points="145.4,340.5 152.7,339.7 162.3,336.3 155,333.2" fill="#cdcdcd"/>
<polygon points="145.4,339.5 152.7,339.1 162.3,336.1 155,332.9" fill="#c9c9c9"/>
<polygon points="126.1,392.1 133.4,386.3 143,355 135.7,359.3" fill="#c5c5c5"/>
<polygon points="135.7,370.4 143,366.9 152.7,340.3 145.4,341.6" fill="#ebebeb"/>
<polygon points="145.4,338.4 152.7,338.6 162.3,335.9 155,332.6" fill="#c5c5c5"/>
<polygon points="135.7,366.7 143,363 152.7,339.7 145.4,340.5" fill="#cdcdcd"/>
<polygon points="135.7,363 143,359 152.7,339.1 145.4,339.5" fill="#c9c9c9"/>
<polygon points="135.7,359.3 143,355 152.7,338.6 145.4,338.4" fill="#c5c5c5"/>
</g>
<g stroke="#111" stroke-width="0.55" stroke-linejoin="round">
<polygon points="489,69.4 466.1,59.6 459.3,190.6 482.1,190.4" fill="#4d4d4d"/>
<polygon points="466.1,59.6 443.4,55.2 436.5,83.1 459.3,190.6" fill="#4d4d4d"/>
<polygon points="511.8,82.5 489,69.4 482.1,190.4 504.9,190.2" fill="#4d4d4d"/>
<polygon points="518.6,54.5 495.8,52.1 489,69.4 511.8,82.5" fill="#4d4d4d"/>
<polygon points="534.6,98.2 511.8,82.5 504.9,190.2 527.7,187.4" fill="#4d4d4d"/>
<polygon points="541.4,57 518.6,54.5 511.8,82.5 534.6,98.2" fill="#4d4d4d"/>
<polygon points="557.4,120.7 534.6,98.2 527.7,187.4 550.5,184.5" fill="#4d4d4d"/>
<polygon points="564.2,59.4 541.4,57 534.6,98.2 557.4,120.7" fill="#4d4d4d"/>
<polygon points="495.8,72 473,68.2 466.1,108.2 489,146.5" fill="#ebebeb"/>
<polygon points="518.6,74.5 495.8,72 489,146.5 511.8,141.8" fill="#ebebeb"/>
<polygon points="489,146.5 466.1,108.2 459.3,172 482.1,162.5" fill="#ebebeb"/>
<polygon points="511.8,141.8 489,146.5 482.1,162.5 504.9,157.8" fill="#ebebeb"/>
<polygon points="541.4,76.9 518.6,74.5 511.8,141.8 534.6,138.1" fill="#ebebeb"/>
<polygon points="564.2,79.4 541.4,76.9 534.6,138.1 557.4,134" fill="#ebebeb"/>
<polygon points="534.6,138.1 511.8,141.8 504.9,157.8 527.7,154.1" fill="#ebebeb"/>
<polygon points="557.4,134 534.6,138.1 527.7,154.1 550.5,149.9" fill="#ebebeb"/>
<polygon points="477.4,60.3 454.6,37.9 447.8,49.9 470.6,81.6" fill="#cdcdcd"/>
<polygon points="477.4,57.7 454.6,35.2 447.8,47.2 470.6,79" fill="#c9c9c9"/>
<polygon points="477.4,55 454.6,32.6 447.8,44.6 470.6,76.3" fill="#c5c5c5"/>
<polygon points="500.2,46.2 477.4,60.3 470.6,81.6 493.4,67.5" fill="#cdcdcd"/>
<polygon points="500.2,43.5 477.4,57.7 470.6,79 493.4,64.8" fill="#c9c9c9"/>
<polygon points="500.2,40.8 477.4,55 470.6,76.3 493.4,62.1" fill="#c5c5c5"/>
<polygon points="477.4,23.1 454.6,39.2 447.8,53.9 470.6,32.4" fill="#ebebeb"/>
<polygon points="477.4,15.1 454.6,12.6 447.8,20.6 470.6,23.1" fill="#4d4d4d"/>
<polygon points="523,41.3 500.2,46.2 493.4,67.5 516.2,60" fill="#cdcdcd"/>
<polygon points="523,38.6 500.2,43.5 493.4,64.8 516.2,57.3" fill="#c9c9c9"/>
<polygon points="470.6,81.6 447.8,49.9 441,63.2 463.8,102.9" fill="#cdcdcd"/>
<polygon points="523,36 500.2,40.8 493.4,62.1 516.2,54.6" fill="#c5c5c5"/>
<polygon points="500.2,25.5 477.4,23.1 470.6,32.4 493.4,34.9" fill="#ebebeb"/>
<polygon points="470.6,79 447.8,47.2 441,60.6 463.8,100.3" fill="#c9c9c9"/>
<polygon points="470.6,76.3 447.8,44.6 441,57.9 463.8,97.6" fill="#c5c5c5"/>
<polygon points="493.4,67.5 470.6,81.6 463.8,102.9 486.6,88.8" fill="#cdcdcd"/>
<polygon points="500.2,17.6 477.4,15.1 470.6,23.1 493.4,25.6" fill="#4d4d4d"/>
<polygon points="493.4,64.8 470.6,79 463.8,100.3 486.6,86.1" fill="#c9c9c9"/>
<polygon points="493.4,62.1 470.6,76.3 463.8,97.6 486.6,83.5" fill="#c5c5c5"/>
<polygon points="523,28 500.2,25.5 493.4,34.9 516.2,37.3" fill="#ebebeb"/>
<polygon points="545.8,43.8 523,41.3 516.2,60 539,55.2" fill="#cdcdcd"/>
<polygon points="545.8,41.1 523,38.6 516.2,57.3 539,52.6" fill="#c9c9c9"/>
<polygon points="545.8,38.4 523,36 516.2,54.6 539,49.9" fill="#c5c5c5"/>
<polygon points="470.6,32.4 447.8,53.9 441,68.6 463.8,41.8" fill="#ebebeb"/>
<polygon points="523,20 500.2,17.6 493.4,25.6 516.2,28" fill="#4d4d4d"/>
<polygon points="545.8,30.5 523,28 516.2,37.3 539,39.8" fill="#ebebeb"/>
<polygon points="568.6,46.2 545.8,43.8 539,55.2 561.8,56.9" fill="#cdcdcd"/>
<polygon points="516.2,60 493.4,67.5 486.6,88.8 509.4,81.3" fill="#cdcdcd"/>
<polygon points="568.6,43.6 545.8,41.1 539,52.6 561.8,54.2" fill="#c9c9c9"/>
<polygon points="516.2,57.3 493.4,64.8 486.6,86.1 509.4,78.6" fill="#c9c9c9"/>
<polygon points="568.6,40.9 545.8,38.4 539,49.9 561.8,51.6" fill="#c5c5c5"/>
<polygon points="516.2,54.6 493.4,62.1 486.6,83.5 509.4,75.9" fill="#c5c5c5"/>
<polygon points="545.8,22.5 523,20 516.2,28 539,30.5" fill="#4d4d4d"/>
<polygon points="463.8,102.9 441,63.2 434.2,79.2 457,125.6" fill="#cdcdcd"/>
<polygon points="463.8,100.3 441,60.6 434.2,76.6 457,122.9" fill="#c9c9c9"/>
<polygon points="470.6,23.1 447.8,20.6 441,28.7 463.8,31.1" fill="#4d4d4d"/>
<polygon points="486.6,88.8 463.8,102.9 457,125.6 479.8,111.4" fill="#cdcdcd"/>
<polygon points="463.8,97.6 441,57.9 434.2,73.9 457,120.3" fill="#c5c5c5"/>
<polygon points="486.6,86.1 463.8,100.3 457,122.9 479.8,108.8" fill="#c9c9c9"/>
<polygon points="568.6,32.9 545.8,30.5 539,39.8 561.8,42.3" fill="#ebebeb"/>
<polygon points="486.6,83.5 463.8,97.6 457,120.3 479.8,106.1" fill="#c5c5c5"/>
<polygon points="591.4,48.7 568.6,46.2 561.8,56.9 584.6,59.4" fill="#cdcdcd"/>
<polygon points="493.4,34.9 470.6,32.4 463.8,41.8 486.6,44.2" fill="#ebebeb"/>
<polygon points="591.4,46 568.6,43.6 561.8,54.2 584.6,56.7" fill="#c9c9c9"/>
<polygon points="591.4,43.4 568.6,40.9 561.8,51.6 584.6,54" fill="#c5c5c5"/>
<polygon points="568.6,24.9 545.8,22.5 539,30.5 561.8,32.9" fill="#4d4d4d"/>
<polygon points="539,55.2 516.2,60 509.4,81.3 532.2,76.5" fill="#cdcdcd"/>
<polygon points="493.4,25.6 470.6,23.1 463.8,31.1 486.6,33.6" fill="#4d4d4d"/>
<polygon points="539,52.6 516.2,57.3 509.4,78.6 532.2,73.9" fill="#c9c9c9"/>
<polygon points="591.4,35.4 568.6,32.9 561.8,42.3 584.6,44.7" fill="#ebebeb"/>
<polygon points="539,49.9 516.2,54.6 509.4,75.9 532.2,71.2" fill="#c5c5c5"/>
<polygon points="516.2,37.3 493.4,34.9 486.6,44.2 509.4,46.7" fill="#ebebeb"/>
<polygon points="463.8,41.8 441,68.6 434.2,87.2 457,55.1" fill="#ebebeb"/>
<polygon points="591.4,27.4 568.6,24.9 561.8,32.9 584.6,35.4" fill="#4d4d4d"/>
<polygon points="509.4,81.3 486.6,88.8 479.8,111.4 502.6,103.9" fill="#cdcdcd"/>
<polygon points="516.2,28 493.4,25.6 486.6,33.6 509.4,36" fill="#4d4d4d"/>
<polygon points="509.4,78.6 486.6,86.1 479.8,108.8 502.6,101.2" fill="#c9c9c9"/>
<polygon points="509.4,75.9 486.6,83.5 479.8,106.1 502.6,98.6" fill="#c5c5c5"/>
<polygon points="561.8,56.9 539,55.2 532.2,76.5 555,72.9" fill="#cdcdcd"/>
<polygon points="457,125.6 434.2,79.2 427.4,100.5 450.2,145.6" fill="#cdcdcd"/>
<polygon points="561.8,54.2 539,52.6 532.2,73.9 555,70.2" fill="#c9c9c9"/>
<polygon points="539,39.8 516.2,37.3 509.4,46.7 532.2,49.1" fill="#ebebeb"/>
<polygon points="457,122.9 434.2,76.6 427.4,97.9 450.2,142.9" fill="#c9c9c9"/>
<polygon points="479.8,111.4 457,125.6 450.2,145.6 473,131.4" fill="#cdcdcd"/>
<polygon points="561.8,51.6 539,49.9 532.2,71.2 555,67.6" fill="#c5c5c5"/>
<polygon points="457,120.3 434.2,73.9 427.4,95.2 450.2,140.2" fill="#c5c5c5"/>
<polygon points="479.8,108.8 457,122.9 450.2,142.9 473,128.7" fill="#c9c9c9"/>
<polygon points="479.8,106.1 457,120.3 450.2,140.2 473,126.1" fill="#c5c5c5"/>
<polygon points="539,30.5 516.2,28 509.4,36 532.2,38.5" fill="#4d4d4d"/>
<polygon points="463.8,31.1 441,28.7 434.2,36.7 457,39.1" fill="#4d4d4d"/>
<polygon points="584.6,59.4 561.8,56.9 555,72.9 577.8,75.3" fill="#cdcdcd"/>
<polygon points="532.2,76.5 509.4,81.3 502.6,103.9 525.4,99.2" fill="#cdcdcd"/>
<polygon points="561.8,42.3 539,39.8 532.2,49.1 555,51.6" fill="#ebebeb"/>
<polygon points="584.6,56.7 561.8,54.2 555,70.2 577.8,72.7" fill="#c9c9c9"/>
<polygon points="486.6,44.2 463.8,41.8 457,55.1 479.8,54.9" fill="#ebebeb"/>
<polygon points="532.2,73.9 509.4,78.6 502.6,101.2 525.4,96.5" fill="#c9c9c9"/>
<polygon points="584.6,54 561.8,51.6 555,67.6 577.8,70" fill="#c5c5c5"/>
<polygon points="532.2,71.2 509.4,75.9 502.6,98.6 525.4,93.9" fill="#c5c5c5"/>
<polygon points="561.8,32.9 539,30.5 532.2,38.5 555,41" fill="#4d4d4d"/>
<polygon points="457,55.1 434.2,87.2 427.4,111.2 450.2,73.7" fill="#ebebeb"/>
<polygon points="486.6,33.6 463.8,31.1 457,39.1 479.8,41.6" fill="#4d4d4d"/>
<polygon points="502.6,103.9 479.8,111.4 473,131.4 495.8,123.9" fill="#cdcdcd"/>
<polygon points="584.6,44.7 561.8,42.3 555,51.6 577.8,54.1" fill="#ebebeb"/>
<polygon points="502.6,101.2 479.8,108.8 473,128.7 495.8,121.2" fill="#c9c9c9"/>
<polygon points="509.4,46.7 486.6,44.2 479.8,54.9 502.6,57.4" fill="#ebebeb"/>
<polygon points="502.6,98.6 479.8,106.1 473,126.1 495.8,118.6" fill="#c5c5c5"/>
<polygon points="450.2,145.6 427.4,100.5 420.5,131.2 443.4,165.5" fill="#cdcdcd"/>
<polygon points="555,72.9 532.2,76.5 525.4,99.2 548.2,95.5" fill="#cdcdcd"/>
<polygon points="450.2,142.9 427.4,97.9 420.5,128.5 443.4,162.9" fill="#c9c9c9"/>
<polygon points="555,70.2 532.2,73.9 525.4,96.5 548.2,92.9" fill="#c9c9c9"/>
<polygon points="584.6,35.4 561.8,32.9 555,41 577.8,43.4" fill="#4d4d4d"/>
<polygon points="450.2,140.2 427.4,95.2 420.5,125.8 443.4,160.2" fill="#c5c5c5"/>
<polygon points="555,67.6 532.2,71.2 525.4,93.9 548.2,90.2" fill="#c5c5c5"/>
<polygon points="473,131.4 450.2,145.6 443.4,165.5 466.1,151.4" fill="#cdcdcd"/>
<polygon points="473,128.7 450.2,142.9 443.4,162.9 466.1,148.7" fill="#c9c9c9"/>
<polygon points="509.4,36 486.6,33.6 479.8,41.6 502.6,44.1" fill="#4d4d4d"/>
<polygon points="473,126.1 450.2,140.2 443.4,160.2 466.1,146.1" fill="#c5c5c5"/>
<polygon points="532.2,49.1 509.4,46.7 502.6,57.4 525.4,59.8" fill="#ebebeb"/>
<polygon points="525.4,99.2 502.6,103.9 495.8,123.9 518.6,119.2" fill="#cdcdcd"/>
<polygon points="525.4,96.5 502.6,101.2 495.8,121.2 518.6,116.5" fill="#c9c9c9"/>
<polygon points="577.8,75.3 555,72.9 548.2,95.5 571,91.3" fill="#cdcdcd"/>
<polygon points="525.4,93.9 502.6,98.6 495.8,118.6 518.6,113.8" fill="#c5c5c5"/>
<polygon points="577.8,72.7 555,70.2 548.2,92.9 571,88.7" fill="#c9c9c9"/>
<polygon points="450.2,73.7 427.4,111.2 420.5,139.1 443.4,115" fill="#ebebeb"/>
<polygon points="532.2,38.5 509.4,36 502.6,44.1 525.4,46.5" fill="#4d4d4d"/>
<polygon points="577.8,70 555,67.6 548.2,90.2 571,86" fill="#c5c5c5"/>
<polygon points="443.4,165.5 420.5,131.2 413.7,195 436.5,188.2" fill="#cdcdcd"/>
<polygon points="479.8,54.9 457,55.1 450.2,73.7 473,68.2" fill="#ebebeb"/>
<polygon points="457,39.1 434.2,36.7 427.4,51.3 450.2,47.1" fill="#4d4d4d"/>
<polygon points="555,51.6 532.2,49.1 525.4,59.8 548.2,62.3" fill="#ebebeb"/>
<polygon points="443.4,162.9 420.5,128.5 413.7,192.4 436.5,185.5" fill="#c9c9c9"/>
<polygon points="443.4,160.2 420.5,125.8 413.7,189.7 436.5,182.9" fill="#c5c5c5"/>
<polygon points="495.8,123.9 473,131.4 466.1,151.4 489,143.9" fill="#cdcdcd"/>
<polygon points="495.8,121.2 473,128.7 466.1,148.7 489,141.2" fill="#c9c9c9"/>
<polygon points="443.4,115 420.5,139.1 413.7,189.7 436.5,185.5" fill="#ebebeb"/>
<polygon points="495.8,118.6 473,126.1 466.1,146.1 489,138.5" fill="#c5c5c5"/>
<polygon points="548.2,95.5 525.4,99.2 518.6,119.2 541.4,115.5" fill="#cdcdcd"/>
<polygon points="555,41 532.2,38.5 525.4,46.5 548.2,49" fill="#4d4d4d"/>
<polygon points="548.2,92.9 525.4,96.5 518.6,116.5 541.4,112.8" fill="#c9c9c9"/>
<polygon points="479.8,41.6 457,39.1 450.2,47.1 473,49.6" fill="#4d4d4d"/>
<polygon points="548.2,90.2 525.4,93.9 518.6,113.8 541.4,110.2" fill="#c5c5c5"/>
<polygon points="577.8,54.1 555,51.6 548.2,62.3 571,64.7" fill="#ebebeb"/>
<polygon points="502.6,57.4 479.8,54.9 473,68.2 495.8,72" fill="#ebebeb"/>
<polygon points="466.1,151.4 443.4,165.5 436.5,188.2 459.3,174" fill="#cdcdcd"/>
<polygon points="466.1,148.7 443.4,162.9 436.5,185.5 459.3,171.4" fill="#c9c9c9"/>
<polygon points="466.1,146.1 443.4,160.2 436.5,182.9 459.3,168.7" fill="#c5c5c5"/>
<polygon points="577.8,43.4 555,41 548.2,49 571,51.4" fill="#4d4d4d"/>
<polygon points="518.6,119.2 495.8,123.9 489,143.9 511.8,139.1" fill="#cdcdcd"/>
<polygon points="473,68.2 450.2,73.7 443.4,115 466.1,108.2" fill="#ebebeb"/>
<polygon points="502.6,44.1 479.8,41.6 473,49.6 495.8,52.1" fill="#4d4d4d"/>
<polygon points="525.4,59.8 502.6,57.4 495.8,72 518.6,74.5" fill="#ebebeb"/>
<polygon points="518.6,116.5 495.8,121.2 489,141.2 511.8,136.5" fill="#c9c9c9"/>
<polygon points="571,91.3 548.2,95.5 541.4,115.5 564.2,111.3" fill="#cdcdcd"/>
<polygon points="518.6,113.8 495.8,118.6 489,138.5 511.8,133.8" fill="#c5c5c5"/>
<polygon points="571,88.7 548.2,92.9 541.4,112.8 564.2,108.6" fill="#c9c9c9"/>
<polygon points="571,86 548.2,90.2 541.4,110.2 564.2,106" fill="#c5c5c5"/>
<polygon points="466.1,108.2 443.4,115 436.5,185.5 459.3,172" fill="#ebebeb"/>
<polygon points="489,143.9 466.1,151.4 459.3,174 482.1,166.5" fill="#cdcdcd"/>
<polygon points="489,141.2 466.1,148.7 459.3,171.4 482.1,163.8" fill="#c9c9c9"/>
<polygon points="525.4,46.5 502.6,44.1 495.8,52.1 518.6,54.5" fill="#4d4d4d"/>
<polygon points="548.2,62.3 525.4,59.8 518.6,74.5 541.4,76.9" fill="#ebebeb"/>
<polygon points="489,138.5 466.1,146.1 459.3,168.7 482.1,161.2" fill="#c5c5c5"/>
<polygon points="541.4,115.5 518.6,119.2 511.8,139.1 534.6,135.5" fill="#cdcdcd"/>
<polygon points="541.4,112.8 518.6,116.5 511.8,136.5 534.6,132.8" fill="#c9c9c9"/>
<polygon points="541.4,110.2 518.6,113.8 511.8,133.8 534.6,130.2" fill="#c5c5c5"/>
<polygon points="548.2,49 525.4,46.5 518.6,54.5 541.4,57" fill="#4d4d4d"/>
<polygon points="571,64.7 548.2,62.3 541.4,76.9 564.2,79.4" fill="#ebebeb"/>
<polygon points="511.8,139.1 489,143.9 482.1,166.5 504.9,161.8" fill="#cdcdcd"/>
<polygon points="511.8,136.5 489,141.2 482.1,163.8 504.9,159.1" fill="#c9c9c9"/>
<polygon points="564.2,111.3 541.4,115.5 534.6,135.5 557.4,131.3" fill="#cdcdcd"/>
<polygon points="511.8,133.8 489,138.5 482.1,161.2 504.9,156.5" fill="#c5c5c5"/>
<polygon points="564.2,108.6 541.4,112.8 534.6,132.8 557.4,128.6" fill="#c9c9c9"/>
<polygon points="564.2,106 541.4,110.2 534.6,130.2 557.4,126" fill="#c5c5c5"/>
<polygon points="571,51.4 548.2,49 541.4,57 564.2,59.4" fill="#4d4d4d"/>
<polygon points="534.6,135.5 511.8,139.1 504.9,161.8 527.7,158.1" fill="#cdcdcd"/>
<polygon points="534.6,132.8 511.8,136.5 504.9,159.1 527.7,155.5" fill="#c9c9c9"/>
<polygon points="534.6,130.2 511.8,133.8 504.9,156.5 527.7,152.8" fill="#c5c5c5"/>
<polygon points="557.4,131.3 534.6,135.5 527.7,158.1 550.5,153.9" fill="#cdcdcd"/>
<polygon points="557.4,128.6 534.6,132.8 527.7,155.5 550.5,151.3" fill="#c9c9c9"/>
<polygon points="557.4,126 534.6,130.2 527.7,152.8 550.5,148.6" fill="#c5c5c5"/>
<polygon points="473,49.6 450.2,47.1 443.4,55.2 466.1,59.6" fill="#4d4d4d"/>
<polygon points="495.8,52.1 473,49.6 466.1,59.6 489,69.4" fill="#4d4d4d"/>
<polygon points="450.2,47.1 427.4,51.3 420.5,159.1 443.4,55.2" fill="#4d4d4d"/>
<polygon points="443.4,55.2 420.5,159.1 413.7,189.7 436.5,83.1" fill="#4d4d4d"/>
</g>
<rect x="88.9" y="58.2" width="5" height="5" fill="#000" stroke="#fff" stroke-width="1.3"/>
<rect x="94.1" y="25.5" width="32.1" height="32.5" fill="#fff" stroke="#e2e2e2" stroke-width="0.8"/>
<text x="98" y="35.7" font-size="6.7" text-anchor="start" fill="#222" >X: 0.8</text>
<text x="98" y="44.4" font-size="6.7" text-anchor="start" fill="#222" >Y: 1.2</text>
<text x="98" y="53.1" font-size="6.7" text-anchor="start" fill="#222" >Z: 45.77</text>
<rect x="154.4" y="304.3" width="5" height="5" fill="#000" stroke="#fff" stroke-width="1.3"/>
<rect x="160.2" y="269.3" width="25.6" height="34.1" fill="#fff" stroke="#e2e2e2" stroke-width="0.8"/>
<text x="163.8" y="279.8" font-size="6.9" text-anchor="start" fill="#222" >X: 1.6</text>
<text x="163.8" y="288.9" font-size="6.9" text-anchor="start" fill="#222" >Y: 2</text>
<text x="163.8" y="297.9" font-size="6.9" text-anchor="start" fill="#222" >Z: 1</text>
<rect x="146.3" y="606.7" width="5" height="5" fill="#000" stroke="#fff" stroke-width="1.3"/>
<rect x="152.2" y="571.8" width="32.2" height="33.4" fill="#fff" stroke="#e2e2e2" stroke-width="0.8"/>
<text x="155.7" y="582.5" font-size="6.7" text-anchor="start" fill="#222" >X: 0.9</text>
<text x="155.7" y="591.5" font-size="6.7" text-anchor="start" fill="#222" >Y: 0.9</text>
<text x="155.7" y="600.6" font-size="6.7" text-anchor="start" fill="#222" >Z: 38.15</text>
</svg>
</body></html>
